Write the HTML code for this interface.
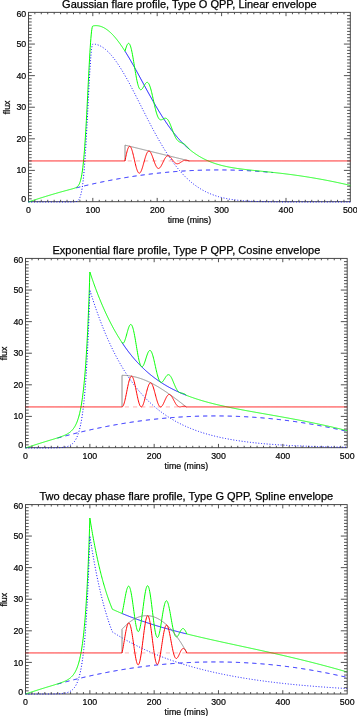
<!DOCTYPE html>
<html><head><meta charset="utf-8"><style>
html,body{margin:0;padding:0;background:#fff;}
svg{display:block;}
text{font-family:'Liberation Sans', sans-serif;fill:#000;}
.tt{font-size:11px;stroke:#000;stroke-width:0.25px;}
.tl{font-size:8.8px;stroke:#000;stroke-width:0.2px;}
.ax{fill:none;stroke:#404040;stroke-width:0.95;}
.tk{fill:none;stroke:#404040;stroke-width:0.9;}
.g{fill:none;stroke:#00ff00;stroke-width:1.0;stroke-linejoin:round;}
.dot{fill:none;stroke:#0000ff;stroke-width:1.0;stroke-dasharray:1 1.8;}
.dash{fill:none;stroke:#0000ff;stroke-width:1.0;stroke-dasharray:4.2 4;}
.r{fill:none;stroke:#ff0000;stroke-width:1.0;stroke-linejoin:round;}
.pk{fill:none;stroke:#ffb0b0;stroke-width:1.0;stroke-dasharray:4.2 4;}
.gr{fill:none;stroke:#808080;stroke-width:0.9;}
.b{fill:none;stroke:#0000ff;stroke-width:1.0;}
</style></head>
<body><svg width="357" height="716" viewBox="0 0 357 716">
<defs><filter id="bl" filterUnits="userSpaceOnUse" x="0" y="0" width="357" height="716"><feGaussianBlur stdDeviation="0.35"/></filter></defs>
<rect width="357" height="716" fill="#fff"/>
<g filter="url(#bl)">
<rect x="28.5" y="12.35" width="321.8" height="189.35" class="ax"/>
<path d="M74.77,188.25 L75.09,188.17 L75.41,188.09 L75.73,188 L76.06,187.92 L76.38,187.84 L76.7,187.76 L77.02,187.68 L77.34,187.6 L77.67,187.52 L77.99,187.44 L78.31,187.36 L78.63,187.28 L78.95,187.2 L79.28,187.12 L79.6,187.04 L79.92,186.96 L80.24,186.88 L80.56,186.8 L80.89,186.72 L81.21,186.64 L81.53,186.56 L81.85,186.49 L82.17,186.41 L82.5,186.33 L82.82,186.25 L83.14,186.18 L83.46,186.1 L83.78,186.02 L84.11,185.94 L84.43,185.87 L84.75,185.79 L85.07,185.71 L85.39,185.64 L85.72,185.56 L86.04,185.49 L86.36,185.41 L86.68,185.34 L87,185.26 L87.33,185.19 L87.65,185.11 L87.97,185.04 L88.29,184.96 L88.61,184.89 L88.94,184.81 L89.26,184.74 L89.58,184.66 L89.9,184.59 L90.22,184.52 L90.55,184.44 L90.87,184.37 L91.19,184.3 L91.51,184.23 L91.83,184.15 L92.16,184.08 L92.48,184.01 L92.8,183.94 L93.12,183.87 L93.44,183.79 L93.77,183.72 L94.09,183.65 L94.41,183.58 L94.73,183.51 L95.05,183.44 L95.38,183.37 L95.7,183.3 L96.02,183.23 L96.34,183.16 L96.66,183.09 L96.99,183.02 L97.31,182.95 L97.63,182.88 L97.95,182.81 L98.27,182.74 L98.6,182.67 L98.92,182.61 L99.24,182.54 L99.56,182.47 L99.88,182.4 L100.21,182.33 L100.53,182.27 L100.85,182.2 L101.17,182.13 L101.49,182.06 L101.82,182 L102.14,181.93 L102.46,181.86 L102.78,181.8 L103.1,181.73 L103.43,181.67 L103.75,181.6 L104.07,181.54 L104.39,181.47 L104.71,181.41 L105.04,181.34 L105.36,181.28 L105.68,181.21 L106,181.15 L106.32,181.08 L106.65,181.02 L106.97,180.95 L107.29,180.89 L107.61,180.83 L107.93,180.76 L108.26,180.7 L108.58,180.64 L108.9,180.58 L109.22,180.51 L109.54,180.45 L109.87,180.39 L110.19,180.33 L110.51,180.26 L110.83,180.2 L111.15,180.14 L111.48,180.08 L111.8,180.02 L112.12,179.96 L112.44,179.9 L112.76,179.84 L113.09,179.78 L113.41,179.72 L113.73,179.66 L114.05,179.6 L114.37,179.54 L114.7,179.48 L115.02,179.42 L115.34,179.36 L115.66,179.3 L115.98,179.24 L116.31,179.18 L116.63,179.13 L116.95,179.07 L117.27,179.01 L117.59,178.95 L117.92,178.89 L118.24,178.84 L118.56,178.78 L118.88,178.72 L119.2,178.67 L119.53,178.61 L119.85,178.55 L120.17,178.5 L120.49,178.44 L120.81,178.38 L121.14,178.33 L121.46,178.27 L121.78,178.22 L122.1,178.16 L122.42,178.11 L122.75,178.05 L123.07,178 L123.39,177.94 L123.71,177.89 L124.03,177.84 L124.36,177.78 L124.68,177.73 L125,177.67 L125.32,177.62 L125.64,177.57 L125.97,177.51 L126.29,177.46 L126.61,177.41 L126.93,177.36 L127.25,177.3 L127.58,177.25 L127.9,177.2 L128.22,177.15 L128.54,177.1 L128.86,177.05 L129.19,177 L129.51,176.94 L129.83,176.89 L130.15,176.84 L130.47,176.79 L130.8,176.74 L131.12,176.69 L131.44,176.64 L131.76,176.59 L132.08,176.54 L132.41,176.49 L132.73,176.44 L133.05,176.4 L133.37,176.35 L133.69,176.3 L134.02,176.25 L134.34,176.2 L134.66,176.15 L134.98,176.11 L135.3,176.06 L135.63,176.01 L135.95,175.96 L136.27,175.92 L136.59,175.87 L136.91,175.82 L137.24,175.78 L137.56,175.73 L137.88,175.68 L138.2,175.64 L138.52,175.59 L138.85,175.55 L139.17,175.5 L139.49,175.46 L139.81,175.41 L140.13,175.37 L140.46,175.32 L140.78,175.28 L141.1,175.23 L141.42,175.19 L141.74,175.15 L142.07,175.1 L142.39,175.06 L142.71,175.01 L143.03,174.97 L143.35,174.93 L143.68,174.89 L144,174.84 L144.32,174.8 L144.64,174.76 L144.96,174.72 L145.29,174.67 L145.61,174.63 L145.93,174.59 L146.25,174.55 L146.57,174.51 L146.9,174.47 L147.22,174.43 L147.54,174.39 L147.86,174.35 L148.18,174.31 L148.51,174.27 L148.83,174.23 L149.15,174.19 L149.47,174.15 L149.79,174.11 L150.12,174.07 L150.44,174.03 L150.76,173.99 L151.08,173.95 L151.4,173.91 L151.73,173.87 L152.05,173.84 L152.37,173.8 L152.69,173.76 L153.01,173.72 L153.34,173.69 L153.66,173.65 L153.98,173.61 L154.3,173.58 L154.62,173.54 L154.95,173.5 L155.27,173.47 L155.59,173.43 L155.91,173.39 L156.23,173.36 L156.56,173.32 L156.88,173.29 L157.2,173.25 L157.52,173.22 L157.84,173.18 L158.17,173.15 L158.49,173.11 L158.81,173.08 L159.13,173.05 L159.45,173.01 L159.78,172.98 L160.1,172.95 L160.42,172.91 L160.74,172.88 L161.06,172.85 L161.39,172.81 L161.71,172.78 L162.03,172.75 L162.35,172.72 L162.67,172.68 L163,172.65 L163.32,172.62 L163.64,172.59 L163.96,172.56 L164.28,172.53 L164.61,172.5 L164.93,172.47 L165.25,172.44 L165.57,172.41 L165.89,172.38 L166.22,172.35 L166.54,172.32 L166.86,172.29 L167.18,172.26 L167.5,172.23 L167.83,172.2 L168.15,172.17 L168.47,172.14 L168.79,172.11 L169.11,172.08 L169.44,172.06 L169.76,172.03 L170.08,172 L170.4,171.97 L170.72,171.95 L171.05,171.92 L171.37,171.89 L171.69,171.86 L172.01,171.84 L172.33,171.81 L172.66,171.79 L172.98,171.76 L173.3,171.73 L173.62,171.71 L173.94,171.68 L174.27,171.66 L174.59,171.63 L174.91,171.61 L175.23,171.58 L175.55,171.56 L175.88,171.53 L176.2,171.51 L176.52,171.48 L176.84,171.46 L177.16,171.44 L177.49,171.41 L177.81,171.39 L178.13,171.37 L178.45,171.34 L178.77,171.32 L179.1,171.3 L179.42,171.28 L179.74,171.25 L180.06,171.23 L180.38,171.21 L180.71,171.19 L181.03,171.17 L181.35,171.15 L181.67,171.12 L181.99,171.1 L182.32,171.08 L182.64,171.06 L182.96,171.04 L183.28,171.02 L183.6,171 L183.93,170.98 L184.25,170.96 L184.57,170.94 L184.89,170.92 L185.21,170.9 L185.54,170.89 L185.86,170.87 L186.18,170.85 L186.5,170.83 L186.82,170.81 L187.15,170.79 L187.47,170.78 L187.79,170.76 L188.11,170.74 L188.43,170.72 L188.76,170.71 L189.08,170.69 L189.4,170.67 L189.72,170.66 L190.04,170.64 L190.37,170.62 L190.69,170.61 L191.01,170.59 L191.33,170.58 L191.65,170.56 L191.98,170.55 L192.3,170.53 L192.62,170.52 L192.94,170.5 L193.26,170.49 L193.59,170.47 L193.91,170.46 L194.23,170.45 L194.55,170.43 L194.87,170.42 L195.2,170.41 L195.52,170.39 L195.84,170.38 L196.16,170.37 L196.48,170.35 L196.81,170.34 L197.13,170.33 L197.45,170.32 L197.77,170.31 L198.09,170.29 L198.42,170.28 L198.74,170.27 L199.06,170.26 L199.38,170.25 L199.7,170.24 L200.03,170.23 L200.35,170.22 L200.67,170.21 L200.99,170.2 L201.31,170.19 L201.64,170.18 L201.96,170.17 L202.28,170.16 L202.6,170.15 L202.92,170.14 L203.25,170.13 L203.57,170.12 L203.89,170.11 L204.21,170.11 L204.53,170.1 L204.86,170.09 L205.18,170.08 L205.5,170.08 L205.82,170.07 L206.14,170.06 L206.47,170.05 L206.79,170.05 L207.11,170.04 L207.43,170.03 L207.75,170.03 L208.08,170.02 L208.4,170.02 L208.72,170.01 L209.04,170.01 L209.36,170 L209.69,169.99 L210.01,169.99 L210.33,169.99 L210.65,169.98 L210.97,169.98 L211.3,169.97 L211.62,169.97 L211.94,169.96 L212.26,169.96 L212.58,169.96 L212.91,169.95 L213.23,169.95 L213.55,169.95 L213.87,169.95 L214.19,169.94 L214.52,169.94 L214.84,169.94 L215.16,169.94 L215.48,169.94 L215.8,169.93 L216.13,169.93 L216.45,169.93 L216.77,169.93 L217.09,169.93 L217.41,169.93 L217.74,169.93 L218.06,169.93 L218.38,169.93 L218.7,169.93 L219.02,169.93 L219.35,169.93 L219.67,169.93 L219.99,169.93 L220.31,169.93 L220.63,169.93 L220.96,169.93 L221.28,169.94 L221.6,169.94 L221.92,169.94 L222.24,169.94 L222.57,169.94 L222.89,169.95 L223.21,169.95 L223.53,169.95 L223.85,169.95 L224.18,169.96 L224.5,169.96 L224.82,169.96 L225.14,169.97 L225.46,169.97 L225.79,169.98 L226.11,169.98 L226.43,169.99 L226.75,169.99 L227.07,169.99 L227.4,170 L227.72,170.01 L228.04,170.01 L228.36,170.02 L228.68,170.02 L229.01,170.03 L229.33,170.03 L229.65,170.04 L229.97,170.05 L230.29,170.05 L230.62,170.06 L230.94,170.07 L231.26,170.08 L231.58,170.08 L231.9,170.09 L232.23,170.1 L232.55,170.11 L232.87,170.11 L233.19,170.12 L233.51,170.13 L233.84,170.14 L234.16,170.15 L234.48,170.16 L234.8,170.17 L235.12,170.18 L235.45,170.19 L235.77,170.2 L236.09,170.21 L236.41,170.22 L236.73,170.23 L237.06,170.24 L237.38,170.25 L237.7,170.26 L238.02,170.27 L238.34,170.28 L238.67,170.29 L238.99,170.31 L239.31,170.32 L239.63,170.33 L239.95,170.34 L240.28,170.35 L240.6,170.37 L240.92,170.38 L241.24,170.39 L241.56,170.41 L241.89,170.42 L242.21,170.43 L242.53,170.45 L242.85,170.46 L243.17,170.47 L243.5,170.49 L243.82,170.5 L244.14,170.52 L244.46,170.53 L244.78,170.55 L245.11,170.56 L245.43,170.58 L245.75,170.59 L246.07,170.61 L246.39,170.62 L246.72,170.64 L247.04,170.66 L247.36,170.67 L247.68,170.69 L248,170.71 L248.33,170.72 L248.65,170.74 L248.97,170.76 L249.29,170.78 L249.61,170.79 L249.94,170.81 L250.26,170.83 L250.58,170.85 L250.9,170.87 L251.22,170.89 L251.55,170.9 L251.87,170.92 L252.19,170.94 L252.51,170.96 L252.83,170.98 L253.16,171 L253.48,171.02 L253.8,171.04 L254.12,171.06 L254.44,171.08 L254.77,171.1 L255.09,171.12 L255.41,171.15 L255.73,171.17 L256.05,171.19 L256.38,171.21 L256.7,171.23 L257.02,171.25 L257.34,171.28 L257.66,171.3 L257.99,171.32 L258.31,171.34 L258.63,171.37 L258.95,171.39 L259.27,171.41 L259.6,171.44 L259.92,171.46 L260.24,171.48 L260.56,171.51 L260.88,171.53 L261.21,171.56 L261.53,171.58 L261.85,171.61 L262.17,171.63 L262.49,171.66 L262.82,171.68 L263.14,171.71 L263.46,171.73 L263.78,171.76 L264.1,171.79 L264.43,171.81 L264.75,171.84 L265.07,171.86 L265.39,171.89 L265.71,171.92 L266.04,171.95 L266.36,171.97 L266.68,172 L267,172.03 L267.32,172.06 L267.65,172.08 L267.97,172.11 L268.29,172.14 L268.61,172.17 L268.93,172.2 L269.26,172.23 L269.58,172.26 L269.9,172.29 L270.22,172.32 L270.54,172.35 L270.87,172.38 L271.19,172.41 L271.51,172.44 L271.83,172.47 L272.15,172.5 L272.48,172.53 L272.8,172.56 L273.12,172.59" class="dash" stroke-dashoffset="55.88"/>
<path d="M125,51.2 L125.32,51.71 L125.64,52.23 L125.97,52.74 L126.29,53.26 L126.61,53.79 L126.93,54.31 L127.25,54.84 L127.58,55.37 L127.9,55.91 L128.22,56.45 L128.54,56.99 L128.86,57.53 L129.19,58.07 L129.51,58.62 L129.83,59.17 L130.15,59.72 L130.47,60.28 L130.8,60.83 L131.12,61.39 L131.44,61.95 L131.76,62.52 L132.08,63.08 L132.41,63.65 L132.73,64.22 L133.05,64.79 L133.37,65.36 L133.69,65.93 L134.02,66.51 L134.34,67.08 L134.66,67.66 L134.98,68.24 L135.3,68.82 L135.63,69.41 L135.95,69.99 L136.27,70.57 L136.59,71.16 L136.91,71.75 L137.24,72.33 L137.56,72.92 L137.88,73.51 L138.2,74.1 L138.52,74.69 L138.85,75.28 L139.17,75.88 L139.49,76.47 L139.81,77.06 L140.13,77.65 L140.46,78.25 L140.78,78.84 L141.1,79.44 L141.42,80.03 L141.74,80.63 L142.07,81.22 L142.39,81.82 L142.71,82.41 L143.03,83 L143.35,83.6 L143.68,84.19 L144,84.79 L144.32,85.38 L144.64,85.97 L144.96,86.57 L145.29,87.16 L145.61,87.75 L145.93,88.34 L146.25,88.93 L146.57,89.52 L146.9,90.11 L147.22,90.7 L147.54,91.29 L147.86,91.88 L148.18,92.46 L148.51,93.05 L148.83,93.63 L149.15,94.21 L149.47,94.8 L149.79,95.38 L150.12,95.96 L150.44,96.53 L150.76,97.11 L151.08,97.69 L151.4,98.26 L151.73,98.83 L152.05,99.41 L152.37,99.98 L152.69,100.54 L153.01,101.11 L153.34,101.68 L153.66,102.24 L153.98,102.8 L154.3,103.36 L154.62,103.92 L154.95,104.48 L155.27,105.03 L155.59,105.59 L155.91,106.14 L156.23,106.69 L156.56,107.23 L156.88,107.78 L157.2,108.32 L157.52,108.86 L157.84,109.4 L158.17,109.94 L158.49,110.47 L158.81,111.01 L159.13,111.54 L159.45,112.06 L159.78,112.59 L160.1,113.11 L160.42,113.63 L160.74,114.15 L161.06,114.67 L161.39,115.18 L161.71,115.7 L162.03,116.21 L162.35,116.71 L162.67,117.22 L163,117.72 L163.32,118.22 L163.64,118.71 L163.96,119.21 L164.28,119.7 L164.61,120.19 L164.93,120.68 L165.25,121.16 L165.57,121.64 L165.89,122.12 L166.22,122.59 L166.54,123.07 L166.86,123.54 L167.18,124 L167.5,124.47 L167.83,124.93 L168.15,125.39 L168.47,125.85 L168.79,126.3 L169.11,126.75 L169.44,127.2 L169.76,127.64 L170.08,128.09 L170.4,128.53 L170.72,128.96 L171.05,129.4 L171.37,129.83 L171.69,130.25 L172.01,130.68 L172.33,131.1 L172.66,131.52 L172.98,131.94 L173.3,132.35 L173.62,132.76 L173.94,133.17 L174.27,133.57 L174.59,133.97 L174.91,134.37 L175.23,134.77 L175.55,135.16 L175.88,135.55 L176.2,135.94 L176.52,136.32 L176.84,136.7 L177.16,137.08 L177.49,137.46 L177.81,137.83 L178.13,138.2 L178.45,138.56 L178.77,138.93 L179.1,139.29 L179.42,139.64 L179.74,140 L180.06,140.35 L180.38,140.7 L180.71,141.04 L181.03,141.39 L181.35,141.73 L181.67,142.06 L181.99,142.4 L182.32,142.73 L182.64,143.06 L182.96,143.38 L183.28,143.7 L183.6,144.02 L183.93,144.34 L184.25,144.65 L184.57,144.97 L184.89,145.27 L185.21,145.58 L185.54,145.88 L185.86,146.18 L186.18,146.48 L186.5,146.77 L186.82,147.07 L187.15,147.35 L187.47,147.64 L187.79,147.92 L188.11,148.2 L188.43,148.48 L188.76,148.76 L189.08,149.03 L189.4,149.3" class="b"/>
<path d="M28.4,201.99 L28.72,201.88 L29.04,201.77 L29.37,201.66 L29.69,201.56 L30.01,201.45 L30.33,201.34 L30.65,201.23 L30.98,201.13 L31.3,201.02 L31.62,200.91 L31.94,200.81 L32.26,200.7 L32.59,200.59 L32.91,200.49 L33.23,200.38 L33.55,200.27 L33.87,200.17 L34.2,200.06 L34.52,199.96 L34.84,199.85 L35.16,199.75 L35.48,199.64 L35.81,199.54 L36.13,199.43 L36.45,199.33 L36.77,199.23 L37.09,199.12 L37.42,199.02 L37.74,198.92 L38.06,198.81 L38.38,198.71 L38.7,198.61 L39.03,198.5 L39.35,198.4 L39.67,198.3 L39.99,198.2 L40.31,198.09 L40.64,197.99 L40.96,197.89 L41.28,197.79 L41.6,197.69 L41.92,197.59 L42.25,197.49 L42.57,197.39 L42.89,197.29 L43.21,197.19 L43.53,197.09 L43.86,196.99 L44.18,196.89 L44.5,196.79 L44.82,196.69 L45.14,196.59 L45.47,196.49 L45.79,196.39 L46.11,196.29 L46.43,196.19 L46.75,196.09 L47.08,196 L47.4,195.9 L47.72,195.8 L48.04,195.7 L48.36,195.61 L48.69,195.51 L49.01,195.41 L49.33,195.31 L49.65,195.22 L49.97,195.12 L50.3,195.03 L50.62,194.93 L50.94,194.83 L51.26,194.74 L51.58,194.64 L51.91,194.55 L52.23,194.45 L52.55,194.36 L52.87,194.26 L53.19,194.17 L53.52,194.07 L53.84,193.98 L54.16,193.88 L54.48,193.79 L54.8,193.7 L55.13,193.6 L55.45,193.51 L55.77,193.42 L56.09,193.32 L56.41,193.23 L56.74,193.14 L57.06,193.05 L57.38,192.95 L57.7,192.86 L58.02,192.77 L58.35,192.68 L58.67,192.59 L58.99,192.5 L59.31,192.41 L59.63,192.31 L59.96,192.22 L60.28,192.13 L60.6,192.04 L60.92,191.95 L61.24,191.86 L61.57,191.77 L61.89,191.68 L62.21,191.59 L62.53,191.5 L62.85,191.42 L63.18,191.33 L63.5,191.24 L63.82,191.15 L64.14,191.06 L64.46,190.97 L64.79,190.88 L65.11,190.8 L65.43,190.71 L65.75,190.62 L66.07,190.53 L66.4,190.45 L66.72,190.36 L67.04,190.27 L67.36,190.19 L67.68,190.1 L68.01,190.01 L68.33,189.93 L68.65,189.84 L68.97,189.76 L69.29,189.67 L69.62,189.59 L69.94,189.5 L70.26,189.41 L70.58,189.33 L70.9,189.24 L71.23,189.16 L71.55,189.07 L71.87,188.98 L72.19,188.89 L72.51,188.81 L72.84,188.71 L73.16,188.62 L73.48,188.53 L73.8,188.43 L74.12,188.32 L74.45,188.22 L74.77,188.1 L75.09,187.98 L75.41,187.84 L75.73,187.7 L76.06,187.53 L76.38,187.35 L76.7,187.15 L77.02,186.92 L77.34,186.65 L77.67,186.35 L77.99,186 L78.31,185.6 L78.63,185.14 L78.95,184.6 L79.28,183.98 L79.6,183.27 L79.92,182.45 L80.24,181.5 L80.56,180.42 L80.89,179.18 L81.21,177.78 L81.53,176.18 L81.85,174.38 L82.17,172.36 L82.5,170.1 L82.82,167.59 L83.14,164.8 L83.46,161.73 L83.78,158.36 L84.11,154.69 L84.43,150.7 L84.75,146.41 L85.07,141.8 L85.39,136.89 L85.72,131.69 L86.04,126.21 L86.36,120.48 L86.68,114.53 L87,108.38 L87.33,102.09 L87.65,95.69 L87.97,89.24 L88.29,82.79 L88.61,76.4 L88.94,70.12 L89.26,64.04 L89.58,58.2 L89.9,52.67 L90.22,47.51 L90.55,42.8 L90.87,38.57 L91.19,34.89 L91.51,31.8 L91.83,29.34 L92.16,27.54 L92.48,26.42 L92.8,26 L93.12,25.93 L93.44,25.87 L93.77,25.81 L94.09,25.77 L94.41,25.73 L94.73,25.69 L95.05,25.67 L95.38,25.65 L95.7,25.64 L96.02,25.64 L96.34,25.64 L96.66,25.65 L96.99,25.67 L97.31,25.69 L97.63,25.73 L97.95,25.77 L98.27,25.81 L98.6,25.87 L98.92,25.93 L99.24,25.99 L99.56,26.07 L99.88,26.15 L100.21,26.24 L100.53,26.33 L100.85,26.44 L101.17,26.54 L101.49,26.66 L101.82,26.78 L102.14,26.91 L102.46,27.05 L102.78,27.19 L103.1,27.34 L103.43,27.5 L103.75,27.67 L104.07,27.84 L104.39,28.01 L104.71,28.2 L105.04,28.39 L105.36,28.58 L105.68,28.79 L106,29 L106.32,29.21 L106.65,29.43 L106.97,29.66 L107.29,29.9 L107.61,30.14 L107.93,30.39 L108.26,30.64 L108.58,30.9 L108.9,31.17 L109.22,31.44 L109.54,31.72 L109.87,32 L110.19,32.29 L110.51,32.59 L110.83,32.89 L111.15,33.2 L111.48,33.51 L111.8,33.83 L112.12,34.16 L112.44,34.49 L112.76,34.83 L113.09,35.17 L113.41,35.52 L113.73,35.87 L114.05,36.23 L114.37,36.59 L114.7,36.96 L115.02,37.33 L115.34,37.71 L115.66,38.1 L115.98,38.49 L116.31,38.88 L116.63,39.28 L116.95,39.68 L117.27,40.09 L117.59,40.51 L117.92,40.93 L118.24,41.35 L118.56,41.78 L118.88,42.21 L119.2,42.65 L119.53,43.09 L119.85,43.53 L120.17,43.98 L120.49,44.44 L120.81,44.89 L121.14,45.36 L121.46,45.82 L121.78,46.29 L122.1,46.77 L122.42,47.25 L122.75,47.73 L123.07,48.21 L123.39,48.7 L123.71,49.2 L124.03,49.69 L124.36,50.19 L124.68,50.7 L125,51.2 L125.32,50.07 L125.64,48.98 L125.97,47.94 L126.29,46.97 L126.61,46.09 L126.93,45.31 L127.25,44.64 L127.58,44.11 L127.9,43.71 L128.22,43.45 L128.54,43.35 L128.86,43.41 L129.19,43.63 L129.51,44.01 L129.83,44.56 L130.15,45.27 L130.47,46.14 L130.8,47.16 L131.12,48.33 L131.44,49.64 L131.76,51.08 L132.08,52.63 L132.41,54.29 L132.73,56.05 L133.05,57.88 L133.37,59.77 L133.69,61.71 L134.02,63.68 L134.34,65.67 L134.66,67.66 L134.98,69.64 L135.3,71.58 L135.63,73.48 L135.95,75.32 L136.27,77.09 L136.59,78.77 L136.91,80.36 L137.24,81.84 L137.56,83.21 L137.88,84.45 L138.2,85.57 L138.52,86.56 L138.85,87.41 L139.17,88.13 L139.49,88.71 L139.81,89.16 L140.13,89.47 L140.46,89.66 L140.78,89.74 L141.1,89.7 L141.42,89.55 L141.74,89.31 L142.07,88.99 L142.39,88.59 L142.71,88.14 L143.03,87.63 L143.35,87.09 L143.68,86.52 L144,85.95 L144.32,85.38 L144.64,84.83 L144.96,84.3 L145.29,83.82 L145.61,83.38 L145.93,83.01 L146.25,82.71 L146.57,82.5 L146.9,82.37 L147.22,82.33 L147.54,82.4 L147.86,82.57 L148.18,82.85 L148.51,83.24 L148.83,83.74 L149.15,84.34 L149.47,85.06 L149.79,85.88 L150.12,86.79 L150.44,87.8 L150.76,88.9 L151.08,90.08 L151.4,91.34 L151.73,92.65 L152.05,94.02 L152.37,95.43 L152.69,96.88 L153.01,98.35 L153.34,99.84 L153.66,101.32 L153.98,102.8 L154.3,104.26 L154.62,105.69 L154.95,107.09 L155.27,108.44 L155.59,109.73 L155.91,110.96 L156.23,112.13 L156.56,113.22 L156.88,114.23 L157.2,115.16 L157.52,116 L157.84,116.76 L158.17,117.43 L158.49,118.01 L158.81,118.51 L159.13,118.92 L159.45,119.25 L159.78,119.5 L160.1,119.68 L160.42,119.79 L160.74,119.84 L161.06,119.83 L161.39,119.78 L161.71,119.69 L162.03,119.56 L162.35,119.41 L162.67,119.24 L163,119.06 L163.32,118.89 L163.64,118.71 L163.96,118.56 L164.28,118.42 L164.61,118.31 L164.93,118.23 L165.25,118.2 L165.57,118.21 L165.89,118.26 L166.22,118.37 L166.54,118.53 L166.86,118.75 L167.18,119.03 L167.5,119.36 L167.83,119.76 L168.15,120.21 L168.47,120.71 L168.79,121.27 L169.11,121.88 L169.44,122.54 L169.76,123.24 L170.08,123.98 L170.4,124.76 L170.72,125.56 L171.05,126.38 L171.37,127.23 L171.69,128.08 L172.01,128.94 L172.33,129.81 L172.66,130.67 L172.98,131.52 L173.3,132.35 L173.62,133.16 L173.94,133.96 L174.27,134.72 L174.59,135.45 L174.91,136.15 L175.23,136.81 L175.55,137.43 L175.88,138.02 L176.2,138.56 L176.52,139.06 L176.84,139.52 L177.16,139.93 L177.49,140.31 L177.81,140.65 L178.13,140.96 L178.45,141.23 L178.77,141.47 L179.1,141.69 L179.42,141.88 L179.74,142.05 L180.06,142.2 L180.38,142.34 L180.71,142.47 L181.03,142.59 L181.35,142.71 L181.67,142.83 L181.99,142.96 L182.32,143.09 L182.64,143.23 L182.96,143.38 L183.28,143.55 L183.6,143.73 L183.93,143.93 L184.25,144.14 L184.57,144.37 L184.89,144.62 L185.21,144.89 L185.54,145.18 L185.86,145.48 L186.18,145.8 L186.5,146.12 L186.82,146.46 L187.15,146.81 L187.47,147.17 L187.79,147.53 L188.11,147.89 L188.43,148.25 L188.76,148.61 L189.08,148.96 L189.4,149.3 L189.72,149.57 L190.04,149.83 L190.37,150.09 L190.69,150.35 L191.01,150.61 L191.33,150.86 L191.65,151.11 L191.98,151.36 L192.3,151.61 L192.62,151.85 L192.94,152.09 L193.26,152.33 L193.59,152.57 L193.91,152.8 L194.23,153.03 L194.55,153.26 L194.87,153.49 L195.2,153.71 L195.52,153.93 L195.84,154.15 L196.16,154.37 L196.48,154.58 L196.81,154.8 L197.13,155 L197.45,155.21 L197.77,155.42 L198.09,155.62 L198.42,155.82 L198.74,156.02 L199.06,156.21 L199.38,156.41 L199.7,156.6 L200.03,156.79 L200.35,156.98 L200.67,157.16 L200.99,157.35 L201.31,157.53 L201.64,157.71 L201.96,157.88 L202.28,158.06 L202.6,158.23 L202.92,158.4 L203.25,158.57 L203.57,158.74 L203.89,158.9 L204.21,159.06 L204.53,159.22 L204.86,159.38 L205.18,159.54 L205.5,159.69 L205.82,159.85 L206.14,160 L206.47,160.15 L206.79,160.3 L207.11,160.44 L207.43,160.59 L207.75,160.73 L208.08,160.87 L208.4,161.01 L208.72,161.14 L209.04,161.28 L209.36,161.41 L209.69,161.55 L210.01,161.68 L210.33,161.81 L210.65,161.93 L210.97,162.06 L211.3,162.18 L211.62,162.31 L211.94,162.43 L212.26,162.55 L212.58,162.66 L212.91,162.78 L213.23,162.9 L213.55,163.01 L213.87,163.12 L214.19,163.23 L214.52,163.34 L214.84,163.45 L215.16,163.56 L215.48,163.66 L215.8,163.77 L216.13,163.87 L216.45,163.97 L216.77,164.07 L217.09,164.17 L217.41,164.27 L217.74,164.36 L218.06,164.46 L218.38,164.55 L218.7,164.64 L219.02,164.73 L219.35,164.82 L219.67,164.91 L219.99,165 L220.31,165.09 L220.63,165.17 L220.96,165.26 L221.28,165.34 L221.6,165.43 L221.92,165.51 L222.24,165.59 L222.57,165.67 L222.89,165.75 L223.21,165.82 L223.53,165.9 L223.85,165.98 L224.18,166.05 L224.5,166.12 L224.82,166.2 L225.14,166.27 L225.46,166.34 L225.79,166.41 L226.11,166.48 L226.43,166.55 L226.75,166.61 L227.07,166.68 L227.4,166.75 L227.72,166.81 L228.04,166.88 L228.36,166.94 L228.68,167 L229.01,167.07 L229.33,167.13 L229.65,167.19 L229.97,167.25 L230.29,167.31 L230.62,167.37 L230.94,167.42 L231.26,167.48 L231.58,167.54 L231.9,167.59 L232.23,167.65 L232.55,167.7 L232.87,167.76 L233.19,167.81 L233.51,167.86 L233.84,167.92 L234.16,167.97 L234.48,168.02 L234.8,168.07 L235.12,168.12 L235.45,168.17 L235.77,168.22 L236.09,168.27 L236.41,168.32 L236.73,168.36 L237.06,168.41 L237.38,168.46 L237.7,168.5 L238.02,168.55 L238.34,168.6 L238.67,168.64 L238.99,168.69 L239.31,168.73 L239.63,168.77 L239.95,168.82 L240.28,168.86 L240.6,168.9 L240.92,168.95 L241.24,168.99 L241.56,169.03 L241.89,169.07 L242.21,169.11 L242.53,169.15 L242.85,169.19 L243.17,169.23 L243.5,169.27 L243.82,169.31 L244.14,169.35 L244.46,169.39 L244.78,169.43 L245.11,169.47 L245.43,169.51 L245.75,169.54 L246.07,169.58 L246.39,169.62 L246.72,169.66 L247.04,169.69 L247.36,169.73 L247.68,169.77 L248,169.8 L248.33,169.84 L248.65,169.88 L248.97,169.91 L249.29,169.95 L249.61,169.98 L249.94,170.02 L250.26,170.05 L250.58,170.09 L250.9,170.12 L251.22,170.16 L251.55,170.19 L251.87,170.23 L252.19,170.26 L252.51,170.3 L252.83,170.33 L253.16,170.36 L253.48,170.4 L253.8,170.43 L254.12,170.47 L254.44,170.5 L254.77,170.53 L255.09,170.57 L255.41,170.6 L255.73,170.63 L256.05,170.67 L256.38,170.7 L256.7,170.73 L257.02,170.77 L257.34,170.8 L257.66,170.83 L257.99,170.87 L258.31,170.9 L258.63,170.93 L258.95,170.96 L259.27,171 L259.6,171.03 L259.92,171.06 L260.24,171.1 L260.56,171.13 L260.88,171.16 L261.21,171.2 L261.53,171.23 L261.85,171.26 L262.17,171.29 L262.49,171.33 L262.82,171.36 L263.14,171.39 L263.46,171.43 L263.78,171.46 L264.1,171.49 L264.43,171.53 L264.75,171.56 L265.07,171.59 L265.39,171.62 L265.71,171.66 L266.04,171.69 L266.36,171.72 L266.68,171.76 L267,171.79 L267.32,171.82 L267.65,171.86 L267.97,171.89 L268.29,171.93 L268.61,171.96 L268.93,171.99 L269.26,172.03 L269.58,172.06 L269.9,172.1 L270.22,172.13 L270.54,172.16 L270.87,172.2 L271.19,172.23 L271.51,172.27 L271.83,172.3 L272.15,172.34 L272.48,172.37 L272.8,172.41 L273.12,172.44 L273.44,172.48 L273.76,172.51 L274.09,172.55 L274.41,172.58 L274.73,172.62 L275.05,172.65 L275.37,172.69 L275.7,172.72 L276.02,172.76 L276.34,172.8 L276.66,172.83 L276.98,172.87 L277.31,172.91 L277.63,172.94 L277.95,172.98 L278.27,173.02 L278.59,173.05 L278.92,173.09 L279.24,173.13 L279.56,173.16 L279.88,173.2 L280.2,173.24 L280.53,173.28 L280.85,173.31 L281.17,173.35 L281.49,173.39 L281.81,173.43 L282.14,173.47 L282.46,173.5 L282.78,173.54 L283.1,173.58 L283.42,173.62 L283.75,173.66 L284.07,173.7 L284.39,173.74 L284.71,173.78 L285.03,173.82 L285.36,173.86 L285.68,173.9 L286,173.94 L286.32,173.98 L286.64,174.02 L286.97,174.06 L287.29,174.1 L287.61,174.14 L287.93,174.18 L288.25,174.22 L288.58,174.26 L288.9,174.3 L289.22,174.35 L289.54,174.39 L289.86,174.43 L290.19,174.47 L290.51,174.51 L290.83,174.56 L291.15,174.6 L291.47,174.64 L291.8,174.68 L292.12,174.73 L292.44,174.77 L292.76,174.81 L293.08,174.86 L293.41,174.9 L293.73,174.94 L294.05,174.99 L294.37,175.03 L294.69,175.08 L295.02,175.12 L295.34,175.17 L295.66,175.21 L295.98,175.25 L296.3,175.3 L296.63,175.35 L296.95,175.39 L297.27,175.44 L297.59,175.48 L297.91,175.53 L298.24,175.57 L298.56,175.62 L298.88,175.67 L299.2,175.71 L299.52,175.76 L299.85,175.81 L300.17,175.85 L300.49,175.9 L300.81,175.95 L301.13,176 L301.46,176.04 L301.78,176.09 L302.1,176.14 L302.42,176.19 L302.74,176.24 L303.07,176.29 L303.39,176.34 L303.71,176.38 L304.03,176.43 L304.35,176.48 L304.68,176.53 L305,176.58 L305.32,176.63 L305.64,176.68 L305.96,176.73 L306.29,176.78 L306.61,176.83 L306.93,176.88 L307.25,176.94 L307.57,176.99 L307.9,177.04 L308.22,177.09 L308.54,177.14 L308.86,177.19 L309.18,177.25 L309.51,177.3 L309.83,177.35 L310.15,177.4 L310.47,177.46 L310.79,177.51 L311.12,177.56 L311.44,177.62 L311.76,177.67 L312.08,177.72 L312.4,177.78 L312.73,177.83 L313.05,177.88 L313.37,177.94 L313.69,177.99 L314.01,178.05 L314.34,178.1 L314.66,178.16 L314.98,178.21 L315.3,178.27 L315.62,178.32 L315.95,178.38 L316.27,178.44 L316.59,178.49 L316.91,178.55 L317.23,178.61 L317.56,178.66 L317.88,178.72 L318.2,178.78 L318.52,178.83 L318.84,178.89 L319.17,178.95 L319.49,179.01 L319.81,179.06 L320.13,179.12 L320.45,179.18 L320.78,179.24 L321.1,179.3 L321.42,179.36 L321.74,179.42 L322.06,179.48 L322.39,179.54 L322.71,179.59 L323.03,179.65 L323.35,179.71 L323.67,179.77 L324,179.84 L324.32,179.9 L324.64,179.96 L324.96,180.02 L325.28,180.08 L325.61,180.14 L325.93,180.2 L326.25,180.26 L326.57,180.32 L326.89,180.39 L327.22,180.45 L327.54,180.51 L327.86,180.57 L328.18,180.64 L328.5,180.7 L328.83,180.76 L329.15,180.83 L329.47,180.89 L329.79,180.95 L330.11,181.02 L330.44,181.08 L330.76,181.15 L331.08,181.21 L331.4,181.27 L331.72,181.34 L332.05,181.4 L332.37,181.47 L332.69,181.53 L333.01,181.6 L333.33,181.67 L333.66,181.73 L333.98,181.8 L334.3,181.86 L334.62,181.93 L334.94,182 L335.27,182.06 L335.59,182.13 L335.91,182.2 L336.23,182.27 L336.55,182.33 L336.88,182.4 L337.2,182.47 L337.52,182.54 L337.84,182.61 L338.16,182.67 L338.49,182.74 L338.81,182.81 L339.13,182.88 L339.45,182.95 L339.77,183.02 L340.1,183.09 L340.42,183.16 L340.74,183.23 L341.06,183.3 L341.38,183.37 L341.71,183.44 L342.03,183.51 L342.35,183.58 L342.67,183.65 L342.99,183.72 L343.32,183.79 L343.64,183.87 L343.96,183.94 L344.28,184.01 L344.6,184.08 L344.93,184.15 L345.25,184.23 L345.57,184.3 L345.89,184.37 L346.21,184.44 L346.54,184.52 L346.86,184.59 L347.18,184.66 L347.5,184.74 L347.82,184.81 L348.15,184.89 L348.47,184.96 L348.79,185.04 L349.11,185.11 L349.43,185.19 L349.76,185.26 L350.08,185.34 L350.4,185.41" class="g"/>
<path d="M28.4,201.99 L28.72,201.99 L29.04,201.99 L29.37,201.99 L29.69,201.99 L30.01,201.99 L30.33,201.99 L30.65,201.99 L30.98,201.99 L31.3,201.99 L31.62,201.99 L31.94,201.99 L32.26,201.99 L32.59,201.99 L32.91,201.99 L33.23,201.99 L33.55,201.99 L33.87,201.99 L34.2,201.99 L34.52,201.99 L34.84,201.99 L35.16,201.99 L35.48,201.99 L35.81,201.99 L36.13,201.99 L36.45,201.99 L36.77,201.99 L37.09,201.99 L37.42,201.99 L37.74,201.99 L38.06,201.99 L38.38,201.99 L38.7,201.99 L39.03,201.99 L39.35,201.99 L39.67,201.99 L39.99,201.99 L40.31,201.99 L40.64,201.99 L40.96,201.99 L41.28,201.99 L41.6,201.99 L41.92,201.99 L42.25,201.99 L42.57,201.99 L42.89,201.99 L43.21,201.99 L43.53,201.99 L43.86,201.99 L44.18,201.99 L44.5,201.99 L44.82,201.99 L45.14,201.99 L45.47,201.99 L45.79,201.99 L46.11,201.99 L46.43,201.99 L46.75,201.99 L47.08,201.99 L47.4,201.99 L47.72,201.99 L48.04,201.99 L48.36,201.99 L48.69,201.99 L49.01,201.99 L49.33,201.99 L49.65,201.99 L49.97,201.99 L50.3,201.99 L50.62,201.99 L50.94,201.99 L51.26,201.99 L51.58,201.99 L51.91,201.99 L52.23,201.99 L52.55,201.99 L52.87,201.99 L53.19,201.99 L53.52,201.99 L53.84,201.99 L54.16,201.99 L54.48,201.99 L54.8,201.99 L55.13,201.99 L55.45,201.99 L55.77,201.99 L56.09,201.99 L56.41,201.99 L56.74,201.99 L57.06,201.99 L57.38,201.99 L57.7,201.99 L58.02,201.99 L58.35,201.99 L58.67,201.99 L58.99,201.99 L59.31,201.99 L59.63,201.99 L59.96,201.99 L60.28,201.99 L60.6,201.99 L60.92,201.99 L61.24,201.99 L61.57,201.99 L61.89,201.99 L62.21,201.99 L62.53,201.99 L62.85,201.99 L63.18,201.99 L63.5,201.99 L63.82,201.99 L64.14,201.99 L64.46,201.99 L64.79,201.99 L65.11,201.99 L65.43,201.99 L65.75,201.99 L66.07,201.99 L66.4,201.99 L66.72,201.99 L67.04,201.99 L67.36,201.99 L67.68,201.99 L68.01,201.99 L68.33,201.99 L68.65,201.99 L68.97,201.99 L69.29,201.99 L69.62,201.99 L69.94,201.99 L70.26,201.99 L70.58,201.99 L70.9,201.98 L71.23,201.98 L71.55,201.98 L71.87,201.98 L72.19,201.97 L72.51,201.97 L72.84,201.96 L73.16,201.95 L73.48,201.94 L73.8,201.92 L74.12,201.9 L74.45,201.87 L74.77,201.84 L75.09,201.8 L75.41,201.75 L75.73,201.68 L76.06,201.6 L76.38,201.5 L76.7,201.38 L77.02,201.23 L77.34,201.05 L77.67,200.82 L77.99,200.56 L78.31,200.24 L78.63,199.85 L78.95,199.4 L79.28,198.86 L79.6,198.22 L79.92,197.48 L80.24,196.61 L80.56,195.61 L80.89,194.45 L81.21,193.12 L81.53,191.61 L81.85,189.89 L82.17,187.95 L82.5,185.76 L82.82,183.32 L83.14,180.61 L83.46,177.62 L83.78,174.33 L84.11,170.73 L84.43,166.83 L84.75,162.61 L85.07,158.08 L85.39,153.24 L85.72,148.11 L86.04,142.71 L86.36,137.06 L86.68,131.18 L87,125.11 L87.33,118.89 L87.65,112.57 L87.97,106.19 L88.29,99.82 L88.61,93.5 L88.94,87.3 L89.26,81.29 L89.58,75.52 L89.9,70.07 L90.22,64.99 L90.55,60.34 L90.87,56.19 L91.19,52.58 L91.51,49.57 L91.83,47.18 L92.16,45.45 L92.48,44.4 L92.8,44.05 L93.12,44.05 L93.44,44.06 L93.77,44.08 L94.09,44.1 L94.41,44.14 L94.73,44.17 L95.05,44.22 L95.38,44.27 L95.7,44.33 L96.02,44.4 L96.34,44.47 L96.66,44.55 L96.99,44.64 L97.31,44.73 L97.63,44.84 L97.95,44.94 L98.27,45.06 L98.6,45.18 L98.92,45.31 L99.24,45.45 L99.56,45.59 L99.88,45.74 L100.21,45.89 L100.53,46.06 L100.85,46.23 L101.17,46.4 L101.49,46.59 L101.82,46.78 L102.14,46.97 L102.46,47.18 L102.78,47.39 L103.1,47.6 L103.43,47.82 L103.75,48.05 L104.07,48.29 L104.39,48.53 L104.71,48.78 L105.04,49.04 L105.36,49.3 L105.68,49.57 L106,49.84 L106.32,50.12 L106.65,50.41 L106.97,50.7 L107.29,51 L107.61,51.3 L107.93,51.61 L108.26,51.93 L108.58,52.25 L108.9,52.58 L109.22,52.92 L109.54,53.26 L109.87,53.61 L110.19,53.96 L110.51,54.32 L110.83,54.68 L111.15,55.05 L111.48,55.42 L111.8,55.81 L112.12,56.19 L112.44,56.58 L112.76,56.98 L113.09,57.38 L113.41,57.79 L113.73,58.2 L114.05,58.62 L114.37,59.04 L114.7,59.47 L115.02,59.9 L115.34,60.34 L115.66,60.79 L115.98,61.23 L116.31,61.69 L116.63,62.14 L116.95,62.61 L117.27,63.07 L117.59,63.55 L117.92,64.02 L118.24,64.5 L118.56,64.99 L118.88,65.48 L119.2,65.97 L119.53,66.47 L119.85,66.97 L120.17,67.48 L120.49,67.99 L120.81,68.5 L121.14,69.02 L121.46,69.54 L121.78,70.07 L122.1,70.6 L122.42,71.13 L122.75,71.67 L123.07,72.21 L123.39,72.75 L123.71,73.3 L124.03,73.85 L124.36,74.4 L124.68,74.96 L125,75.52 L125.32,76.08 L125.64,76.65 L125.97,77.22 L126.29,77.79 L126.61,78.37 L126.93,78.95 L127.25,79.53 L127.58,80.11 L127.9,80.7 L128.22,81.29 L128.54,81.88 L128.86,82.47 L129.19,83.07 L129.51,83.67 L129.83,84.27 L130.15,84.87 L130.47,85.47 L130.8,86.08 L131.12,86.69 L131.44,87.3 L131.76,87.91 L132.08,88.53 L132.41,89.14 L132.73,89.76 L133.05,90.38 L133.37,91 L133.69,91.62 L134.02,92.25 L134.34,92.87 L134.66,93.5 L134.98,94.13 L135.3,94.75 L135.63,95.38 L135.95,96.01 L136.27,96.65 L136.59,97.28 L136.91,97.91 L137.24,98.55 L137.56,99.18 L137.88,99.82 L138.2,100.45 L138.52,101.09 L138.85,101.73 L139.17,102.36 L139.49,103 L139.81,103.64 L140.13,104.28 L140.46,104.92 L140.78,105.55 L141.1,106.19 L141.42,106.83 L141.74,107.47 L142.07,108.11 L142.39,108.75 L142.71,109.39 L143.03,110.02 L143.35,110.66 L143.68,111.3 L144,111.93 L144.32,112.57 L144.64,113.21 L144.96,113.84 L145.29,114.48 L145.61,115.11 L145.93,115.74 L146.25,116.37 L146.57,117.01 L146.9,117.64 L147.22,118.27 L147.54,118.89 L147.86,119.52 L148.18,120.15 L148.51,120.77 L148.83,121.4 L149.15,122.02 L149.47,122.64 L149.79,123.26 L150.12,123.88 L150.44,124.5 L150.76,125.11 L151.08,125.73 L151.4,126.34 L151.73,126.95 L152.05,127.56 L152.37,128.17 L152.69,128.77 L153.01,129.38 L153.34,129.98 L153.66,130.58 L153.98,131.18 L154.3,131.78 L154.62,132.37 L154.95,132.96 L155.27,133.56 L155.59,134.14 L155.91,134.73 L156.23,135.32 L156.56,135.9 L156.88,136.48 L157.2,137.06 L157.52,137.63 L157.84,138.21 L158.17,138.78 L158.49,139.35 L158.81,139.92 L159.13,140.48 L159.45,141.04 L159.78,141.6 L160.1,142.16 L160.42,142.71 L160.74,143.26 L161.06,143.81 L161.39,144.36 L161.71,144.91 L162.03,145.45 L162.35,145.99 L162.67,146.52 L163,147.06 L163.32,147.59 L163.64,148.11 L163.96,148.64 L164.28,149.16 L164.61,149.68 L164.93,150.2 L165.25,150.71 L165.57,151.23 L165.89,151.73 L166.22,152.24 L166.54,152.74 L166.86,153.24 L167.18,153.74 L167.5,154.23 L167.83,154.72 L168.15,155.21 L168.47,155.7 L168.79,156.18 L169.11,156.66 L169.44,157.13 L169.76,157.61 L170.08,158.08 L170.4,158.54 L170.72,159.01 L171.05,159.47 L171.37,159.93 L171.69,160.38 L172.01,160.83 L172.33,161.28 L172.66,161.73 L172.98,162.17 L173.3,162.61 L173.62,163.04 L173.94,163.48 L174.27,163.91 L174.59,164.33 L174.91,164.76 L175.23,165.18 L175.55,165.59 L175.88,166.01 L176.2,166.42 L176.52,166.83 L176.84,167.23 L177.16,167.63 L177.49,168.03 L177.81,168.43 L178.13,168.82 L178.45,169.21 L178.77,169.59 L179.1,169.98 L179.42,170.36 L179.74,170.73 L180.06,171.11 L180.38,171.48 L180.71,171.84 L181.03,172.21 L181.35,172.57 L181.67,172.93 L181.99,173.28 L182.32,173.63 L182.64,173.98 L182.96,174.33 L183.28,174.67 L183.6,175.01 L183.93,175.35 L184.25,175.68 L184.57,176.01 L184.89,176.34 L185.21,176.66 L185.54,176.99 L185.86,177.3 L186.18,177.62 L186.5,177.93 L186.82,178.24 L187.15,178.55 L187.47,178.85 L187.79,179.15 L188.11,179.45 L188.43,179.75 L188.76,180.04 L189.08,180.33 L189.4,180.61 L189.72,180.9 L190.04,181.18 L190.37,181.46 L190.69,181.73 L191.01,182 L191.33,182.27 L191.65,182.54 L191.98,182.8 L192.3,183.07 L192.62,183.32 L192.94,183.58 L193.26,183.83 L193.59,184.08 L193.91,184.33 L194.23,184.58 L194.55,184.82 L194.87,185.06 L195.2,185.3 L195.52,185.53 L195.84,185.76 L196.16,185.99 L196.48,186.22 L196.81,186.44 L197.13,186.67 L197.45,186.89 L197.77,187.1 L198.09,187.32 L198.42,187.53 L198.74,187.74 L199.06,187.95 L199.38,188.15 L199.7,188.35 L200.03,188.55 L200.35,188.75 L200.67,188.95 L200.99,189.14 L201.31,189.33 L201.64,189.52 L201.96,189.7 L202.28,189.89 L202.6,190.07 L202.92,190.25 L203.25,190.43 L203.57,190.6 L203.89,190.78 L204.21,190.95 L204.53,191.11 L204.86,191.28 L205.18,191.45 L205.5,191.61 L205.82,191.77 L206.14,191.93 L206.47,192.08 L206.79,192.24 L207.11,192.39 L207.43,192.54 L207.75,192.69 L208.08,192.84 L208.4,192.98 L208.72,193.12 L209.04,193.26 L209.36,193.4 L209.69,193.54 L210.01,193.68 L210.33,193.81 L210.65,193.94 L210.97,194.07 L211.3,194.2 L211.62,194.33 L211.94,194.45 L212.26,194.57 L212.58,194.7 L212.91,194.82 L213.23,194.93 L213.55,195.05 L213.87,195.17 L214.19,195.28 L214.52,195.39 L214.84,195.5 L215.16,195.61 L215.48,195.72 L215.8,195.82 L216.13,195.93 L216.45,196.03 L216.77,196.13 L217.09,196.23 L217.41,196.33 L217.74,196.42 L218.06,196.52 L218.38,196.61 L218.7,196.71 L219.02,196.8 L219.35,196.89 L219.67,196.97 L219.99,197.06 L220.31,197.15 L220.63,197.23 L220.96,197.32 L221.28,197.4 L221.6,197.48 L221.92,197.56 L222.24,197.64 L222.57,197.71 L222.89,197.79 L223.21,197.86 L223.53,197.94 L223.85,198.01 L224.18,198.08 L224.5,198.15 L224.82,198.22 L225.14,198.29 L225.46,198.36 L225.79,198.42 L226.11,198.49 L226.43,198.55 L226.75,198.61 L227.07,198.68 L227.4,198.74 L227.72,198.8 L228.04,198.86 L228.36,198.91 L228.68,198.97 L229.01,199.03 L229.33,199.08 L229.65,199.14 L229.97,199.19 L230.29,199.24 L230.62,199.29 L230.94,199.35 L231.26,199.4 L231.58,199.44 L231.9,199.49 L232.23,199.54 L232.55,199.59 L232.87,199.63 L233.19,199.68 L233.51,199.72 L233.84,199.77 L234.16,199.81 L234.48,199.85 L234.8,199.89 L235.12,199.93 L235.45,199.97 L235.77,200.01 L236.09,200.05 L236.41,200.09 L236.73,200.13 L237.06,200.16 L237.38,200.2 L237.7,200.24 L238.02,200.27 L238.34,200.3 L238.67,200.34 L238.99,200.37 L239.31,200.4 L239.63,200.44 L239.95,200.47 L240.28,200.5 L240.6,200.53 L240.92,200.56 L241.24,200.59 L241.56,200.61 L241.89,200.64 L242.21,200.67 L242.53,200.7 L242.85,200.72 L243.17,200.75 L243.5,200.77 L243.82,200.8 L244.14,200.82 L244.46,200.85 L244.78,200.87 L245.11,200.9 L245.43,200.92 L245.75,200.94 L246.07,200.96 L246.39,200.98 L246.72,201.01 L247.04,201.03 L247.36,201.05 L247.68,201.07 L248,201.09 L248.33,201.1 L248.65,201.12 L248.97,201.14 L249.29,201.16 L249.61,201.18 L249.94,201.2 L250.26,201.21 L250.58,201.23 L250.9,201.25 L251.22,201.26 L251.55,201.28 L251.87,201.29 L252.19,201.31 L252.51,201.32 L252.83,201.34 L253.16,201.35 L253.48,201.37 L253.8,201.38 L254.12,201.39 L254.44,201.41 L254.77,201.42 L255.09,201.43 L255.41,201.44 L255.73,201.46 L256.05,201.47 L256.38,201.48 L256.7,201.49 L257.02,201.5 L257.34,201.51 L257.66,201.52 L257.99,201.53 L258.31,201.54 L258.63,201.55 L258.95,201.56 L259.27,201.57 L259.6,201.58 L259.92,201.59 L260.24,201.6 L260.56,201.61 L260.88,201.62 L261.21,201.63 L261.53,201.64 L261.85,201.64 L262.17,201.65 L262.49,201.66 L262.82,201.67 L263.14,201.68 L263.46,201.68 L263.78,201.69 L264.1,201.7 L264.43,201.7 L264.75,201.71 L265.07,201.72 L265.39,201.72 L265.71,201.73 L266.04,201.74 L266.36,201.74 L266.68,201.75 L267,201.75 L267.32,201.76 L267.65,201.76 L267.97,201.77 L268.29,201.78 L268.61,201.78 L268.93,201.79 L269.26,201.79 L269.58,201.8 L269.9,201.8 L270.22,201.8 L270.54,201.81 L270.87,201.81 L271.19,201.82 L271.51,201.82 L271.83,201.83 L272.15,201.83 L272.48,201.83 L272.8,201.84 L273.12,201.84 L273.44,201.85 L273.76,201.85 L274.09,201.85 L274.41,201.86 L274.73,201.86 L275.05,201.86 L275.37,201.87 L275.7,201.87 L276.02,201.87 L276.34,201.87 L276.66,201.88 L276.98,201.88 L277.31,201.88 L277.63,201.89 L277.95,201.89 L278.27,201.89 L278.59,201.89 L278.92,201.9 L279.24,201.9 L279.56,201.9 L279.88,201.9 L280.2,201.9 L280.53,201.91 L280.85,201.91 L281.17,201.91 L281.49,201.91 L281.81,201.92 L282.14,201.92 L282.46,201.92 L282.78,201.92 L283.1,201.92 L283.42,201.92 L283.75,201.93 L284.07,201.93 L284.39,201.93 L284.71,201.93 L285.03,201.93 L285.36,201.93 L285.68,201.94 L286,201.94 L286.32,201.94 L286.64,201.94 L286.97,201.94 L287.29,201.94 L287.61,201.94 L287.93,201.94 L288.25,201.95 L288.58,201.95 L288.9,201.95 L289.22,201.95 L289.54,201.95 L289.86,201.95 L290.19,201.95 L290.51,201.95 L290.83,201.95 L291.15,201.96 L291.47,201.96 L291.8,201.96 L292.12,201.96 L292.44,201.96 L292.76,201.96 L293.08,201.96 L293.41,201.96 L293.73,201.96 L294.05,201.96 L294.37,201.96 L294.69,201.96 L295.02,201.97 L295.34,201.97 L295.66,201.97 L295.98,201.97 L296.3,201.97 L296.63,201.97 L296.95,201.97 L297.27,201.97 L297.59,201.97 L297.91,201.97 L298.24,201.97 L298.56,201.97 L298.88,201.97 L299.2,201.97 L299.52,201.97 L299.85,201.97 L300.17,201.97 L300.49,201.97 L300.81,201.98 L301.13,201.98 L301.46,201.98 L301.78,201.98 L302.1,201.98 L302.42,201.98 L302.74,201.98 L303.07,201.98 L303.39,201.98 L303.71,201.98 L304.03,201.98 L304.35,201.98 L304.68,201.98 L305,201.98 L305.32,201.98 L305.64,201.98 L305.96,201.98 L306.29,201.98 L306.61,201.98 L306.93,201.98 L307.25,201.98 L307.57,201.98 L307.9,201.98 L308.22,201.98 L308.54,201.98 L308.86,201.98 L309.18,201.98 L309.51,201.98 L309.83,201.98 L310.15,201.98 L310.47,201.98 L310.79,201.98 L311.12,201.98 L311.44,201.98 L311.76,201.98 L312.08,201.98 L312.4,201.98 L312.73,201.99 L313.05,201.99 L313.37,201.99 L313.69,201.99 L314.01,201.99 L314.34,201.99 L314.66,201.99 L314.98,201.99 L315.3,201.99 L315.62,201.99 L315.95,201.99 L316.27,201.99 L316.59,201.99 L316.91,201.99 L317.23,201.99 L317.56,201.99 L317.88,201.99 L318.2,201.99 L318.52,201.99 L318.84,201.99 L319.17,201.99 L319.49,201.99 L319.81,201.99 L320.13,201.99 L320.45,201.99 L320.78,201.99 L321.1,201.99 L321.42,201.99 L321.74,201.99 L322.06,201.99 L322.39,201.99 L322.71,201.99 L323.03,201.99 L323.35,201.99 L323.67,201.99 L324,201.99 L324.32,201.99 L324.64,201.99 L324.96,201.99 L325.28,201.99 L325.61,201.99 L325.93,201.99 L326.25,201.99 L326.57,201.99 L326.89,201.99 L327.22,201.99 L327.54,201.99 L327.86,201.99 L328.18,201.99 L328.5,201.99 L328.83,201.99 L329.15,201.99 L329.47,201.99 L329.79,201.99 L330.11,201.99 L330.44,201.99 L330.76,201.99 L331.08,201.99 L331.4,201.99 L331.72,201.99 L332.05,201.99 L332.37,201.99 L332.69,201.99 L333.01,201.99 L333.33,201.99 L333.66,201.99 L333.98,201.99 L334.3,201.99 L334.62,201.99 L334.94,201.99 L335.27,201.99 L335.59,201.99 L335.91,201.99 L336.23,201.99 L336.55,201.99 L336.88,201.99 L337.2,201.99 L337.52,201.99 L337.84,201.99 L338.16,201.99 L338.49,201.99 L338.81,201.99 L339.13,201.99 L339.45,201.99 L339.77,201.99 L340.1,201.99 L340.42,201.99 L340.74,201.99 L341.06,201.99 L341.38,201.99 L341.71,201.99 L342.03,201.99 L342.35,201.99 L342.67,201.99 L342.99,201.99 L343.32,201.99 L343.64,201.99 L343.96,201.99 L344.28,201.99 L344.6,201.99 L344.93,201.99 L345.25,201.99 L345.57,201.99 L345.89,201.99 L346.21,201.99 L346.54,201.99 L346.86,201.99 L347.18,201.99 L347.5,201.99 L347.82,201.99 L348.15,201.99 L348.47,201.99 L348.79,201.99 L349.11,201.99 L349.43,201.99 L349.76,201.99 L350.08,201.99 L350.4,201.99" class="dot"/>
<path d="M125,160.93 L189.4,160.93" class="pk" stroke-dashoffset="5.55"/>
<path d="M125,160.93 L125,145.13 L125.32,145.21 L125.64,145.29 L125.97,145.37 L126.29,145.45 L126.61,145.53 L126.93,145.6 L127.25,145.68 L127.58,145.76 L127.9,145.84 L128.22,145.92 L128.54,146 L128.86,146.08 L129.19,146.16 L129.51,146.24 L129.83,146.32 L130.15,146.39 L130.47,146.47 L130.8,146.55 L131.12,146.63 L131.44,146.71 L131.76,146.79 L132.08,146.87 L132.41,146.95 L132.73,147.03 L133.05,147.11 L133.37,147.18 L133.69,147.26 L134.02,147.34 L134.34,147.42 L134.66,147.5 L134.98,147.58 L135.3,147.66 L135.63,147.74 L135.95,147.82 L136.27,147.89 L136.59,147.97 L136.91,148.05 L137.24,148.13 L137.56,148.21 L137.88,148.29 L138.2,148.37 L138.52,148.45 L138.85,148.53 L139.17,148.61 L139.49,148.68 L139.81,148.76 L140.13,148.84 L140.46,148.92 L140.78,149 L141.1,149.08 L141.42,149.16 L141.74,149.24 L142.07,149.32 L142.39,149.4 L142.71,149.47 L143.03,149.55 L143.35,149.63 L143.68,149.71 L144,149.79 L144.32,149.87 L144.64,149.95 L144.96,150.03 L145.29,150.11 L145.61,150.19 L145.93,150.26 L146.25,150.34 L146.57,150.42 L146.9,150.5 L147.22,150.58 L147.54,150.66 L147.86,150.74 L148.18,150.82 L148.51,150.9 L148.83,150.97 L149.15,151.05 L149.47,151.13 L149.79,151.21 L150.12,151.29 L150.44,151.37 L150.76,151.45 L151.08,151.53 L151.4,151.61 L151.73,151.69 L152.05,151.76 L152.37,151.84 L152.69,151.92 L153.01,152 L153.34,152.08 L153.66,152.16 L153.98,152.24 L154.3,152.32 L154.62,152.4 L154.95,152.48 L155.27,152.55 L155.59,152.63 L155.91,152.71 L156.23,152.79 L156.56,152.87 L156.88,152.95 L157.2,153.03 L157.52,153.11 L157.84,153.19 L158.17,153.26 L158.49,153.34 L158.81,153.42 L159.13,153.5 L159.45,153.58 L159.78,153.66 L160.1,153.74 L160.42,153.82 L160.74,153.9 L161.06,153.98 L161.39,154.05 L161.71,154.13 L162.03,154.21 L162.35,154.29 L162.67,154.37 L163,154.45 L163.32,154.53 L163.64,154.61 L163.96,154.69 L164.28,154.77 L164.61,154.84 L164.93,154.92 L165.25,155 L165.57,155.08 L165.89,155.16 L166.22,155.24 L166.54,155.32 L166.86,155.4 L167.18,155.48 L167.5,155.56 L167.83,155.63 L168.15,155.71 L168.47,155.79 L168.79,155.87 L169.11,155.95 L169.44,156.03 L169.76,156.11 L170.08,156.19 L170.4,156.27 L170.72,156.34 L171.05,156.42 L171.37,156.5 L171.69,156.58 L172.01,156.66 L172.33,156.74 L172.66,156.82 L172.98,156.9 L173.3,156.98 L173.62,157.06 L173.94,157.13 L174.27,157.21 L174.59,157.29 L174.91,157.37 L175.23,157.45 L175.55,157.53 L175.88,157.61 L176.2,157.69 L176.52,157.77 L176.84,157.85 L177.16,157.92 L177.49,158 L177.81,158.08 L178.13,158.16 L178.45,158.24 L178.77,158.32 L179.1,158.4 L179.42,158.48 L179.74,158.56 L180.06,158.64 L180.38,158.71 L180.71,158.79 L181.03,158.87 L181.35,158.95 L181.67,159.03 L181.99,159.11 L182.32,159.19 L182.64,159.27 L182.96,159.35 L183.28,159.42 L183.6,159.5 L183.93,159.58 L184.25,159.66 L184.57,159.74 L184.89,159.82 L185.21,159.9 L185.54,159.98 L185.86,160.06 L186.18,160.14 L186.5,160.21 L186.82,160.29 L187.15,160.37 L187.47,160.45 L187.79,160.53 L188.11,160.61 L188.43,160.69 L188.76,160.77 L189.08,160.85 L189.4,160.93" class="gr"/>
<path d="M28.4,160.93 L28.72,160.93 L29.04,160.93 L29.37,160.93 L29.69,160.93 L30.01,160.93 L30.33,160.93 L30.65,160.93 L30.98,160.93 L31.3,160.93 L31.62,160.93 L31.94,160.93 L32.26,160.93 L32.59,160.93 L32.91,160.93 L33.23,160.93 L33.55,160.93 L33.87,160.93 L34.2,160.93 L34.52,160.93 L34.84,160.93 L35.16,160.93 L35.48,160.93 L35.81,160.93 L36.13,160.93 L36.45,160.93 L36.77,160.93 L37.09,160.93 L37.42,160.93 L37.74,160.93 L38.06,160.93 L38.38,160.93 L38.7,160.93 L39.03,160.93 L39.35,160.93 L39.67,160.93 L39.99,160.93 L40.31,160.93 L40.64,160.93 L40.96,160.93 L41.28,160.93 L41.6,160.93 L41.92,160.93 L42.25,160.93 L42.57,160.93 L42.89,160.93 L43.21,160.93 L43.53,160.93 L43.86,160.93 L44.18,160.93 L44.5,160.93 L44.82,160.93 L45.14,160.93 L45.47,160.93 L45.79,160.93 L46.11,160.93 L46.43,160.93 L46.75,160.93 L47.08,160.93 L47.4,160.93 L47.72,160.93 L48.04,160.93 L48.36,160.93 L48.69,160.93 L49.01,160.93 L49.33,160.93 L49.65,160.93 L49.97,160.93 L50.3,160.93 L50.62,160.93 L50.94,160.93 L51.26,160.93 L51.58,160.93 L51.91,160.93 L52.23,160.93 L52.55,160.93 L52.87,160.93 L53.19,160.93 L53.52,160.93 L53.84,160.93 L54.16,160.93 L54.48,160.93 L54.8,160.93 L55.13,160.93 L55.45,160.93 L55.77,160.93 L56.09,160.93 L56.41,160.93 L56.74,160.93 L57.06,160.93 L57.38,160.93 L57.7,160.93 L58.02,160.93 L58.35,160.93 L58.67,160.93 L58.99,160.93 L59.31,160.93 L59.63,160.93 L59.96,160.93 L60.28,160.93 L60.6,160.93 L60.92,160.93 L61.24,160.93 L61.57,160.93 L61.89,160.93 L62.21,160.93 L62.53,160.93 L62.85,160.93 L63.18,160.93 L63.5,160.93 L63.82,160.93 L64.14,160.93 L64.46,160.93 L64.79,160.93 L65.11,160.93 L65.43,160.93 L65.75,160.93 L66.07,160.93 L66.4,160.93 L66.72,160.93 L67.04,160.93 L67.36,160.93 L67.68,160.93 L68.01,160.93 L68.33,160.93 L68.65,160.93 L68.97,160.93 L69.29,160.93 L69.62,160.93 L69.94,160.93 L70.26,160.93 L70.58,160.93 L70.9,160.93 L71.23,160.93 L71.55,160.93 L71.87,160.93 L72.19,160.93 L72.51,160.93 L72.84,160.93 L73.16,160.93 L73.48,160.93 L73.8,160.93 L74.12,160.93 L74.45,160.93 L74.77,160.93 L75.09,160.93 L75.41,160.93 L75.73,160.93 L76.06,160.93 L76.38,160.93 L76.7,160.93 L77.02,160.93 L77.34,160.93 L77.67,160.93 L77.99,160.93 L78.31,160.93 L78.63,160.93 L78.95,160.93 L79.28,160.93 L79.6,160.93 L79.92,160.93 L80.24,160.93 L80.56,160.93 L80.89,160.93 L81.21,160.93 L81.53,160.93 L81.85,160.93 L82.17,160.93 L82.5,160.93 L82.82,160.93 L83.14,160.93 L83.46,160.93 L83.78,160.93 L84.11,160.93 L84.43,160.93 L84.75,160.93 L85.07,160.93 L85.39,160.93 L85.72,160.93 L86.04,160.93 L86.36,160.93 L86.68,160.93 L87,160.93 L87.33,160.93 L87.65,160.93 L87.97,160.93 L88.29,160.93 L88.61,160.93 L88.94,160.93 L89.26,160.93 L89.58,160.93 L89.9,160.93 L90.22,160.93 L90.55,160.93 L90.87,160.93 L91.19,160.93 L91.51,160.93 L91.83,160.93 L92.16,160.93 L92.48,160.93 L92.8,160.93 L93.12,160.93 L93.44,160.93 L93.77,160.93 L94.09,160.93 L94.41,160.93 L94.73,160.93 L95.05,160.93 L95.38,160.93 L95.7,160.93 L96.02,160.93 L96.34,160.93 L96.66,160.93 L96.99,160.93 L97.31,160.93 L97.63,160.93 L97.95,160.93 L98.27,160.93 L98.6,160.93 L98.92,160.93 L99.24,160.93 L99.56,160.93 L99.88,160.93 L100.21,160.93 L100.53,160.93 L100.85,160.93 L101.17,160.93 L101.49,160.93 L101.82,160.93 L102.14,160.93 L102.46,160.93 L102.78,160.93 L103.1,160.93 L103.43,160.93 L103.75,160.93 L104.07,160.93 L104.39,160.93 L104.71,160.93 L105.04,160.93 L105.36,160.93 L105.68,160.93 L106,160.93 L106.32,160.93 L106.65,160.93 L106.97,160.93 L107.29,160.93 L107.61,160.93 L107.93,160.93 L108.26,160.93 L108.58,160.93 L108.9,160.93 L109.22,160.93 L109.54,160.93 L109.87,160.93 L110.19,160.93 L110.51,160.93 L110.83,160.93 L111.15,160.93 L111.48,160.93 L111.8,160.93 L112.12,160.93 L112.44,160.93 L112.76,160.93 L113.09,160.93 L113.41,160.93 L113.73,160.93 L114.05,160.93 L114.37,160.93 L114.7,160.93 L115.02,160.93 L115.34,160.93 L115.66,160.93 L115.98,160.93 L116.31,160.93 L116.63,160.93 L116.95,160.93 L117.27,160.93 L117.59,160.93 L117.92,160.93 L118.24,160.93 L118.56,160.93 L118.88,160.93 L119.2,160.93 L119.53,160.93 L119.85,160.93 L120.17,160.93 L120.49,160.93 L120.81,160.93 L121.14,160.93 L121.46,160.93 L121.78,160.93 L122.1,160.93 L122.42,160.93 L122.75,160.93 L123.07,160.93 L123.39,160.93 L123.71,160.93 L124.03,160.93 L124.36,160.93 L124.68,160.93 L125,160.93 L125.32,159.28 L125.64,157.67 L125.97,156.12 L126.29,154.63 L126.61,153.23 L126.93,151.92 L127.25,150.73 L127.58,149.66 L127.9,148.72 L128.22,147.93 L128.54,147.29 L128.86,146.81 L129.19,146.48 L129.51,146.32 L129.83,146.32 L130.15,146.47 L130.47,146.79 L130.8,147.26 L131.12,147.87 L131.44,148.61 L131.76,149.49 L132.08,150.48 L132.41,151.57 L132.73,152.76 L133.05,154.02 L133.37,155.34 L133.69,156.7 L134.02,158.1 L134.34,159.51 L134.66,160.93 L134.98,162.32 L135.3,163.68 L135.63,165 L135.95,166.26 L136.27,167.44 L136.59,168.54 L136.91,169.54 L137.24,170.43 L137.56,171.21 L137.88,171.87 L138.2,172.4 L138.52,172.79 L138.85,173.05 L139.17,173.18 L139.49,173.17 L139.81,173.02 L140.13,172.74 L140.46,172.34 L140.78,171.82 L141.1,171.18 L141.42,170.44 L141.74,169.61 L142.07,168.69 L142.39,167.7 L142.71,166.65 L143.03,165.55 L143.35,164.41 L143.68,163.26 L144,162.09 L144.32,160.93 L144.64,159.78 L144.96,158.66 L145.29,157.58 L145.61,156.56 L145.93,155.59 L146.25,154.71 L146.57,153.9 L146.9,153.18 L147.22,152.56 L147.54,152.03 L147.86,151.62 L148.18,151.31 L148.51,151.12 L148.83,151.03 L149.15,151.05 L149.47,151.19 L149.79,151.42 L150.12,151.76 L150.44,152.2 L150.76,152.72 L151.08,153.32 L151.4,154 L151.73,154.74 L152.05,155.54 L152.37,156.38 L152.69,157.26 L153.01,158.17 L153.34,159.09 L153.66,160.01 L153.98,160.93 L154.3,161.82 L154.62,162.7 L154.95,163.54 L155.27,164.33 L155.59,165.07 L155.91,165.75 L156.23,166.37 L156.56,166.91 L156.88,167.38 L157.2,167.76 L157.52,168.07 L157.84,168.29 L158.17,168.42 L158.49,168.46 L158.81,168.43 L159.13,168.31 L159.45,168.11 L159.78,167.83 L160.1,167.49 L160.42,167.08 L160.74,166.61 L161.06,166.09 L161.39,165.52 L161.71,164.92 L162.03,164.28 L162.35,163.62 L162.67,162.95 L163,162.27 L163.32,161.59 L163.64,160.93 L163.96,160.27 L164.28,159.64 L164.61,159.05 L164.93,158.48 L165.25,157.96 L165.57,157.49 L165.89,157.07 L166.22,156.7 L166.54,156.39 L166.86,156.14 L167.18,155.95 L167.5,155.82 L167.83,155.75 L168.15,155.74 L168.47,155.79 L168.79,155.9 L169.11,156.06 L169.44,156.27 L169.76,156.52 L170.08,156.82 L170.4,157.16 L170.72,157.52 L171.05,157.91 L171.37,158.33 L171.69,158.75 L172.01,159.19 L172.33,159.63 L172.66,160.07 L172.98,160.5 L173.3,160.93 L173.62,161.33 L173.94,161.71 L174.27,162.07 L174.59,162.4 L174.91,162.7 L175.23,162.97 L175.55,163.2 L175.88,163.39 L176.2,163.54 L176.52,163.66 L176.84,163.74 L177.16,163.78 L177.49,163.78 L177.81,163.75 L178.13,163.69 L178.45,163.6 L178.77,163.47 L179.1,163.33 L179.42,163.16 L179.74,162.98 L180.06,162.78 L180.38,162.57 L180.71,162.35 L181.03,162.13 L181.35,161.91 L181.67,161.7 L181.99,161.49 L182.32,161.29 L182.64,161.1 L182.96,160.93 L183.28,160.77 L183.6,160.63 L183.93,160.51 L184.25,160.41 L184.57,160.33 L184.89,160.28 L185.21,160.24 L185.54,160.22 L185.86,160.22 L186.18,160.24 L186.5,160.28 L186.82,160.32 L187.15,160.38 L187.47,160.45 L187.79,160.53 L188.11,160.61 L188.43,160.69 L188.76,160.77 L189.08,160.85 L189.4,160.93 L189.72,160.93 L190.04,160.93 L190.37,160.93 L190.69,160.93 L191.01,160.93 L191.33,160.93 L191.65,160.93 L191.98,160.93 L192.3,160.93 L192.62,160.93 L192.94,160.93 L193.26,160.93 L193.59,160.93 L193.91,160.93 L194.23,160.93 L194.55,160.93 L194.87,160.93 L195.2,160.93 L195.52,160.93 L195.84,160.93 L196.16,160.93 L196.48,160.93 L196.81,160.93 L197.13,160.93 L197.45,160.93 L197.77,160.93 L198.09,160.93 L198.42,160.93 L198.74,160.93 L199.06,160.93 L199.38,160.93 L199.7,160.93 L200.03,160.93 L200.35,160.93 L200.67,160.93 L200.99,160.93 L201.31,160.93 L201.64,160.93 L201.96,160.93 L202.28,160.93 L202.6,160.93 L202.92,160.93 L203.25,160.93 L203.57,160.93 L203.89,160.93 L204.21,160.93 L204.53,160.93 L204.86,160.93 L205.18,160.93 L205.5,160.93 L205.82,160.93 L206.14,160.93 L206.47,160.93 L206.79,160.93 L207.11,160.93 L207.43,160.93 L207.75,160.93 L208.08,160.93 L208.4,160.93 L208.72,160.93 L209.04,160.93 L209.36,160.93 L209.69,160.93 L210.01,160.93 L210.33,160.93 L210.65,160.93 L210.97,160.93 L211.3,160.93 L211.62,160.93 L211.94,160.93 L212.26,160.93 L212.58,160.93 L212.91,160.93 L213.23,160.93 L213.55,160.93 L213.87,160.93 L214.19,160.93 L214.52,160.93 L214.84,160.93 L215.16,160.93 L215.48,160.93 L215.8,160.93 L216.13,160.93 L216.45,160.93 L216.77,160.93 L217.09,160.93 L217.41,160.93 L217.74,160.93 L218.06,160.93 L218.38,160.93 L218.7,160.93 L219.02,160.93 L219.35,160.93 L219.67,160.93 L219.99,160.93 L220.31,160.93 L220.63,160.93 L220.96,160.93 L221.28,160.93 L221.6,160.93 L221.92,160.93 L222.24,160.93 L222.57,160.93 L222.89,160.93 L223.21,160.93 L223.53,160.93 L223.85,160.93 L224.18,160.93 L224.5,160.93 L224.82,160.93 L225.14,160.93 L225.46,160.93 L225.79,160.93 L226.11,160.93 L226.43,160.93 L226.75,160.93 L227.07,160.93 L227.4,160.93 L227.72,160.93 L228.04,160.93 L228.36,160.93 L228.68,160.93 L229.01,160.93 L229.33,160.93 L229.65,160.93 L229.97,160.93 L230.29,160.93 L230.62,160.93 L230.94,160.93 L231.26,160.93 L231.58,160.93 L231.9,160.93 L232.23,160.93 L232.55,160.93 L232.87,160.93 L233.19,160.93 L233.51,160.93 L233.84,160.93 L234.16,160.93 L234.48,160.93 L234.8,160.93 L235.12,160.93 L235.45,160.93 L235.77,160.93 L236.09,160.93 L236.41,160.93 L236.73,160.93 L237.06,160.93 L237.38,160.93 L237.7,160.93 L238.02,160.93 L238.34,160.93 L238.67,160.93 L238.99,160.93 L239.31,160.93 L239.63,160.93 L239.95,160.93 L240.28,160.93 L240.6,160.93 L240.92,160.93 L241.24,160.93 L241.56,160.93 L241.89,160.93 L242.21,160.93 L242.53,160.93 L242.85,160.93 L243.17,160.93 L243.5,160.93 L243.82,160.93 L244.14,160.93 L244.46,160.93 L244.78,160.93 L245.11,160.93 L245.43,160.93 L245.75,160.93 L246.07,160.93 L246.39,160.93 L246.72,160.93 L247.04,160.93 L247.36,160.93 L247.68,160.93 L248,160.93 L248.33,160.93 L248.65,160.93 L248.97,160.93 L249.29,160.93 L249.61,160.93 L249.94,160.93 L250.26,160.93 L250.58,160.93 L250.9,160.93 L251.22,160.93 L251.55,160.93 L251.87,160.93 L252.19,160.93 L252.51,160.93 L252.83,160.93 L253.16,160.93 L253.48,160.93 L253.8,160.93 L254.12,160.93 L254.44,160.93 L254.77,160.93 L255.09,160.93 L255.41,160.93 L255.73,160.93 L256.05,160.93 L256.38,160.93 L256.7,160.93 L257.02,160.93 L257.34,160.93 L257.66,160.93 L257.99,160.93 L258.31,160.93 L258.63,160.93 L258.95,160.93 L259.27,160.93 L259.6,160.93 L259.92,160.93 L260.24,160.93 L260.56,160.93 L260.88,160.93 L261.21,160.93 L261.53,160.93 L261.85,160.93 L262.17,160.93 L262.49,160.93 L262.82,160.93 L263.14,160.93 L263.46,160.93 L263.78,160.93 L264.1,160.93 L264.43,160.93 L264.75,160.93 L265.07,160.93 L265.39,160.93 L265.71,160.93 L266.04,160.93 L266.36,160.93 L266.68,160.93 L267,160.93 L267.32,160.93 L267.65,160.93 L267.97,160.93 L268.29,160.93 L268.61,160.93 L268.93,160.93 L269.26,160.93 L269.58,160.93 L269.9,160.93 L270.22,160.93 L270.54,160.93 L270.87,160.93 L271.19,160.93 L271.51,160.93 L271.83,160.93 L272.15,160.93 L272.48,160.93 L272.8,160.93 L273.12,160.93 L273.44,160.93 L273.76,160.93 L274.09,160.93 L274.41,160.93 L274.73,160.93 L275.05,160.93 L275.37,160.93 L275.7,160.93 L276.02,160.93 L276.34,160.93 L276.66,160.93 L276.98,160.93 L277.31,160.93 L277.63,160.93 L277.95,160.93 L278.27,160.93 L278.59,160.93 L278.92,160.93 L279.24,160.93 L279.56,160.93 L279.88,160.93 L280.2,160.93 L280.53,160.93 L280.85,160.93 L281.17,160.93 L281.49,160.93 L281.81,160.93 L282.14,160.93 L282.46,160.93 L282.78,160.93 L283.1,160.93 L283.42,160.93 L283.75,160.93 L284.07,160.93 L284.39,160.93 L284.71,160.93 L285.03,160.93 L285.36,160.93 L285.68,160.93 L286,160.93 L286.32,160.93 L286.64,160.93 L286.97,160.93 L287.29,160.93 L287.61,160.93 L287.93,160.93 L288.25,160.93 L288.58,160.93 L288.9,160.93 L289.22,160.93 L289.54,160.93 L289.86,160.93 L290.19,160.93 L290.51,160.93 L290.83,160.93 L291.15,160.93 L291.47,160.93 L291.8,160.93 L292.12,160.93 L292.44,160.93 L292.76,160.93 L293.08,160.93 L293.41,160.93 L293.73,160.93 L294.05,160.93 L294.37,160.93 L294.69,160.93 L295.02,160.93 L295.34,160.93 L295.66,160.93 L295.98,160.93 L296.3,160.93 L296.63,160.93 L296.95,160.93 L297.27,160.93 L297.59,160.93 L297.91,160.93 L298.24,160.93 L298.56,160.93 L298.88,160.93 L299.2,160.93 L299.52,160.93 L299.85,160.93 L300.17,160.93 L300.49,160.93 L300.81,160.93 L301.13,160.93 L301.46,160.93 L301.78,160.93 L302.1,160.93 L302.42,160.93 L302.74,160.93 L303.07,160.93 L303.39,160.93 L303.71,160.93 L304.03,160.93 L304.35,160.93 L304.68,160.93 L305,160.93 L305.32,160.93 L305.64,160.93 L305.96,160.93 L306.29,160.93 L306.61,160.93 L306.93,160.93 L307.25,160.93 L307.57,160.93 L307.9,160.93 L308.22,160.93 L308.54,160.93 L308.86,160.93 L309.18,160.93 L309.51,160.93 L309.83,160.93 L310.15,160.93 L310.47,160.93 L310.79,160.93 L311.12,160.93 L311.44,160.93 L311.76,160.93 L312.08,160.93 L312.4,160.93 L312.73,160.93 L313.05,160.93 L313.37,160.93 L313.69,160.93 L314.01,160.93 L314.34,160.93 L314.66,160.93 L314.98,160.93 L315.3,160.93 L315.62,160.93 L315.95,160.93 L316.27,160.93 L316.59,160.93 L316.91,160.93 L317.23,160.93 L317.56,160.93 L317.88,160.93 L318.2,160.93 L318.52,160.93 L318.84,160.93 L319.17,160.93 L319.49,160.93 L319.81,160.93 L320.13,160.93 L320.45,160.93 L320.78,160.93 L321.1,160.93 L321.42,160.93 L321.74,160.93 L322.06,160.93 L322.39,160.93 L322.71,160.93 L323.03,160.93 L323.35,160.93 L323.67,160.93 L324,160.93 L324.32,160.93 L324.64,160.93 L324.96,160.93 L325.28,160.93 L325.61,160.93 L325.93,160.93 L326.25,160.93 L326.57,160.93 L326.89,160.93 L327.22,160.93 L327.54,160.93 L327.86,160.93 L328.18,160.93 L328.5,160.93 L328.83,160.93 L329.15,160.93 L329.47,160.93 L329.79,160.93 L330.11,160.93 L330.44,160.93 L330.76,160.93 L331.08,160.93 L331.4,160.93 L331.72,160.93 L332.05,160.93 L332.37,160.93 L332.69,160.93 L333.01,160.93 L333.33,160.93 L333.66,160.93 L333.98,160.93 L334.3,160.93 L334.62,160.93 L334.94,160.93 L335.27,160.93 L335.59,160.93 L335.91,160.93 L336.23,160.93 L336.55,160.93 L336.88,160.93 L337.2,160.93 L337.52,160.93 L337.84,160.93 L338.16,160.93 L338.49,160.93 L338.81,160.93 L339.13,160.93 L339.45,160.93 L339.77,160.93 L340.1,160.93 L340.42,160.93 L340.74,160.93 L341.06,160.93 L341.38,160.93 L341.71,160.93 L342.03,160.93 L342.35,160.93 L342.67,160.93 L342.99,160.93 L343.32,160.93 L343.64,160.93 L343.96,160.93 L344.28,160.93 L344.6,160.93 L344.93,160.93 L345.25,160.93 L345.57,160.93 L345.89,160.93 L346.21,160.93 L346.54,160.93 L346.86,160.93 L347.18,160.93 L347.5,160.93 L347.82,160.93 L348.15,160.93 L348.47,160.93 L348.79,160.93 L349.11,160.93 L349.43,160.93 L349.76,160.93 L350.08,160.93 L350.4,160.93" class="r"/>
<path d="M28.5,198.83h3.2M350.3,198.83h-3.2M28.5,195.67h3.2M350.3,195.67h-3.2M28.5,192.51h3.2M350.3,192.51h-3.2M28.5,189.35h3.2M350.3,189.35h-3.2M28.5,186.2h3.2M350.3,186.2h-3.2M28.5,183.04h3.2M350.3,183.04h-3.2M28.5,179.88h3.2M350.3,179.88h-3.2M28.5,176.72h3.2M350.3,176.72h-3.2M28.5,173.56h3.2M350.3,173.56h-3.2M28.5,170.4h6.4M350.3,170.4h-6.4M28.5,167.24h3.2M350.3,167.24h-3.2M28.5,164.08h3.2M350.3,164.08h-3.2M28.5,160.93h3.2M350.3,160.93h-3.2M28.5,157.77h3.2M350.3,157.77h-3.2M28.5,154.61h3.2M350.3,154.61h-3.2M28.5,151.45h3.2M350.3,151.45h-3.2M28.5,148.29h3.2M350.3,148.29h-3.2M28.5,145.13h3.2M350.3,145.13h-3.2M28.5,141.97h3.2M350.3,141.97h-3.2M28.5,138.81h6.4M350.3,138.81h-6.4M28.5,135.65h3.2M350.3,135.65h-3.2M28.5,132.5h3.2M350.3,132.5h-3.2M28.5,129.34h3.2M350.3,129.34h-3.2M28.5,126.18h3.2M350.3,126.18h-3.2M28.5,123.02h3.2M350.3,123.02h-3.2M28.5,119.86h3.2M350.3,119.86h-3.2M28.5,116.7h3.2M350.3,116.7h-3.2M28.5,113.54h3.2M350.3,113.54h-3.2M28.5,110.38h3.2M350.3,110.38h-3.2M28.5,107.23h6.4M350.3,107.23h-6.4M28.5,104.07h3.2M350.3,104.07h-3.2M28.5,100.91h3.2M350.3,100.91h-3.2M28.5,97.75h3.2M350.3,97.75h-3.2M28.5,94.59h3.2M350.3,94.59h-3.2M28.5,91.43h3.2M350.3,91.43h-3.2M28.5,88.27h3.2M350.3,88.27h-3.2M28.5,85.11h3.2M350.3,85.11h-3.2M28.5,81.95h3.2M350.3,81.95h-3.2M28.5,78.8h3.2M350.3,78.8h-3.2M28.5,75.64h6.4M350.3,75.64h-6.4M28.5,72.48h3.2M350.3,72.48h-3.2M28.5,69.32h3.2M350.3,69.32h-3.2M28.5,66.16h3.2M350.3,66.16h-3.2M28.5,63h3.2M350.3,63h-3.2M28.5,59.84h3.2M350.3,59.84h-3.2M28.5,56.68h3.2M350.3,56.68h-3.2M28.5,53.52h3.2M350.3,53.52h-3.2M28.5,50.37h3.2M350.3,50.37h-3.2M28.5,47.21h3.2M350.3,47.21h-3.2M28.5,44.05h6.4M350.3,44.05h-6.4M28.5,40.89h3.2M350.3,40.89h-3.2M28.5,37.73h3.2M350.3,37.73h-3.2M28.5,34.57h3.2M350.3,34.57h-3.2M28.5,31.41h3.2M350.3,31.41h-3.2M28.5,28.25h3.2M350.3,28.25h-3.2M28.5,25.1h3.2M350.3,25.1h-3.2M28.5,21.94h3.2M350.3,21.94h-3.2M28.5,18.78h3.2M350.3,18.78h-3.2M28.5,15.62h3.2M350.3,15.62h-3.2M34.84,201.7v-1.9M34.84,12.35v1.9M41.28,201.7v-1.9M41.28,12.35v1.9M47.72,201.7v-1.9M47.72,12.35v1.9M54.16,201.7v-1.9M54.16,12.35v1.9M60.6,201.7v-1.9M60.6,12.35v1.9M67.04,201.7v-1.9M67.04,12.35v1.9M73.48,201.7v-1.9M73.48,12.35v1.9M79.92,201.7v-1.9M79.92,12.35v1.9M86.36,201.7v-1.9M86.36,12.35v1.9M92.8,201.7v-3.8M92.8,12.35v3.8M99.24,201.7v-1.9M99.24,12.35v1.9M105.68,201.7v-1.9M105.68,12.35v1.9M112.12,201.7v-1.9M112.12,12.35v1.9M118.56,201.7v-1.9M118.56,12.35v1.9M125,201.7v-1.9M125,12.35v1.9M131.44,201.7v-1.9M131.44,12.35v1.9M137.88,201.7v-1.9M137.88,12.35v1.9M144.32,201.7v-1.9M144.32,12.35v1.9M150.76,201.7v-1.9M150.76,12.35v1.9M157.2,201.7v-3.8M157.2,12.35v3.8M163.64,201.7v-1.9M163.64,12.35v1.9M170.08,201.7v-1.9M170.08,12.35v1.9M176.52,201.7v-1.9M176.52,12.35v1.9M182.96,201.7v-1.9M182.96,12.35v1.9M189.4,201.7v-1.9M189.4,12.35v1.9M195.84,201.7v-1.9M195.84,12.35v1.9M202.28,201.7v-1.9M202.28,12.35v1.9M208.72,201.7v-1.9M208.72,12.35v1.9M215.16,201.7v-1.9M215.16,12.35v1.9M221.6,201.7v-3.8M221.6,12.35v3.8M228.04,201.7v-1.9M228.04,12.35v1.9M234.48,201.7v-1.9M234.48,12.35v1.9M240.92,201.7v-1.9M240.92,12.35v1.9M247.36,201.7v-1.9M247.36,12.35v1.9M253.8,201.7v-1.9M253.8,12.35v1.9M260.24,201.7v-1.9M260.24,12.35v1.9M266.68,201.7v-1.9M266.68,12.35v1.9M273.12,201.7v-1.9M273.12,12.35v1.9M279.56,201.7v-1.9M279.56,12.35v1.9M286,201.7v-3.8M286,12.35v3.8M292.44,201.7v-1.9M292.44,12.35v1.9M298.88,201.7v-1.9M298.88,12.35v1.9M305.32,201.7v-1.9M305.32,12.35v1.9M311.76,201.7v-1.9M311.76,12.35v1.9M318.2,201.7v-1.9M318.2,12.35v1.9M324.64,201.7v-1.9M324.64,12.35v1.9M331.08,201.7v-1.9M331.08,12.35v1.9M337.52,201.7v-1.9M337.52,12.35v1.9M343.96,201.7v-1.9M343.96,12.35v1.9" class="tk"/>
<text x="26.2" y="202.35" class="tl" text-anchor="end">0</text>
<text x="26.2" y="173.29" class="tl" text-anchor="end">10</text>
<text x="26.2" y="141.73" class="tl" text-anchor="end">20</text>
<text x="26.2" y="110.17" class="tl" text-anchor="end">30</text>
<text x="26.2" y="78.62" class="tl" text-anchor="end">40</text>
<text x="26.2" y="47.06" class="tl" text-anchor="end">50</text>
<text x="26.2" y="17.05" class="tl" text-anchor="end">60</text>
<text x="28.5" y="213" class="tl" text-anchor="middle">0</text>
<text x="92.86" y="213" class="tl" text-anchor="middle">100</text>
<text x="157.22" y="213" class="tl" text-anchor="middle">200</text>
<text x="221.58" y="213" class="tl" text-anchor="middle">300</text>
<text x="285.94" y="213" class="tl" text-anchor="middle">400</text>
<text x="350.3" y="213" class="tl" text-anchor="middle">500</text>
<text x="189.4" y="223" class="tl" text-anchor="middle">time (mins)</text>
<text transform="translate(10.1,107.42) rotate(-90)" class="tl" text-anchor="middle">flux</text>
<text x="189.4" y="8.05" class="tt" text-anchor="middle">Gaussian flare profile, Type O QPP, Linear envelope</text>
<rect x="25.5" y="258.4" width="321.7" height="189.3" class="ax"/>
<path d="M56.1,438.5 L56.42,438.41 L56.74,438.31 L57.06,438.22 L57.38,438.13 L57.7,438.04 L58.03,437.95 L58.35,437.86 L58.67,437.77 L58.99,437.68 L59.31,437.59 L59.63,437.5 L59.96,437.42 L60.28,437.33 L60.6,437.24 L60.92,437.15 L61.24,437.06 L61.56,436.97 L61.89,436.88 L62.21,436.8 L62.53,436.71 L62.85,436.62 L63.17,436.53 L63.49,436.45 L63.81,436.36 L64.14,436.27 L64.46,436.19 L64.78,436.1 L65.1,436.02 L65.42,435.93 L65.74,435.84 L66.07,435.76 L66.39,435.67 L66.71,435.59 L67.03,435.5 L67.35,435.42 L67.67,435.33 L67.99,435.25 L68.32,435.16 L68.64,435.08 L68.96,435 L69.28,434.91 L69.6,434.83 L69.92,434.75 L70.25,434.66 L70.57,434.58 L70.89,434.5 L71.21,434.41 L71.53,434.33 L71.85,434.25 L72.17,434.17 L72.5,434.09 L72.82,434 L73.14,433.92 L73.46,433.84 L73.78,433.76 L74.1,433.68 L74.43,433.6 L74.75,433.52 L75.07,433.44 L75.39,433.36 L75.71,433.28 L76.03,433.2 L76.35,433.12 L76.68,433.04 L77,432.96 L77.32,432.88 L77.64,432.8 L77.96,432.72 L78.28,432.64 L78.61,432.56 L78.93,432.49 L79.25,432.41 L79.57,432.33 L79.89,432.25 L80.21,432.18 L80.54,432.1 L80.86,432.02 L81.18,431.94 L81.5,431.87 L81.82,431.79 L82.14,431.71 L82.46,431.64 L82.79,431.56 L83.11,431.49 L83.43,431.41 L83.75,431.34 L84.07,431.26 L84.39,431.19 L84.72,431.11 L85.04,431.04 L85.36,430.96 L85.68,430.89 L86,430.81 L86.32,430.74 L86.64,430.66 L86.97,430.59 L87.29,430.52 L87.61,430.44 L87.93,430.37 L88.25,430.3 L88.57,430.23 L88.9,430.15 L89.22,430.08 L89.54,430.01 L89.86,429.94 L90.18,429.87 L90.5,429.79 L90.82,429.72 L91.15,429.65 L91.47,429.58 L91.79,429.51 L92.11,429.44 L92.43,429.37 L92.75,429.3 L93.08,429.23 L93.4,429.16 L93.72,429.09 L94.04,429.02 L94.36,428.95 L94.68,428.88 L95,428.81 L95.33,428.74 L95.65,428.67 L95.97,428.61 L96.29,428.54 L96.61,428.47 L96.93,428.4 L97.26,428.33 L97.58,428.27 L97.9,428.2 L98.22,428.13 L98.54,428.06 L98.86,428 L99.18,427.93 L99.51,427.86 L99.83,427.8 L100.15,427.73 L100.47,427.67 L100.79,427.6 L101.11,427.54 L101.44,427.47 L101.76,427.41 L102.08,427.34 L102.4,427.28 L102.72,427.21 L103.04,427.15 L103.37,427.08 L103.69,427.02 L104.01,426.95 L104.33,426.89 L104.65,426.83 L104.97,426.76 L105.29,426.7 L105.62,426.64 L105.94,426.58 L106.26,426.51 L106.58,426.45 L106.9,426.39 L107.22,426.33 L107.55,426.26 L107.87,426.2 L108.19,426.14 L108.51,426.08 L108.83,426.02 L109.15,425.96 L109.47,425.9 L109.8,425.84 L110.12,425.78 L110.44,425.72 L110.76,425.66 L111.08,425.6 L111.4,425.54 L111.73,425.48 L112.05,425.42 L112.37,425.36 L112.69,425.3 L113.01,425.24 L113.33,425.18 L113.65,425.13 L113.98,425.07 L114.3,425.01 L114.62,424.95 L114.94,424.89 L115.26,424.84 L115.58,424.78 L115.91,424.72 L116.23,424.67 L116.55,424.61 L116.87,424.55 L117.19,424.5 L117.51,424.44 L117.83,424.38 L118.16,424.33 L118.48,424.27 L118.8,424.22 L119.12,424.16 L119.44,424.11 L119.76,424.05 L120.09,424 L120.41,423.94 L120.73,423.89 L121.05,423.84 L121.37,423.78 L121.69,423.73 L122.02,423.67 L122.34,423.62 L122.66,423.57 L122.98,423.51 L123.3,423.46 L123.62,423.41 L123.94,423.36 L124.27,423.3 L124.59,423.25 L124.91,423.2 L125.23,423.15 L125.55,423.1 L125.87,423.05 L126.2,423 L126.52,422.94 L126.84,422.89 L127.16,422.84 L127.48,422.79 L127.8,422.74 L128.12,422.69 L128.45,422.64 L128.77,422.59 L129.09,422.54 L129.41,422.49 L129.73,422.44 L130.05,422.4 L130.38,422.35 L130.7,422.3 L131.02,422.25 L131.34,422.2 L131.66,422.15 L131.98,422.11 L132.3,422.06 L132.63,422.01 L132.95,421.96 L133.27,421.92 L133.59,421.87 L133.91,421.82 L134.23,421.78 L134.56,421.73 L134.88,421.68 L135.2,421.64 L135.52,421.59 L135.84,421.55 L136.16,421.5 L136.48,421.46 L136.81,421.41 L137.13,421.37 L137.45,421.32 L137.77,421.28 L138.09,421.23 L138.41,421.19 L138.74,421.15 L139.06,421.1 L139.38,421.06 L139.7,421.01 L140.02,420.97 L140.34,420.93 L140.66,420.89 L140.99,420.84 L141.31,420.8 L141.63,420.76 L141.95,420.72 L142.27,420.67 L142.59,420.63 L142.92,420.59 L143.24,420.55 L143.56,420.51 L143.88,420.47 L144.2,420.43 L144.52,420.39 L144.85,420.35 L145.17,420.31 L145.49,420.27 L145.81,420.23 L146.13,420.19 L146.45,420.15 L146.77,420.11 L147.1,420.07 L147.42,420.03 L147.74,419.99 L148.06,419.95 L148.38,419.91 L148.7,419.87 L149.03,419.84 L149.35,419.8 L149.67,419.76 L149.99,419.72 L150.31,419.69 L150.63,419.65 L150.95,419.61 L151.28,419.58 L151.6,419.54 L151.92,419.5 L152.24,419.47 L152.56,419.43 L152.88,419.39 L153.21,419.36 L153.53,419.32 L153.85,419.29 L154.17,419.25 L154.49,419.22 L154.81,419.18 L155.13,419.15 L155.46,419.11 L155.78,419.08 L156.1,419.05 L156.42,419.01 L156.74,418.98 L157.06,418.95 L157.39,418.91 L157.71,418.88 L158.03,418.85 L158.35,418.81 L158.67,418.78 L158.99,418.75 L159.31,418.72 L159.64,418.68 L159.96,418.65 L160.28,418.62 L160.6,418.59 L160.92,418.56 L161.24,418.53 L161.57,418.5 L161.89,418.47 L162.21,418.44 L162.53,418.41 L162.85,418.38 L163.17,418.35 L163.49,418.32 L163.82,418.29 L164.14,418.26 L164.46,418.23 L164.78,418.2 L165.1,418.17 L165.42,418.14 L165.75,418.11 L166.07,418.08 L166.39,418.06 L166.71,418.03 L167.03,418 L167.35,417.97 L167.68,417.95 L168,417.92 L168.32,417.89 L168.64,417.86 L168.96,417.84 L169.28,417.81 L169.6,417.79 L169.93,417.76 L170.25,417.73 L170.57,417.71 L170.89,417.68 L171.21,417.66 L171.53,417.63 L171.86,417.61 L172.18,417.58 L172.5,417.56 L172.82,417.53 L173.14,417.51 L173.46,417.48 L173.78,417.46 L174.11,417.44 L174.43,417.41 L174.75,417.39 L175.07,417.37 L175.39,417.34 L175.71,417.32 L176.04,417.3 L176.36,417.28 L176.68,417.25 L177,417.23 L177.32,417.21 L177.64,417.19 L177.96,417.17 L178.29,417.15 L178.61,417.12 L178.93,417.1 L179.25,417.08 L179.57,417.06 L179.89,417.04 L180.22,417.02 L180.54,417 L180.86,416.98 L181.18,416.96 L181.5,416.94 L181.82,416.92 L182.14,416.9 L182.47,416.89 L182.79,416.87 L183.11,416.85 L183.43,416.83 L183.75,416.81 L184.07,416.79 L184.4,416.78 L184.72,416.76 L185.04,416.74 L185.36,416.72 L185.68,416.71 L186,416.69 L186.33,416.67 L186.65,416.66 L186.97,416.64 L187.29,416.62 L187.61,416.61 L187.93,416.59 L188.25,416.58 L188.58,416.56 L188.9,416.55 L189.22,416.53 L189.54,416.52 L189.86,416.5 L190.18,416.49 L190.51,416.47 L190.83,416.46 L191.15,416.45 L191.47,416.43 L191.79,416.42 L192.11,416.41 L192.43,416.39 L192.76,416.38 L193.08,416.37 L193.4,416.35 L193.72,416.34 L194.04,416.33 L194.36,416.32 L194.69,416.31 L195.01,416.29 L195.33,416.28 L195.65,416.27 L195.97,416.26 L196.29,416.25 L196.61,416.24 L196.94,416.23 L197.26,416.22 L197.58,416.21 L197.9,416.2 L198.22,416.19 L198.54,416.18 L198.87,416.17 L199.19,416.16 L199.51,416.15 L199.83,416.14 L200.15,416.13 L200.47,416.12 L200.79,416.11 L201.12,416.11 L201.44,416.1 L201.76,416.09 L202.08,416.08 L202.4,416.08 L202.72,416.07 L203.05,416.06 L203.37,416.05 L203.69,416.05 L204.01,416.04 L204.33,416.03 L204.65,416.03 L204.97,416.02 L205.3,416.02 L205.62,416.01 L205.94,416.01 L206.26,416 L206.58,415.99 L206.9,415.99 L207.23,415.99 L207.55,415.98 L207.87,415.98 L208.19,415.97 L208.51,415.97 L208.83,415.96 L209.16,415.96 L209.48,415.96 L209.8,415.95 L210.12,415.95 L210.44,415.95 L210.76,415.95 L211.08,415.94 L211.41,415.94 L211.73,415.94 L212.05,415.94 L212.37,415.94 L212.69,415.93 L213.01,415.93 L213.34,415.93 L213.66,415.93 L213.98,415.93 L214.3,415.93 L214.62,415.93 L214.94,415.93 L215.26,415.93 L215.59,415.93 L215.91,415.93 L216.23,415.93 L216.55,415.93 L216.87,415.93 L217.19,415.93 L217.52,415.93 L217.84,415.93 L218.16,415.94 L218.48,415.94 L218.8,415.94 L219.12,415.94 L219.44,415.94 L219.77,415.95 L220.09,415.95 L220.41,415.95 L220.73,415.95 L221.05,415.96 L221.37,415.96 L221.7,415.96 L222.02,415.97 L222.34,415.97 L222.66,415.98 L222.98,415.98 L223.3,415.99 L223.62,415.99 L223.95,415.99 L224.27,416 L224.59,416.01 L224.91,416.01 L225.23,416.02 L225.55,416.02 L225.88,416.03 L226.2,416.03 L226.52,416.04 L226.84,416.05 L227.16,416.05 L227.48,416.06 L227.8,416.07 L228.13,416.08 L228.45,416.08 L228.77,416.09 L229.09,416.1 L229.41,416.11 L229.73,416.11 L230.06,416.12 L230.38,416.13 L230.7,416.14 L231.02,416.15 L231.34,416.16 L231.66,416.17 L231.99,416.18 L232.31,416.19 L232.63,416.2 L232.95,416.21 L233.27,416.22 L233.59,416.23 L233.91,416.24 L234.24,416.25 L234.56,416.26 L234.88,416.27 L235.2,416.28 L235.52,416.29 L235.84,416.31 L236.17,416.32 L236.49,416.33 L236.81,416.34 L237.13,416.35 L237.45,416.37 L237.77,416.38 L238.09,416.39 L238.42,416.41 L238.74,416.42 L239.06,416.43 L239.38,416.45 L239.7,416.46 L240.02,416.47 L240.35,416.49 L240.67,416.5 L240.99,416.52 L241.31,416.53 L241.63,416.55 L241.95,416.56 L242.27,416.58 L242.6,416.59 L242.92,416.61 L243.24,416.62 L243.56,416.64 L243.88,416.66 L244.2,416.67 L244.53,416.69 L244.85,416.71 L245.17,416.72 L245.49,416.74 L245.81,416.76 L246.13,416.78 L246.45,416.79 L246.78,416.81 L247.1,416.83 L247.42,416.85 L247.74,416.87 L248.06,416.89 L248.38,416.9 L248.71,416.92 L249.03,416.94 L249.35,416.96 L249.67,416.98 L249.99,417 L250.31,417.02 L250.64,417.04 L250.96,417.06 L251.28,417.08 L251.6,417.1 L251.92,417.12 L252.24,417.15 L252.56,417.17 L252.89,417.19 L253.21,417.21 L253.53,417.23 L253.85,417.25 L254.17,417.28 L254.49,417.3 L254.82,417.32 L255.14,417.34 L255.46,417.37 L255.78,417.39 L256.1,417.41 L256.42,417.44 L256.74,417.46 L257.07,417.48 L257.39,417.51 L257.71,417.53 L258.03,417.56 L258.35,417.58 L258.67,417.61 L259,417.63 L259.32,417.66 L259.64,417.68 L259.96,417.71 L260.28,417.73 L260.6,417.76 L260.92,417.79 L261.25,417.81 L261.57,417.84 L261.89,417.86 L262.21,417.89 L262.53,417.92 L262.85,417.95 L263.18,417.97 L263.5,418 L263.82,418.03 L264.14,418.06 L264.46,418.08 L264.78,418.11 L265.1,418.14 L265.43,418.17 L265.75,418.2 L266.07,418.23 L266.39,418.26 L266.71,418.29 L267.03,418.32 L267.36,418.35 L267.68,418.38 L268,418.41 L268.32,418.44 L268.64,418.47 L268.96,418.5 L269.28,418.53 L269.61,418.56 L269.93,418.59 L270.25,418.62 L270.57,418.65 L270.89,418.68 L271.21,418.72 L271.54,418.75 L271.86,418.78 L272.18,418.81 L272.5,418.85 L272.82,418.88 L273.14,418.91 L273.47,418.95 L273.79,418.98 L274.11,419.01 L274.43,419.05 L274.75,419.08 L275.07,419.11 L275.39,419.15 L275.72,419.18 L276.04,419.22 L276.36,419.25 L276.68,419.29 L277,419.32 L277.32,419.36 L277.65,419.39 L277.97,419.43 L278.29,419.47 L278.61,419.5 L278.93,419.54 L279.25,419.58 L279.57,419.61 L279.9,419.65 L280.22,419.69 L280.54,419.72 L280.86,419.76 L281.18,419.8 L281.5,419.84 L281.83,419.87 L282.15,419.91 L282.47,419.95 L282.79,419.99 L283.11,420.03 L283.43,420.07 L283.75,420.11 L284.08,420.15 L284.4,420.19 L284.72,420.23 L285.04,420.27 L285.36,420.31 L285.68,420.35 L286.01,420.39 L286.33,420.43 L286.65,420.47 L286.97,420.51 L287.29,420.55 L287.61,420.59 L287.93,420.63 L288.26,420.67 L288.58,420.72 L288.9,420.76 L289.22,420.8 L289.54,420.84 L289.86,420.89 L290.19,420.93 L290.51,420.97 L290.83,421.01 L291.15,421.06 L291.47,421.1 L291.79,421.15 L292.11,421.19 L292.44,421.23 L292.76,421.28 L293.08,421.32 L293.4,421.37 L293.72,421.41 L294.04,421.46 L294.37,421.5 L294.69,421.55 L295.01,421.59 L295.33,421.64 L295.65,421.68 L295.97,421.73 L296.3,421.78 L296.62,421.82 L296.94,421.87 L297.26,421.92 L297.58,421.96 L297.9,422.01 L298.22,422.06 L298.55,422.11 L298.87,422.15 L299.19,422.2 L299.51,422.25 L299.83,422.3 L300.15,422.35 L300.48,422.4 L300.8,422.44 L301.12,422.49 L301.44,422.54 L301.76,422.59 L302.08,422.64 L302.4,422.69 L302.73,422.74 L303.05,422.79 L303.37,422.84 L303.69,422.89 L304.01,422.94 L304.33,423 L304.66,423.05 L304.98,423.1 L305.3,423.15 L305.62,423.2 L305.94,423.25 L306.26,423.3 L306.58,423.36 L306.91,423.41 L307.23,423.46 L307.55,423.51 L307.87,423.57 L308.19,423.62 L308.51,423.67 L308.84,423.73 L309.16,423.78 L309.48,423.84 L309.8,423.89 L310.12,423.94 L310.44,424 L310.76,424.05 L311.09,424.11 L311.41,424.16 L311.73,424.22 L312.05,424.27 L312.37,424.33 L312.69,424.38 L313.02,424.44 L313.34,424.5 L313.66,424.55 L313.98,424.61 L314.3,424.67 L314.62,424.72 L314.94,424.78 L315.27,424.84 L315.59,424.89 L315.91,424.95 L316.23,425.01 L316.55,425.07 L316.87,425.13 L317.2,425.18 L317.52,425.24 L317.84,425.3 L318.16,425.36 L318.48,425.42 L318.8,425.48 L319.13,425.54 L319.45,425.6 L319.77,425.66 L320.09,425.72 L320.41,425.78 L320.73,425.84 L321.05,425.9 L321.38,425.96 L321.7,426.02 L322.02,426.08 L322.34,426.14 L322.66,426.2 L322.98,426.26 L323.31,426.33 L323.63,426.39 L323.95,426.45 L324.27,426.51 L324.59,426.58 L324.91,426.64 L325.23,426.7 L325.56,426.76 L325.88,426.83 L326.2,426.89 L326.52,426.95 L326.84,427.02 L327.16,427.08 L327.49,427.15 L327.81,427.21 L328.13,427.28 L328.45,427.34 L328.77,427.41 L329.09,427.47 L329.41,427.54 L329.74,427.6 L330.06,427.67 L330.38,427.73 L330.7,427.8 L331.02,427.86 L331.34,427.93 L331.67,428 L331.99,428.06 L332.31,428.13 L332.63,428.2 L332.95,428.27 L333.27,428.33 L333.59,428.4 L333.92,428.47 L334.24,428.54 L334.56,428.61 L334.88,428.67 L335.2,428.74 L335.52,428.81 L335.85,428.88 L336.17,428.95 L336.49,429.02 L336.81,429.09 L337.13,429.16 L337.45,429.23 L337.78,429.3 L338.1,429.37 L338.42,429.44 L338.74,429.51 L339.06,429.58 L339.38,429.65 L339.7,429.72 L340.03,429.79 L340.35,429.87 L340.67,429.94 L340.99,430.01 L341.31,430.08 L341.63,430.15 L341.96,430.23 L342.28,430.3 L342.6,430.37 L342.92,430.44 L343.24,430.52 L343.56,430.59 L343.88,430.66 L344.21,430.74 L344.53,430.81 L344.85,430.89 L345.17,430.96 L345.49,431.04 L345.81,431.11 L346.14,431.19 L346.46,431.26 L346.78,431.34 L347.1,431.41" class="dash" stroke-dashoffset="39.5"/>
<path d="M122.02,342.58 L122.34,343.07 L122.66,343.55 L122.98,344.03 L123.3,344.51 L123.62,344.98 L123.94,345.45 L124.27,345.91 L124.59,346.37 L124.91,346.83 L125.23,347.29 L125.55,347.74 L125.87,348.19 L126.2,348.64 L126.52,349.08 L126.84,349.52 L127.16,349.96 L127.48,350.39 L127.8,350.82 L128.12,351.25 L128.45,351.67 L128.77,352.1 L129.09,352.52 L129.41,352.93 L129.73,353.34 L130.05,353.75 L130.38,354.16 L130.7,354.57 L131.02,354.97 L131.34,355.37 L131.66,355.76 L131.98,356.16 L132.3,356.55 L132.63,356.94 L132.95,357.32 L133.27,357.7 L133.59,358.08 L133.91,358.46 L134.23,358.83 L134.56,359.21 L134.88,359.58 L135.2,359.94 L135.52,360.31 L135.84,360.67 L136.16,361.03 L136.48,361.38 L136.81,361.74 L137.13,362.09 L137.45,362.44 L137.77,362.79 L138.09,363.13 L138.41,363.47 L138.74,363.81 L139.06,364.15 L139.38,364.48 L139.7,364.82 L140.02,365.15 L140.34,365.47 L140.66,365.8 L140.99,366.12 L141.31,366.44 L141.63,366.76 L141.95,367.08 L142.27,367.39 L142.59,367.71 L142.92,368.02 L143.24,368.32 L143.56,368.63 L143.88,368.93 L144.2,369.24 L144.52,369.54 L144.85,369.83 L145.17,370.13 L145.49,370.42 L145.81,370.71 L146.13,371 L146.45,371.29 L146.77,371.57 L147.1,371.86 L147.42,372.14 L147.74,372.42 L148.06,372.7 L148.38,372.97 L148.7,373.25 L149.03,373.52 L149.35,373.79 L149.67,374.06 L149.99,374.32 L150.31,374.59 L150.63,374.85 L150.95,375.11 L151.28,375.37 L151.6,375.63 L151.92,375.88 L152.24,376.13 L152.56,376.39 L152.88,376.64 L153.21,376.88 L153.53,377.13 L153.85,377.38 L154.17,377.62 L154.49,377.86 L154.81,378.1 L155.13,378.34 L155.46,378.58 L155.78,378.81 L156.1,379.05 L156.42,379.28 L156.74,379.51 L157.06,379.74 L157.39,379.96 L157.71,380.19 L158.03,380.41 L158.35,380.64 L158.67,380.86 L158.99,381.08 L159.31,381.3 L159.64,381.51 L159.96,381.73 L160.28,381.94 L160.6,382.15 L160.92,382.36 L161.24,382.57 L161.57,382.78 L161.89,382.99 L162.21,383.19 L162.53,383.4 L162.85,383.6 L163.17,383.8 L163.49,384 L163.82,384.2 L164.14,384.4 L164.46,384.59 L164.78,384.79 L165.1,384.98 L165.42,385.17 L165.75,385.36 L166.07,385.55 L166.39,385.74 L166.71,385.93 L167.03,386.11 L167.35,386.3 L167.68,386.48 L168,386.66 L168.32,386.84 L168.64,387.02 L168.96,387.2 L169.28,387.38 L169.6,387.55 L169.93,387.73 L170.25,387.9 L170.57,388.07 L170.89,388.25 L171.21,388.42 L171.53,388.59 L171.86,388.75 L172.18,388.92 L172.5,389.09 L172.82,389.25 L173.14,389.41 L173.46,389.58 L173.78,389.74 L174.11,389.9 L174.43,390.06 L174.75,390.22 L175.07,390.37 L175.39,390.53 L175.71,390.69 L176.04,390.84 L176.36,390.99 L176.68,391.15 L177,391.3 L177.32,391.45 L177.64,391.6 L177.96,391.75 L178.29,391.89 L178.61,392.04 L178.93,392.19 L179.25,392.33 L179.57,392.48 L179.89,392.62 L180.22,392.76 L180.54,392.9 L180.86,393.04 L181.18,393.18 L181.5,393.32 L181.82,393.46 L182.14,393.59 L182.47,393.73 L182.79,393.87 L183.11,394 L183.43,394.13 L183.75,394.27 L184.07,394.4 L184.4,394.53 L184.72,394.66 L185.04,394.79 L185.36,394.92 L185.68,395.05 L186,395.17 L186.33,395.3" class="b"/>
<path d="M25.55,447.99 L25.87,447.88 L26.19,447.77 L26.51,447.66 L26.84,447.56 L27.16,447.45 L27.48,447.34 L27.8,447.23 L28.12,447.13 L28.44,447.02 L28.77,446.91 L29.09,446.81 L29.41,446.7 L29.73,446.59 L30.05,446.49 L30.37,446.38 L30.69,446.27 L31.02,446.17 L31.34,446.06 L31.66,445.96 L31.98,445.85 L32.3,445.75 L32.62,445.64 L32.95,445.54 L33.27,445.43 L33.59,445.33 L33.91,445.22 L34.23,445.12 L34.55,445.02 L34.87,444.91 L35.2,444.81 L35.52,444.71 L35.84,444.6 L36.16,444.5 L36.48,444.4 L36.8,444.3 L37.13,444.19 L37.45,444.09 L37.77,443.99 L38.09,443.89 L38.41,443.79 L38.73,443.68 L39.06,443.58 L39.38,443.48 L39.7,443.38 L40.02,443.28 L40.34,443.18 L40.66,443.08 L40.98,442.98 L41.31,442.88 L41.63,442.78 L41.95,442.68 L42.27,442.58 L42.59,442.48 L42.91,442.38 L43.24,442.28 L43.56,442.18 L43.88,442.08 L44.2,441.98 L44.52,441.89 L44.84,441.79 L45.16,441.69 L45.49,441.59 L45.81,441.49 L46.13,441.39 L46.45,441.3 L46.77,441.2 L47.09,441.1 L47.42,441 L47.74,440.9 L48.06,440.81 L48.38,440.71 L48.7,440.61 L49.02,440.51 L49.34,440.42 L49.67,440.32 L49.99,440.22 L50.31,440.12 L50.63,440.03 L50.95,439.93 L51.27,439.83 L51.6,439.73 L51.92,439.64 L52.24,439.54 L52.56,439.44 L52.88,439.34 L53.2,439.25 L53.52,439.15 L53.85,439.05 L54.17,438.95 L54.49,438.85 L54.81,438.75 L55.13,438.65 L55.45,438.55 L55.78,438.45 L56.1,438.35 L56.42,438.25 L56.74,438.15 L57.06,438.05 L57.38,437.94 L57.7,437.84 L58.03,437.74 L58.35,437.63 L58.67,437.53 L58.99,437.42 L59.31,437.31 L59.63,437.2 L59.96,437.09 L60.28,436.98 L60.6,436.87 L60.92,436.76 L61.24,436.64 L61.56,436.53 L61.89,436.41 L62.21,436.29 L62.53,436.16 L62.85,436.04 L63.17,435.91 L63.49,435.78 L63.81,435.65 L64.14,435.51 L64.46,435.37 L64.78,435.23 L65.1,435.08 L65.42,434.93 L65.74,434.78 L66.07,434.62 L66.39,434.46 L66.71,434.29 L67.03,434.11 L67.35,433.93 L67.67,433.75 L67.99,433.55 L68.32,433.35 L68.64,433.14 L68.96,432.92 L69.28,432.7 L69.6,432.46 L69.92,432.21 L70.25,431.96 L70.57,431.69 L70.89,431.4 L71.21,431.11 L71.53,430.8 L71.85,430.47 L72.17,430.13 L72.5,429.77 L72.82,429.39 L73.14,428.99 L73.46,428.57 L73.78,428.13 L74.1,427.66 L74.43,427.16 L74.75,426.64 L75.07,426.08 L75.39,425.49 L75.71,424.87 L76.03,424.21 L76.35,423.51 L76.68,422.77 L77,421.98 L77.32,421.15 L77.64,420.26 L77.96,419.32 L78.28,418.31 L78.61,417.25 L78.93,416.11 L79.25,414.91 L79.57,413.62 L79.89,412.26 L80.21,410.8 L80.54,409.25 L80.86,407.6 L81.18,405.84 L81.5,403.96 L81.82,401.96 L82.14,399.83 L82.46,397.55 L82.79,395.13 L83.11,392.54 L83.43,389.78 L83.75,386.83 L84.07,383.69 L84.39,380.33 L84.72,376.75 L85.04,372.93 L85.36,368.85 L85.68,364.5 L86,359.84 L86.32,354.88 L86.64,349.57 L86.97,343.91 L87.29,337.86 L87.61,331.4 L87.93,324.5 L88.25,317.13 L88.57,309.25 L88.9,300.84 L89.22,291.85 L89.54,282.25 L89.86,272 L90.18,272.97 L90.5,273.94 L90.82,274.91 L91.15,275.87 L91.47,276.82 L91.79,277.76 L92.11,278.7 L92.43,279.63 L92.75,280.55 L93.08,281.47 L93.4,282.38 L93.72,283.29 L94.04,284.19 L94.36,285.08 L94.68,285.97 L95,286.85 L95.33,287.72 L95.65,288.59 L95.97,289.45 L96.29,290.31 L96.61,291.16 L96.93,292.01 L97.26,292.84 L97.58,293.68 L97.9,294.5 L98.22,295.33 L98.54,296.14 L98.86,296.95 L99.18,297.75 L99.51,298.55 L99.83,299.35 L100.15,300.13 L100.47,300.92 L100.79,301.69 L101.11,302.46 L101.44,303.23 L101.76,303.99 L102.08,304.74 L102.4,305.49 L102.72,306.24 L103.04,306.98 L103.37,307.71 L103.69,308.44 L104.01,309.17 L104.33,309.88 L104.65,310.6 L104.97,311.31 L105.29,312.01 L105.62,312.71 L105.94,313.41 L106.26,314.09 L106.58,314.78 L106.9,315.46 L107.22,316.13 L107.55,316.8 L107.87,317.47 L108.19,318.13 L108.51,318.79 L108.83,319.44 L109.15,320.09 L109.47,320.73 L109.8,321.37 L110.12,322 L110.44,322.63 L110.76,323.26 L111.08,323.88 L111.4,324.49 L111.73,325.1 L112.05,325.71 L112.37,326.32 L112.69,326.92 L113.01,327.51 L113.33,328.1 L113.65,328.69 L113.98,329.27 L114.3,329.85 L114.62,330.42 L114.94,330.99 L115.26,331.56 L115.58,332.12 L115.91,332.68 L116.23,333.24 L116.55,333.79 L116.87,334.33 L117.19,334.88 L117.51,335.42 L117.83,335.95 L118.16,336.48 L118.48,337.01 L118.8,337.54 L119.12,338.06 L119.44,338.58 L119.76,339.09 L120.09,339.6 L120.41,340.1 L120.73,340.61 L121.05,341.11 L121.37,341.6 L121.69,342.1 L122.02,342.58 L122.34,342.98 L122.66,343.21 L122.98,343.26 L123.3,343.14 L123.62,342.86 L123.94,342.43 L124.27,341.86 L124.59,341.16 L124.91,340.34 L125.23,339.42 L125.55,338.41 L125.87,337.33 L126.2,336.19 L126.52,335.02 L126.84,333.84 L127.16,332.65 L127.48,331.48 L127.8,330.35 L128.12,329.28 L128.45,328.28 L128.77,327.36 L129.09,326.55 L129.41,325.85 L129.73,325.28 L130.05,324.85 L130.38,324.57 L130.7,324.44 L131.02,324.48 L131.34,324.68 L131.66,325.05 L131.98,325.58 L132.3,326.29 L132.63,327.15 L132.95,328.17 L133.27,329.34 L133.59,330.65 L133.91,332.08 L134.23,333.64 L134.56,335.3 L134.88,337.04 L135.2,338.87 L135.52,340.75 L135.84,342.67 L136.16,344.61 L136.48,346.57 L136.81,348.51 L137.13,350.42 L137.45,352.29 L137.77,354.1 L138.09,355.83 L138.41,357.48 L138.74,359.02 L139.06,360.44 L139.38,361.73 L139.7,362.89 L140.02,363.91 L140.34,364.78 L140.66,365.49 L140.99,366.05 L141.31,366.44 L141.63,366.69 L141.95,366.77 L142.27,366.71 L142.59,366.51 L142.92,366.17 L143.24,365.7 L143.56,365.12 L143.88,364.44 L144.2,363.66 L144.52,362.8 L144.85,361.88 L145.17,360.91 L145.49,359.91 L145.81,358.89 L146.13,357.87 L146.45,356.86 L146.77,355.88 L147.1,354.94 L147.42,354.06 L147.74,353.25 L148.06,352.52 L148.38,351.89 L148.7,351.36 L149.03,350.94 L149.35,350.64 L149.67,350.47 L149.99,350.42 L150.31,350.51 L150.63,350.73 L150.95,351.09 L151.28,351.58 L151.6,352.19 L151.92,352.93 L152.24,353.78 L152.56,354.74 L152.88,355.81 L153.21,356.96 L153.53,358.2 L153.85,359.51 L154.17,360.87 L154.49,362.27 L154.81,363.71 L155.13,365.17 L155.46,366.63 L155.78,368.09 L156.1,369.53 L156.42,370.93 L156.74,372.29 L157.06,373.6 L157.39,374.84 L157.71,376 L158.03,377.08 L158.35,378.08 L158.67,378.97 L158.99,379.77 L159.31,380.46 L159.64,381.04 L159.96,381.52 L160.28,381.89 L160.6,382.15 L160.92,382.31 L161.24,382.38 L161.57,382.34 L161.89,382.22 L162.21,382.02 L162.53,381.74 L162.85,381.4 L163.17,381 L163.49,380.56 L163.82,380.07 L164.14,379.56 L164.46,379.04 L164.78,378.5 L165.1,377.97 L165.42,377.45 L165.75,376.96 L166.07,376.49 L166.39,376.07 L166.71,375.68 L167.03,375.36 L167.35,375.09 L167.68,374.88 L168,374.74 L168.32,374.68 L168.64,374.68 L168.96,374.76 L169.28,374.92 L169.6,375.15 L169.93,375.44 L170.25,375.81 L170.57,376.25 L170.89,376.74 L171.21,377.3 L171.53,377.9 L171.86,378.55 L172.18,379.24 L172.5,379.96 L172.82,380.71 L173.14,381.48 L173.46,382.26 L173.78,383.04 L174.11,383.82 L174.43,384.59 L174.75,385.35 L175.07,386.09 L175.39,386.8 L175.71,387.48 L176.04,388.13 L176.36,388.74 L176.68,389.3 L177,389.83 L177.32,390.31 L177.64,390.74 L177.96,391.13 L178.29,391.48 L178.61,391.79 L178.93,392.05 L179.25,392.27 L179.57,392.46 L179.89,392.62 L180.22,392.75 L180.54,392.85 L180.86,392.94 L181.18,393.01 L181.5,393.07 L181.82,393.13 L182.14,393.18 L182.47,393.24 L182.79,393.3 L183.11,393.38 L183.43,393.47 L183.75,393.58 L184.07,393.71 L184.4,393.86 L184.72,394.04 L185.04,394.24 L185.36,394.47 L185.68,394.72 L186,395 L186.33,395.3 L186.65,395.42 L186.97,395.55 L187.29,395.67 L187.61,395.8 L187.93,395.92 L188.25,396.04 L188.58,396.16 L188.9,396.28 L189.22,396.4 L189.54,396.52 L189.86,396.64 L190.18,396.76 L190.51,396.87 L190.83,396.99 L191.15,397.1 L191.47,397.22 L191.79,397.33 L192.11,397.45 L192.43,397.56 L192.76,397.67 L193.08,397.78 L193.4,397.89 L193.72,398 L194.04,398.11 L194.36,398.22 L194.69,398.33 L195.01,398.44 L195.33,398.55 L195.65,398.65 L195.97,398.76 L196.29,398.86 L196.61,398.97 L196.94,399.07 L197.26,399.18 L197.58,399.28 L197.9,399.38 L198.22,399.48 L198.54,399.59 L198.87,399.69 L199.19,399.79 L199.51,399.89 L199.83,399.99 L200.15,400.08 L200.47,400.18 L200.79,400.28 L201.12,400.38 L201.44,400.47 L201.76,400.57 L202.08,400.66 L202.4,400.76 L202.72,400.85 L203.05,400.95 L203.37,401.04 L203.69,401.13 L204.01,401.23 L204.33,401.32 L204.65,401.41 L204.97,401.5 L205.3,401.59 L205.62,401.68 L205.94,401.77 L206.26,401.86 L206.58,401.95 L206.9,402.04 L207.23,402.13 L207.55,402.21 L207.87,402.3 L208.19,402.39 L208.51,402.47 L208.83,402.56 L209.16,402.65 L209.48,402.73 L209.8,402.82 L210.12,402.9 L210.44,402.98 L210.76,403.07 L211.08,403.15 L211.41,403.23 L211.73,403.32 L212.05,403.4 L212.37,403.48 L212.69,403.56 L213.01,403.64 L213.34,403.72 L213.66,403.8 L213.98,403.88 L214.3,403.96 L214.62,404.04 L214.94,404.12 L215.26,404.2 L215.59,404.27 L215.91,404.35 L216.23,404.43 L216.55,404.51 L216.87,404.58 L217.19,404.66 L217.52,404.74 L217.84,404.81 L218.16,404.89 L218.48,404.96 L218.8,405.04 L219.12,405.11 L219.44,405.19 L219.77,405.26 L220.09,405.33 L220.41,405.41 L220.73,405.48 L221.05,405.55 L221.37,405.63 L221.7,405.7 L222.02,405.77 L222.34,405.84 L222.66,405.91 L222.98,405.98 L223.3,406.06 L223.62,406.13 L223.95,406.2 L224.27,406.27 L224.59,406.34 L224.91,406.41 L225.23,406.48 L225.55,406.54 L225.88,406.61 L226.2,406.68 L226.52,406.75 L226.84,406.82 L227.16,406.89 L227.48,406.96 L227.8,407.02 L228.13,407.09 L228.45,407.16 L228.77,407.22 L229.09,407.29 L229.41,407.36 L229.73,407.42 L230.06,407.49 L230.38,407.56 L230.7,407.62 L231.02,407.69 L231.34,407.75 L231.66,407.82 L231.99,407.88 L232.31,407.95 L232.63,408.01 L232.95,408.08 L233.27,408.14 L233.59,408.2 L233.91,408.27 L234.24,408.33 L234.56,408.4 L234.88,408.46 L235.2,408.52 L235.52,408.59 L235.84,408.65 L236.17,408.71 L236.49,408.77 L236.81,408.84 L237.13,408.9 L237.45,408.96 L237.77,409.02 L238.09,409.08 L238.42,409.15 L238.74,409.21 L239.06,409.27 L239.38,409.33 L239.7,409.39 L240.02,409.45 L240.35,409.51 L240.67,409.57 L240.99,409.64 L241.31,409.7 L241.63,409.76 L241.95,409.82 L242.27,409.88 L242.6,409.94 L242.92,410 L243.24,410.06 L243.56,410.12 L243.88,410.18 L244.2,410.24 L244.53,410.3 L244.85,410.35 L245.17,410.41 L245.49,410.47 L245.81,410.53 L246.13,410.59 L246.45,410.65 L246.78,410.71 L247.1,410.77 L247.42,410.83 L247.74,410.88 L248.06,410.94 L248.38,411 L248.71,411.06 L249.03,411.12 L249.35,411.18 L249.67,411.23 L249.99,411.29 L250.31,411.35 L250.64,411.41 L250.96,411.47 L251.28,411.52 L251.6,411.58 L251.92,411.64 L252.24,411.7 L252.56,411.75 L252.89,411.81 L253.21,411.87 L253.53,411.93 L253.85,411.98 L254.17,412.04 L254.49,412.1 L254.82,412.15 L255.14,412.21 L255.46,412.27 L255.78,412.33 L256.1,412.38 L256.42,412.44 L256.74,412.5 L257.07,412.55 L257.39,412.61 L257.71,412.67 L258.03,412.72 L258.35,412.78 L258.67,412.84 L259,412.89 L259.32,412.95 L259.64,413.01 L259.96,413.06 L260.28,413.12 L260.6,413.18 L260.92,413.23 L261.25,413.29 L261.57,413.35 L261.89,413.4 L262.21,413.46 L262.53,413.52 L262.85,413.57 L263.18,413.63 L263.5,413.68 L263.82,413.74 L264.14,413.8 L264.46,413.85 L264.78,413.91 L265.1,413.97 L265.43,414.02 L265.75,414.08 L266.07,414.14 L266.39,414.19 L266.71,414.25 L267.03,414.3 L267.36,414.36 L267.68,414.42 L268,414.47 L268.32,414.53 L268.64,414.59 L268.96,414.64 L269.28,414.7 L269.61,414.76 L269.93,414.81 L270.25,414.87 L270.57,414.93 L270.89,414.98 L271.21,415.04 L271.54,415.1 L271.86,415.15 L272.18,415.21 L272.5,415.27 L272.82,415.32 L273.14,415.38 L273.47,415.44 L273.79,415.49 L274.11,415.55 L274.43,415.61 L274.75,415.66 L275.07,415.72 L275.39,415.78 L275.72,415.83 L276.04,415.89 L276.36,415.95 L276.68,416 L277,416.06 L277.32,416.12 L277.65,416.18 L277.97,416.23 L278.29,416.29 L278.61,416.35 L278.93,416.41 L279.25,416.46 L279.57,416.52 L279.9,416.58 L280.22,416.63 L280.54,416.69 L280.86,416.75 L281.18,416.81 L281.5,416.87 L281.83,416.92 L282.15,416.98 L282.47,417.04 L282.79,417.1 L283.11,417.15 L283.43,417.21 L283.75,417.27 L284.08,417.33 L284.4,417.39 L284.72,417.45 L285.04,417.5 L285.36,417.56 L285.68,417.62 L286.01,417.68 L286.33,417.74 L286.65,417.8 L286.97,417.86 L287.29,417.91 L287.61,417.97 L287.93,418.03 L288.26,418.09 L288.58,418.15 L288.9,418.21 L289.22,418.27 L289.54,418.33 L289.86,418.39 L290.19,418.45 L290.51,418.51 L290.83,418.57 L291.15,418.63 L291.47,418.69 L291.79,418.74 L292.11,418.8 L292.44,418.86 L292.76,418.92 L293.08,418.98 L293.4,419.05 L293.72,419.11 L294.04,419.17 L294.37,419.23 L294.69,419.29 L295.01,419.35 L295.33,419.41 L295.65,419.47 L295.97,419.53 L296.3,419.59 L296.62,419.65 L296.94,419.71 L297.26,419.77 L297.58,419.84 L297.9,419.9 L298.22,419.96 L298.55,420.02 L298.87,420.08 L299.19,420.14 L299.51,420.21 L299.83,420.27 L300.15,420.33 L300.48,420.39 L300.8,420.45 L301.12,420.52 L301.44,420.58 L301.76,420.64 L302.08,420.7 L302.4,420.77 L302.73,420.83 L303.05,420.89 L303.37,420.95 L303.69,421.02 L304.01,421.08 L304.33,421.14 L304.66,421.21 L304.98,421.27 L305.3,421.33 L305.62,421.4 L305.94,421.46 L306.26,421.53 L306.58,421.59 L306.91,421.65 L307.23,421.72 L307.55,421.78 L307.87,421.85 L308.19,421.91 L308.51,421.98 L308.84,422.04 L309.16,422.11 L309.48,422.17 L309.8,422.24 L310.12,422.3 L310.44,422.37 L310.76,422.43 L311.09,422.5 L311.41,422.56 L311.73,422.63 L312.05,422.7 L312.37,422.76 L312.69,422.83 L313.02,422.89 L313.34,422.96 L313.66,423.03 L313.98,423.09 L314.3,423.16 L314.62,423.23 L314.94,423.29 L315.27,423.36 L315.59,423.43 L315.91,423.5 L316.23,423.56 L316.55,423.63 L316.87,423.7 L317.2,423.77 L317.52,423.83 L317.84,423.9 L318.16,423.97 L318.48,424.04 L318.8,424.11 L319.13,424.18 L319.45,424.24 L319.77,424.31 L320.09,424.38 L320.41,424.45 L320.73,424.52 L321.05,424.59 L321.38,424.66 L321.7,424.73 L322.02,424.8 L322.34,424.87 L322.66,424.94 L322.98,425.01 L323.31,425.08 L323.63,425.15 L323.95,425.22 L324.27,425.29 L324.59,425.36 L324.91,425.43 L325.23,425.5 L325.56,425.57 L325.88,425.64 L326.2,425.71 L326.52,425.79 L326.84,425.86 L327.16,425.93 L327.49,426 L327.81,426.07 L328.13,426.15 L328.45,426.22 L328.77,426.29 L329.09,426.36 L329.41,426.44 L329.74,426.51 L330.06,426.58 L330.38,426.65 L330.7,426.73 L331.02,426.8 L331.34,426.87 L331.67,426.95 L331.99,427.02 L332.31,427.1 L332.63,427.17 L332.95,427.24 L333.27,427.32 L333.59,427.39 L333.92,427.47 L334.24,427.54 L334.56,427.62 L334.88,427.69 L335.2,427.77 L335.52,427.84 L335.85,427.92 L336.17,427.99 L336.49,428.07 L336.81,428.14 L337.13,428.22 L337.45,428.3 L337.78,428.37 L338.1,428.45 L338.42,428.53 L338.74,428.6 L339.06,428.68 L339.38,428.76 L339.7,428.83 L340.03,428.91 L340.35,428.99 L340.67,429.07 L340.99,429.14 L341.31,429.22 L341.63,429.3 L341.96,429.38 L342.28,429.46 L342.6,429.53 L342.92,429.61 L343.24,429.69 L343.56,429.77 L343.88,429.85 L344.21,429.93 L344.53,430.01 L344.85,430.09 L345.17,430.17 L345.49,430.25 L345.81,430.33 L346.14,430.41 L346.46,430.49 L346.78,430.57 L347.1,430.65" class="g"/>
<path d="M25.55,447.99 L25.87,447.99 L26.19,447.99 L26.51,447.99 L26.84,447.99 L27.16,447.99 L27.48,447.99 L27.8,447.99 L28.12,447.99 L28.44,447.99 L28.77,447.99 L29.09,447.99 L29.41,447.99 L29.73,447.99 L30.05,447.99 L30.37,447.99 L30.69,447.99 L31.02,447.99 L31.34,447.99 L31.66,447.99 L31.98,447.99 L32.3,447.99 L32.62,447.99 L32.95,447.99 L33.27,447.99 L33.59,447.99 L33.91,447.99 L34.23,447.99 L34.55,447.99 L34.87,447.99 L35.2,447.99 L35.52,447.99 L35.84,447.99 L36.16,447.99 L36.48,447.99 L36.8,447.99 L37.13,447.99 L37.45,447.99 L37.77,447.99 L38.09,447.99 L38.41,447.99 L38.73,447.99 L39.06,447.99 L39.38,447.99 L39.7,447.99 L40.02,447.98 L40.34,447.98 L40.66,447.98 L40.98,447.98 L41.31,447.98 L41.63,447.98 L41.95,447.98 L42.27,447.98 L42.59,447.98 L42.91,447.98 L43.24,447.98 L43.56,447.98 L43.88,447.98 L44.2,447.98 L44.52,447.98 L44.84,447.98 L45.16,447.98 L45.49,447.97 L45.81,447.97 L46.13,447.97 L46.45,447.97 L46.77,447.97 L47.09,447.97 L47.42,447.97 L47.74,447.96 L48.06,447.96 L48.38,447.96 L48.7,447.96 L49.02,447.96 L49.34,447.95 L49.67,447.95 L49.99,447.95 L50.31,447.95 L50.63,447.94 L50.95,447.94 L51.27,447.94 L51.6,447.93 L51.92,447.93 L52.24,447.93 L52.56,447.92 L52.88,447.92 L53.2,447.91 L53.52,447.91 L53.85,447.9 L54.17,447.89 L54.49,447.89 L54.81,447.88 L55.13,447.87 L55.45,447.86 L55.78,447.86 L56.1,447.85 L56.42,447.84 L56.74,447.83 L57.06,447.81 L57.38,447.8 L57.7,447.79 L58.03,447.78 L58.35,447.76 L58.67,447.74 L58.99,447.73 L59.31,447.71 L59.63,447.69 L59.96,447.67 L60.28,447.65 L60.6,447.62 L60.92,447.6 L61.24,447.57 L61.56,447.54 L61.89,447.51 L62.21,447.48 L62.53,447.44 L62.85,447.41 L63.17,447.37 L63.49,447.32 L63.81,447.28 L64.14,447.23 L64.46,447.17 L64.78,447.12 L65.1,447.06 L65.42,446.99 L65.74,446.93 L66.07,446.85 L66.39,446.77 L66.71,446.69 L67.03,446.6 L67.35,446.5 L67.67,446.4 L67.99,446.29 L68.32,446.18 L68.64,446.05 L68.96,445.92 L69.28,445.77 L69.6,445.62 L69.92,445.46 L70.25,445.28 L70.57,445.1 L70.89,444.9 L71.21,444.68 L71.53,444.46 L71.85,444.21 L72.17,443.95 L72.5,443.67 L72.82,443.38 L73.14,443.06 L73.46,442.72 L73.78,442.36 L74.1,441.97 L74.43,441.55 L74.75,441.11 L75.07,440.63 L75.39,440.13 L75.71,439.58 L76.03,439 L76.35,438.39 L76.68,437.72 L77,437.02 L77.32,436.26 L77.64,435.45 L77.96,434.59 L78.28,433.66 L78.61,432.67 L78.93,431.62 L79.25,430.49 L79.57,429.28 L79.89,427.99 L80.21,426.61 L80.54,425.14 L80.86,423.57 L81.18,421.88 L81.5,420.08 L81.82,418.16 L82.14,416.1 L82.46,413.9 L82.79,411.55 L83.11,409.04 L83.43,406.36 L83.75,403.49 L84.07,400.42 L84.39,397.14 L84.72,393.63 L85.04,389.89 L85.36,385.88 L85.68,381.6 L86,377.02 L86.32,372.13 L86.64,366.9 L86.97,361.31 L87.29,355.33 L87.61,348.95 L87.93,342.12 L88.25,334.82 L88.57,327.02 L88.9,318.68 L89.22,309.76 L89.54,300.23 L89.86,290.05 L90.18,291.1 L90.5,292.14 L90.82,293.18 L91.15,294.2 L91.47,295.23 L91.79,296.24 L92.11,297.25 L92.43,298.25 L92.75,299.25 L93.08,300.23 L93.4,301.22 L93.72,302.19 L94.04,303.16 L94.36,304.12 L94.68,305.08 L95,306.03 L95.33,306.97 L95.65,307.91 L95.97,308.84 L96.29,309.76 L96.61,310.68 L96.93,311.59 L97.26,312.5 L97.58,313.4 L97.9,314.3 L98.22,315.18 L98.54,316.07 L98.86,316.94 L99.18,317.81 L99.51,318.68 L99.83,319.54 L100.15,320.39 L100.47,321.24 L100.79,322.08 L101.11,322.92 L101.44,323.75 L101.76,324.57 L102.08,325.39 L102.4,326.21 L102.72,327.02 L103.04,327.82 L103.37,328.62 L103.69,329.41 L104.01,330.2 L104.33,330.98 L104.65,331.76 L104.97,332.53 L105.29,333.3 L105.62,334.06 L105.94,334.82 L106.26,335.57 L106.58,336.32 L106.9,337.06 L107.22,337.8 L107.55,338.53 L107.87,339.26 L108.19,339.98 L108.51,340.7 L108.83,341.41 L109.15,342.12 L109.47,342.82 L109.8,343.52 L110.12,344.21 L110.44,344.9 L110.76,345.59 L111.08,346.27 L111.4,346.95 L111.73,347.62 L112.05,348.28 L112.37,348.95 L112.69,349.6 L113.01,350.26 L113.33,350.91 L113.65,351.55 L113.98,352.19 L114.3,352.83 L114.62,353.46 L114.94,354.09 L115.26,354.71 L115.58,355.33 L115.91,355.95 L116.23,356.56 L116.55,357.17 L116.87,357.77 L117.19,358.37 L117.51,358.97 L117.83,359.56 L118.16,360.15 L118.48,360.73 L118.8,361.31 L119.12,361.89 L119.44,362.46 L119.76,363.03 L120.09,363.59 L120.41,364.15 L120.73,364.71 L121.05,365.26 L121.37,365.81 L121.69,366.36 L122.02,366.9 L122.34,367.44 L122.66,367.97 L122.98,368.51 L123.3,369.03 L123.62,369.56 L123.94,370.08 L124.27,370.6 L124.59,371.11 L124.91,371.62 L125.23,372.13 L125.55,372.63 L125.87,373.13 L126.2,373.63 L126.52,374.13 L126.84,374.62 L127.16,375.1 L127.48,375.59 L127.8,376.07 L128.12,376.55 L128.45,377.02 L128.77,377.49 L129.09,377.96 L129.41,378.43 L129.73,378.89 L130.05,379.35 L130.38,379.8 L130.7,380.26 L131.02,380.71 L131.34,381.16 L131.66,381.6 L131.98,382.04 L132.3,382.48 L132.63,382.91 L132.95,383.35 L133.27,383.78 L133.59,384.2 L133.91,384.63 L134.23,385.05 L134.56,385.47 L134.88,385.88 L135.2,386.29 L135.52,386.7 L135.84,387.11 L136.16,387.52 L136.48,387.92 L136.81,388.32 L137.13,388.71 L137.45,389.11 L137.77,389.5 L138.09,389.89 L138.41,390.27 L138.74,390.66 L139.06,391.04 L139.38,391.42 L139.7,391.79 L140.02,392.16 L140.34,392.54 L140.66,392.9 L140.99,393.27 L141.31,393.63 L141.63,393.99 L141.95,394.35 L142.27,394.71 L142.59,395.06 L142.92,395.42 L143.24,395.77 L143.56,396.11 L143.88,396.46 L144.2,396.8 L144.52,397.14 L144.85,397.48 L145.17,397.81 L145.49,398.15 L145.81,398.48 L146.13,398.81 L146.45,399.13 L146.77,399.46 L147.1,399.78 L147.42,400.1 L147.74,400.42 L148.06,400.73 L148.38,401.05 L148.7,401.36 L149.03,401.67 L149.35,401.98 L149.67,402.28 L149.99,402.59 L150.31,402.89 L150.63,403.19 L150.95,403.49 L151.28,403.78 L151.6,404.08 L151.92,404.37 L152.24,404.66 L152.56,404.95 L152.88,405.23 L153.21,405.52 L153.53,405.8 L153.85,406.08 L154.17,406.36 L154.49,406.63 L154.81,406.91 L155.13,407.18 L155.46,407.45 L155.78,407.72 L156.1,407.99 L156.42,408.26 L156.74,408.52 L157.06,408.78 L157.39,409.04 L157.71,409.3 L158.03,409.56 L158.35,409.81 L158.67,410.07 L158.99,410.32 L159.31,410.57 L159.64,410.82 L159.96,411.06 L160.28,411.31 L160.6,411.55 L160.92,411.8 L161.24,412.04 L161.57,412.28 L161.89,412.51 L162.21,412.75 L162.53,412.98 L162.85,413.22 L163.17,413.45 L163.49,413.68 L163.82,413.9 L164.14,414.13 L164.46,414.36 L164.78,414.58 L165.1,414.8 L165.42,415.02 L165.75,415.24 L166.07,415.46 L166.39,415.67 L166.71,415.89 L167.03,416.1 L167.35,416.31 L167.68,416.52 L168,416.73 L168.32,416.94 L168.64,417.15 L168.96,417.35 L169.28,417.56 L169.6,417.76 L169.93,417.96 L170.25,418.16 L170.57,418.36 L170.89,418.55 L171.21,418.75 L171.53,418.94 L171.86,419.14 L172.18,419.33 L172.5,419.52 L172.82,419.71 L173.14,419.9 L173.46,420.08 L173.78,420.27 L174.11,420.45 L174.43,420.64 L174.75,420.82 L175.07,421 L175.39,421.18 L175.71,421.36 L176.04,421.53 L176.36,421.71 L176.68,421.88 L177,422.06 L177.32,422.23 L177.64,422.4 L177.96,422.57 L178.29,422.74 L178.61,422.91 L178.93,423.07 L179.25,423.24 L179.57,423.4 L179.89,423.57 L180.22,423.73 L180.54,423.89 L180.86,424.05 L181.18,424.21 L181.5,424.37 L181.82,424.52 L182.14,424.68 L182.47,424.83 L182.79,424.99 L183.11,425.14 L183.43,425.29 L183.75,425.44 L184.07,425.59 L184.4,425.74 L184.72,425.89 L185.04,426.04 L185.36,426.18 L185.68,426.33 L186,426.47 L186.33,426.61 L186.65,426.76 L186.97,426.9 L187.29,427.04 L187.61,427.18 L187.93,427.32 L188.25,427.45 L188.58,427.59 L188.9,427.73 L189.22,427.86 L189.54,427.99 L189.86,428.13 L190.18,428.26 L190.51,428.39 L190.83,428.52 L191.15,428.65 L191.47,428.78 L191.79,428.91 L192.11,429.03 L192.43,429.16 L192.76,429.28 L193.08,429.41 L193.4,429.53 L193.72,429.65 L194.04,429.78 L194.36,429.9 L194.69,430.02 L195.01,430.14 L195.33,430.25 L195.65,430.37 L195.97,430.49 L196.29,430.61 L196.61,430.72 L196.94,430.84 L197.26,430.95 L197.58,431.06 L197.9,431.18 L198.22,431.29 L198.54,431.4 L198.87,431.51 L199.19,431.62 L199.51,431.73 L199.83,431.84 L200.15,431.94 L200.47,432.05 L200.79,432.15 L201.12,432.26 L201.44,432.36 L201.76,432.47 L202.08,432.57 L202.4,432.67 L202.72,432.78 L203.05,432.88 L203.37,432.98 L203.69,433.08 L204.01,433.18 L204.33,433.27 L204.65,433.37 L204.97,433.47 L205.3,433.57 L205.62,433.66 L205.94,433.76 L206.26,433.85 L206.58,433.95 L206.9,434.04 L207.23,434.13 L207.55,434.22 L207.87,434.32 L208.19,434.41 L208.51,434.5 L208.83,434.59 L209.16,434.67 L209.48,434.76 L209.8,434.85 L210.12,434.94 L210.44,435.03 L210.76,435.11 L211.08,435.2 L211.41,435.28 L211.73,435.37 L212.05,435.45 L212.37,435.53 L212.69,435.62 L213.01,435.7 L213.34,435.78 L213.66,435.86 L213.98,435.94 L214.3,436.02 L214.62,436.1 L214.94,436.18 L215.26,436.26 L215.59,436.34 L215.91,436.41 L216.23,436.49 L216.55,436.57 L216.87,436.64 L217.19,436.72 L217.52,436.79 L217.84,436.87 L218.16,436.94 L218.48,437.02 L218.8,437.09 L219.12,437.16 L219.44,437.23 L219.77,437.3 L220.09,437.38 L220.41,437.45 L220.73,437.52 L221.05,437.59 L221.37,437.65 L221.7,437.72 L222.02,437.79 L222.34,437.86 L222.66,437.93 L222.98,437.99 L223.3,438.06 L223.62,438.13 L223.95,438.19 L224.27,438.26 L224.59,438.32 L224.91,438.39 L225.23,438.45 L225.55,438.51 L225.88,438.58 L226.2,438.64 L226.52,438.7 L226.84,438.76 L227.16,438.82 L227.48,438.88 L227.8,438.94 L228.13,439 L228.45,439.06 L228.77,439.12 L229.09,439.18 L229.41,439.24 L229.73,439.3 L230.06,439.36 L230.38,439.41 L230.7,439.47 L231.02,439.53 L231.34,439.58 L231.66,439.64 L231.99,439.7 L232.31,439.75 L232.63,439.81 L232.95,439.86 L233.27,439.91 L233.59,439.97 L233.91,440.02 L234.24,440.07 L234.56,440.13 L234.88,440.18 L235.2,440.23 L235.52,440.28 L235.84,440.33 L236.17,440.38 L236.49,440.43 L236.81,440.49 L237.13,440.53 L237.45,440.58 L237.77,440.63 L238.09,440.68 L238.42,440.73 L238.74,440.78 L239.06,440.83 L239.38,440.87 L239.7,440.92 L240.02,440.97 L240.35,441.02 L240.67,441.06 L240.99,441.11 L241.31,441.15 L241.63,441.2 L241.95,441.24 L242.27,441.29 L242.6,441.33 L242.92,441.38 L243.24,441.42 L243.56,441.47 L243.88,441.51 L244.2,441.55 L244.53,441.59 L244.85,441.64 L245.17,441.68 L245.49,441.72 L245.81,441.76 L246.13,441.8 L246.45,441.85 L246.78,441.89 L247.1,441.93 L247.42,441.97 L247.74,442.01 L248.06,442.05 L248.38,442.09 L248.71,442.13 L249.03,442.16 L249.35,442.2 L249.67,442.24 L249.99,442.28 L250.31,442.32 L250.64,442.36 L250.96,442.39 L251.28,442.43 L251.6,442.47 L251.92,442.5 L252.24,442.54 L252.56,442.58 L252.89,442.61 L253.21,442.65 L253.53,442.68 L253.85,442.72 L254.17,442.75 L254.49,442.79 L254.82,442.82 L255.14,442.86 L255.46,442.89 L255.78,442.93 L256.1,442.96 L256.42,442.99 L256.74,443.03 L257.07,443.06 L257.39,443.09 L257.71,443.12 L258.03,443.16 L258.35,443.19 L258.67,443.22 L259,443.25 L259.32,443.28 L259.64,443.32 L259.96,443.35 L260.28,443.38 L260.6,443.41 L260.92,443.44 L261.25,443.47 L261.57,443.5 L261.89,443.53 L262.21,443.56 L262.53,443.59 L262.85,443.62 L263.18,443.65 L263.5,443.67 L263.82,443.7 L264.14,443.73 L264.46,443.76 L264.78,443.79 L265.1,443.82 L265.43,443.84 L265.75,443.87 L266.07,443.9 L266.39,443.93 L266.71,443.95 L267.03,443.98 L267.36,444.01 L267.68,444.03 L268,444.06 L268.32,444.09 L268.64,444.11 L268.96,444.14 L269.28,444.16 L269.61,444.19 L269.93,444.21 L270.25,444.24 L270.57,444.26 L270.89,444.29 L271.21,444.31 L271.54,444.34 L271.86,444.36 L272.18,444.39 L272.5,444.41 L272.82,444.43 L273.14,444.46 L273.47,444.48 L273.79,444.5 L274.11,444.53 L274.43,444.55 L274.75,444.57 L275.07,444.6 L275.39,444.62 L275.72,444.64 L276.04,444.66 L276.36,444.68 L276.68,444.71 L277,444.73 L277.32,444.75 L277.65,444.77 L277.97,444.79 L278.29,444.81 L278.61,444.84 L278.93,444.86 L279.25,444.88 L279.57,444.9 L279.9,444.92 L280.22,444.94 L280.54,444.96 L280.86,444.98 L281.18,445 L281.5,445.02 L281.83,445.04 L282.15,445.06 L282.47,445.08 L282.79,445.1 L283.11,445.12 L283.43,445.14 L283.75,445.15 L284.08,445.17 L284.4,445.19 L284.72,445.21 L285.04,445.23 L285.36,445.25 L285.68,445.27 L286.01,445.28 L286.33,445.3 L286.65,445.32 L286.97,445.34 L287.29,445.35 L287.61,445.37 L287.93,445.39 L288.26,445.41 L288.58,445.42 L288.9,445.44 L289.22,445.46 L289.54,445.48 L289.86,445.49 L290.19,445.51 L290.51,445.52 L290.83,445.54 L291.15,445.56 L291.47,445.57 L291.79,445.59 L292.11,445.61 L292.44,445.62 L292.76,445.64 L293.08,445.65 L293.4,445.67 L293.72,445.68 L294.04,445.7 L294.37,445.71 L294.69,445.73 L295.01,445.74 L295.33,445.76 L295.65,445.77 L295.97,445.79 L296.3,445.8 L296.62,445.82 L296.94,445.83 L297.26,445.85 L297.58,445.86 L297.9,445.88 L298.22,445.89 L298.55,445.9 L298.87,445.92 L299.19,445.93 L299.51,445.94 L299.83,445.96 L300.15,445.97 L300.48,445.99 L300.8,446 L301.12,446.01 L301.44,446.02 L301.76,446.04 L302.08,446.05 L302.4,446.06 L302.73,446.08 L303.05,446.09 L303.37,446.1 L303.69,446.11 L304.01,446.13 L304.33,446.14 L304.66,446.15 L304.98,446.16 L305.3,446.18 L305.62,446.19 L305.94,446.2 L306.26,446.21 L306.58,446.22 L306.91,446.24 L307.23,446.25 L307.55,446.26 L307.87,446.27 L308.19,446.28 L308.51,446.29 L308.84,446.3 L309.16,446.32 L309.48,446.33 L309.8,446.34 L310.12,446.35 L310.44,446.36 L310.76,446.37 L311.09,446.38 L311.41,446.39 L311.73,446.4 L312.05,446.41 L312.37,446.42 L312.69,446.43 L313.02,446.44 L313.34,446.45 L313.66,446.46 L313.98,446.47 L314.3,446.48 L314.62,446.49 L314.94,446.5 L315.27,446.51 L315.59,446.52 L315.91,446.53 L316.23,446.54 L316.55,446.55 L316.87,446.56 L317.2,446.57 L317.52,446.58 L317.84,446.59 L318.16,446.6 L318.48,446.61 L318.8,446.62 L319.13,446.63 L319.45,446.64 L319.77,446.65 L320.09,446.66 L320.41,446.66 L320.73,446.67 L321.05,446.68 L321.38,446.69 L321.7,446.7 L322.02,446.71 L322.34,446.72 L322.66,446.72 L322.98,446.73 L323.31,446.74 L323.63,446.75 L323.95,446.76 L324.27,446.77 L324.59,446.77 L324.91,446.78 L325.23,446.79 L325.56,446.8 L325.88,446.81 L326.2,446.81 L326.52,446.82 L326.84,446.83 L327.16,446.84 L327.49,446.84 L327.81,446.85 L328.13,446.86 L328.45,446.87 L328.77,446.87 L329.09,446.88 L329.41,446.89 L329.74,446.9 L330.06,446.9 L330.38,446.91 L330.7,446.92 L331.02,446.93 L331.34,446.93 L331.67,446.94 L331.99,446.95 L332.31,446.95 L332.63,446.96 L332.95,446.97 L333.27,446.97 L333.59,446.98 L333.92,446.99 L334.24,446.99 L334.56,447 L334.88,447.01 L335.2,447.01 L335.52,447.02 L335.85,447.03 L336.17,447.03 L336.49,447.04 L336.81,447.05 L337.13,447.05 L337.45,447.06 L337.78,447.06 L338.1,447.07 L338.42,447.08 L338.74,447.08 L339.06,447.09 L339.38,447.1 L339.7,447.1 L340.03,447.11 L340.35,447.11 L340.67,447.12 L340.99,447.12 L341.31,447.13 L341.63,447.14 L341.96,447.14 L342.28,447.15 L342.6,447.15 L342.92,447.16 L343.24,447.16 L343.56,447.17 L343.88,447.17 L344.21,447.18 L344.53,447.19 L344.85,447.19 L345.17,447.2 L345.49,447.2 L345.81,447.21 L346.14,447.21 L346.46,447.22 L346.78,447.22 L347.1,447.23" class="dot"/>
<path d="M122.02,406.93 L186.33,406.93" class="pk" stroke-dashoffset="5.42"/>
<path d="M122.02,406.93 L122.02,375.34 L122.34,375.34 L122.66,375.34 L122.98,375.35 L123.3,375.35 L123.62,375.36 L123.94,375.37 L124.27,375.38 L124.59,375.4 L124.91,375.42 L125.23,375.43 L125.55,375.45 L125.87,375.48 L126.2,375.5 L126.52,375.53 L126.84,375.56 L127.16,375.59 L127.48,375.62 L127.8,375.65 L128.12,375.69 L128.45,375.73 L128.77,375.77 L129.09,375.81 L129.41,375.85 L129.73,375.9 L130.05,375.94 L130.38,375.99 L130.7,376.04 L131.02,376.1 L131.34,376.15 L131.66,376.21 L131.98,376.27 L132.3,376.33 L132.63,376.39 L132.95,376.46 L133.27,376.52 L133.59,376.59 L133.91,376.66 L134.23,376.73 L134.56,376.81 L134.88,376.88 L135.2,376.96 L135.52,377.04 L135.84,377.12 L136.16,377.2 L136.48,377.29 L136.81,377.38 L137.13,377.46 L137.45,377.56 L137.77,377.65 L138.09,377.74 L138.41,377.84 L138.74,377.93 L139.06,378.03 L139.38,378.14 L139.7,378.24 L140.02,378.34 L140.34,378.45 L140.66,378.56 L140.99,378.67 L141.31,378.78 L141.63,378.89 L141.95,379.01 L142.27,379.13 L142.59,379.24 L142.92,379.36 L143.24,379.49 L143.56,379.61 L143.88,379.74 L144.2,379.86 L144.52,379.99 L144.85,380.12 L145.17,380.25 L145.49,380.39 L145.81,380.52 L146.13,380.66 L146.45,380.8 L146.77,380.94 L147.1,381.08 L147.42,381.22 L147.74,381.37 L148.06,381.52 L148.38,381.66 L148.7,381.81 L149.03,381.97 L149.35,382.12 L149.67,382.27 L149.99,382.43 L150.31,382.59 L150.63,382.74 L150.95,382.91 L151.28,383.07 L151.6,383.23 L151.92,383.4 L152.24,383.56 L152.56,383.73 L152.88,383.9 L153.21,384.07 L153.53,384.24 L153.85,384.41 L154.17,384.59 L154.49,384.76 L154.81,384.94 L155.13,385.12 L155.46,385.3 L155.78,385.48 L156.1,385.67 L156.42,385.85 L156.74,386.04 L157.06,386.22 L157.39,386.41 L157.71,386.6 L158.03,386.79 L158.35,386.98 L158.67,387.17 L158.99,387.37 L159.31,387.56 L159.64,387.76 L159.96,387.96 L160.28,388.16 L160.6,388.36 L160.92,388.56 L161.24,388.76 L161.57,388.97 L161.89,389.17 L162.21,389.38 L162.53,389.58 L162.85,389.79 L163.17,390 L163.49,390.21 L163.82,390.42 L164.14,390.63 L164.46,390.85 L164.78,391.06 L165.1,391.27 L165.42,391.49 L165.75,391.71 L166.07,391.93 L166.39,392.14 L166.71,392.36 L167.03,392.58 L167.35,392.81 L167.68,393.03 L168,393.25 L168.32,393.48 L168.64,393.7 L168.96,393.93 L169.28,394.15 L169.6,394.38 L169.93,394.61 L170.25,394.84 L170.57,395.07 L170.89,395.3 L171.21,395.53 L171.53,395.76 L171.86,395.99 L172.18,396.23 L172.5,396.46 L172.82,396.69 L173.14,396.93 L173.46,397.16 L173.78,397.4 L174.11,397.64 L174.43,397.87 L174.75,398.11 L175.07,398.35 L175.39,398.59 L175.71,398.83 L176.04,399.07 L176.36,399.31 L176.68,399.55 L177,399.79 L177.32,400.03 L177.64,400.28 L177.96,400.52 L178.29,400.76 L178.61,401.01 L178.93,401.25 L179.25,401.49 L179.57,401.74 L179.89,401.98 L180.22,402.23 L180.54,402.47 L180.86,402.72 L181.18,402.97 L181.5,403.21 L181.82,403.46 L182.14,403.71 L182.47,403.95 L182.79,404.2 L183.11,404.45 L183.43,404.69 L183.75,404.94 L184.07,405.19 L184.4,405.44 L184.72,405.69 L185.04,405.93 L185.36,406.18 L185.68,406.43 L186,406.68 L186.33,406.93" class="gr"/>
<path d="M25.55,406.93 L25.87,406.93 L26.19,406.93 L26.51,406.93 L26.84,406.93 L27.16,406.93 L27.48,406.93 L27.8,406.93 L28.12,406.93 L28.44,406.93 L28.77,406.93 L29.09,406.93 L29.41,406.93 L29.73,406.93 L30.05,406.93 L30.37,406.93 L30.69,406.93 L31.02,406.93 L31.34,406.93 L31.66,406.93 L31.98,406.93 L32.3,406.93 L32.62,406.93 L32.95,406.93 L33.27,406.93 L33.59,406.93 L33.91,406.93 L34.23,406.93 L34.55,406.93 L34.87,406.93 L35.2,406.93 L35.52,406.93 L35.84,406.93 L36.16,406.93 L36.48,406.93 L36.8,406.93 L37.13,406.93 L37.45,406.93 L37.77,406.93 L38.09,406.93 L38.41,406.93 L38.73,406.93 L39.06,406.93 L39.38,406.93 L39.7,406.93 L40.02,406.93 L40.34,406.93 L40.66,406.93 L40.98,406.93 L41.31,406.93 L41.63,406.93 L41.95,406.93 L42.27,406.93 L42.59,406.93 L42.91,406.93 L43.24,406.93 L43.56,406.93 L43.88,406.93 L44.2,406.93 L44.52,406.93 L44.84,406.93 L45.16,406.93 L45.49,406.93 L45.81,406.93 L46.13,406.93 L46.45,406.93 L46.77,406.93 L47.09,406.93 L47.42,406.93 L47.74,406.93 L48.06,406.93 L48.38,406.93 L48.7,406.93 L49.02,406.93 L49.34,406.93 L49.67,406.93 L49.99,406.93 L50.31,406.93 L50.63,406.93 L50.95,406.93 L51.27,406.93 L51.6,406.93 L51.92,406.93 L52.24,406.93 L52.56,406.93 L52.88,406.93 L53.2,406.93 L53.52,406.93 L53.85,406.93 L54.17,406.93 L54.49,406.93 L54.81,406.93 L55.13,406.93 L55.45,406.93 L55.78,406.93 L56.1,406.93 L56.42,406.93 L56.74,406.93 L57.06,406.93 L57.38,406.93 L57.7,406.93 L58.03,406.93 L58.35,406.93 L58.67,406.93 L58.99,406.93 L59.31,406.93 L59.63,406.93 L59.96,406.93 L60.28,406.93 L60.6,406.93 L60.92,406.93 L61.24,406.93 L61.56,406.93 L61.89,406.93 L62.21,406.93 L62.53,406.93 L62.85,406.93 L63.17,406.93 L63.49,406.93 L63.81,406.93 L64.14,406.93 L64.46,406.93 L64.78,406.93 L65.1,406.93 L65.42,406.93 L65.74,406.93 L66.07,406.93 L66.39,406.93 L66.71,406.93 L67.03,406.93 L67.35,406.93 L67.67,406.93 L67.99,406.93 L68.32,406.93 L68.64,406.93 L68.96,406.93 L69.28,406.93 L69.6,406.93 L69.92,406.93 L70.25,406.93 L70.57,406.93 L70.89,406.93 L71.21,406.93 L71.53,406.93 L71.85,406.93 L72.17,406.93 L72.5,406.93 L72.82,406.93 L73.14,406.93 L73.46,406.93 L73.78,406.93 L74.1,406.93 L74.43,406.93 L74.75,406.93 L75.07,406.93 L75.39,406.93 L75.71,406.93 L76.03,406.93 L76.35,406.93 L76.68,406.93 L77,406.93 L77.32,406.93 L77.64,406.93 L77.96,406.93 L78.28,406.93 L78.61,406.93 L78.93,406.93 L79.25,406.93 L79.57,406.93 L79.89,406.93 L80.21,406.93 L80.54,406.93 L80.86,406.93 L81.18,406.93 L81.5,406.93 L81.82,406.93 L82.14,406.93 L82.46,406.93 L82.79,406.93 L83.11,406.93 L83.43,406.93 L83.75,406.93 L84.07,406.93 L84.39,406.93 L84.72,406.93 L85.04,406.93 L85.36,406.93 L85.68,406.93 L86,406.93 L86.32,406.93 L86.64,406.93 L86.97,406.93 L87.29,406.93 L87.61,406.93 L87.93,406.93 L88.25,406.93 L88.57,406.93 L88.9,406.93 L89.22,406.93 L89.54,406.93 L89.86,406.93 L90.18,406.93 L90.5,406.93 L90.82,406.93 L91.15,406.93 L91.47,406.93 L91.79,406.93 L92.11,406.93 L92.43,406.93 L92.75,406.93 L93.08,406.93 L93.4,406.93 L93.72,406.93 L94.04,406.93 L94.36,406.93 L94.68,406.93 L95,406.93 L95.33,406.93 L95.65,406.93 L95.97,406.93 L96.29,406.93 L96.61,406.93 L96.93,406.93 L97.26,406.93 L97.58,406.93 L97.9,406.93 L98.22,406.93 L98.54,406.93 L98.86,406.93 L99.18,406.93 L99.51,406.93 L99.83,406.93 L100.15,406.93 L100.47,406.93 L100.79,406.93 L101.11,406.93 L101.44,406.93 L101.76,406.93 L102.08,406.93 L102.4,406.93 L102.72,406.93 L103.04,406.93 L103.37,406.93 L103.69,406.93 L104.01,406.93 L104.33,406.93 L104.65,406.93 L104.97,406.93 L105.29,406.93 L105.62,406.93 L105.94,406.93 L106.26,406.93 L106.58,406.93 L106.9,406.93 L107.22,406.93 L107.55,406.93 L107.87,406.93 L108.19,406.93 L108.51,406.93 L108.83,406.93 L109.15,406.93 L109.47,406.93 L109.8,406.93 L110.12,406.93 L110.44,406.93 L110.76,406.93 L111.08,406.93 L111.4,406.93 L111.73,406.93 L112.05,406.93 L112.37,406.93 L112.69,406.93 L113.01,406.93 L113.33,406.93 L113.65,406.93 L113.98,406.93 L114.3,406.93 L114.62,406.93 L114.94,406.93 L115.26,406.93 L115.58,406.93 L115.91,406.93 L116.23,406.93 L116.55,406.93 L116.87,406.93 L117.19,406.93 L117.51,406.93 L117.83,406.93 L118.16,406.93 L118.48,406.93 L118.8,406.93 L119.12,406.93 L119.44,406.93 L119.76,406.93 L120.09,406.93 L120.41,406.93 L120.73,406.93 L121.05,406.93 L121.37,406.93 L121.69,406.93 L122.02,406.93 L122.34,406.84 L122.66,406.58 L122.98,406.15 L123.3,405.56 L123.62,404.81 L123.94,403.91 L124.27,402.87 L124.59,401.71 L124.91,400.43 L125.23,399.05 L125.55,397.59 L125.87,396.06 L126.2,394.48 L126.52,392.87 L126.84,391.24 L127.16,389.62 L127.48,388.02 L127.8,386.46 L128.12,384.95 L128.45,383.53 L128.77,382.19 L129.09,380.96 L129.41,379.84 L129.73,378.86 L130.05,378.02 L130.38,377.33 L130.7,376.8 L131.02,376.43 L131.34,376.24 L131.66,376.21 L131.98,376.35 L132.3,376.66 L132.63,377.14 L132.95,377.77 L133.27,378.56 L133.59,379.49 L133.91,380.55 L134.23,381.73 L134.56,383.01 L134.88,384.39 L135.2,385.85 L135.52,387.37 L135.84,388.92 L136.16,390.51 L136.48,392.11 L136.81,393.69 L137.13,395.26 L137.45,396.78 L137.77,398.24 L138.09,399.63 L138.41,400.93 L138.74,402.13 L139.06,403.21 L139.38,404.18 L139.7,405 L140.02,405.69 L140.34,406.23 L140.66,406.62 L140.99,406.85 L141.31,406.93 L141.63,406.85 L141.95,406.62 L142.27,406.24 L142.59,405.73 L142.92,405.08 L143.24,404.31 L143.56,403.42 L143.88,402.43 L144.2,401.35 L144.52,400.19 L144.85,398.97 L145.17,397.71 L145.49,396.42 L145.81,395.1 L146.13,393.79 L146.45,392.5 L146.77,391.23 L147.1,390.01 L147.42,388.85 L147.74,387.76 L148.06,386.75 L148.38,385.84 L148.7,385.04 L149.03,384.35 L149.35,383.78 L149.67,383.34 L149.99,383.03 L150.31,382.85 L150.63,382.81 L150.95,382.91 L151.28,383.13 L151.6,383.49 L151.92,383.97 L152.24,384.57 L152.56,385.28 L152.88,386.1 L153.21,387 L153.53,387.99 L153.85,389.05 L154.17,390.17 L154.49,391.34 L154.81,392.54 L155.13,393.76 L155.46,394.98 L155.78,396.2 L156.1,397.41 L156.42,398.58 L156.74,399.71 L157.06,400.78 L157.39,401.8 L157.71,402.74 L158.03,403.59 L158.35,404.36 L158.67,405.04 L158.99,405.62 L159.31,406.09 L159.64,406.46 L159.96,406.72 L160.28,406.87 L160.6,406.93 L160.92,406.87 L161.24,406.73 L161.57,406.49 L161.89,406.16 L162.21,405.75 L162.53,405.27 L162.85,404.72 L163.17,404.13 L163.49,403.48 L163.82,402.8 L164.14,402.09 L164.46,401.37 L164.78,400.64 L165.1,399.92 L165.42,399.21 L165.75,398.52 L166.07,397.87 L166.39,397.25 L166.71,396.68 L167.03,396.17 L167.35,395.72 L167.68,395.33 L168,395.01 L168.32,394.76 L168.64,394.59 L168.96,394.49 L169.28,394.47 L169.6,394.52 L169.93,394.64 L170.25,394.84 L170.57,395.1 L170.89,395.42 L171.21,395.81 L171.53,396.24 L171.86,396.72 L172.18,397.25 L172.5,397.8 L172.82,398.39 L173.14,398.99 L173.46,399.6 L173.78,400.23 L174.11,400.85 L174.43,401.46 L174.75,402.06 L175.07,402.64 L175.39,403.19 L175.71,403.72 L176.04,404.21 L176.36,404.67 L176.68,405.08 L177,405.46 L177.32,405.79 L177.64,406.07 L177.96,406.31 L178.29,406.51 L178.61,406.67 L178.93,406.79 L179.25,406.87 L179.57,406.91 L179.89,406.93 L180.22,406.91 L180.54,406.88 L180.86,406.82 L181.18,406.75 L181.5,406.68 L181.82,406.59 L182.14,406.51 L182.47,406.43 L182.79,406.36 L183.11,406.31 L183.43,406.26 L183.75,406.24 L184.07,406.24 L184.4,406.26 L184.72,406.31 L185.04,406.38 L185.36,406.48 L185.68,406.6 L186,406.75 L186.33,406.93 L186.65,406.93 L186.97,406.93 L187.29,406.93 L187.61,406.93 L187.93,406.93 L188.25,406.93 L188.58,406.93 L188.9,406.93 L189.22,406.93 L189.54,406.93 L189.86,406.93 L190.18,406.93 L190.51,406.93 L190.83,406.93 L191.15,406.93 L191.47,406.93 L191.79,406.93 L192.11,406.93 L192.43,406.93 L192.76,406.93 L193.08,406.93 L193.4,406.93 L193.72,406.93 L194.04,406.93 L194.36,406.93 L194.69,406.93 L195.01,406.93 L195.33,406.93 L195.65,406.93 L195.97,406.93 L196.29,406.93 L196.61,406.93 L196.94,406.93 L197.26,406.93 L197.58,406.93 L197.9,406.93 L198.22,406.93 L198.54,406.93 L198.87,406.93 L199.19,406.93 L199.51,406.93 L199.83,406.93 L200.15,406.93 L200.47,406.93 L200.79,406.93 L201.12,406.93 L201.44,406.93 L201.76,406.93 L202.08,406.93 L202.4,406.93 L202.72,406.93 L203.05,406.93 L203.37,406.93 L203.69,406.93 L204.01,406.93 L204.33,406.93 L204.65,406.93 L204.97,406.93 L205.3,406.93 L205.62,406.93 L205.94,406.93 L206.26,406.93 L206.58,406.93 L206.9,406.93 L207.23,406.93 L207.55,406.93 L207.87,406.93 L208.19,406.93 L208.51,406.93 L208.83,406.93 L209.16,406.93 L209.48,406.93 L209.8,406.93 L210.12,406.93 L210.44,406.93 L210.76,406.93 L211.08,406.93 L211.41,406.93 L211.73,406.93 L212.05,406.93 L212.37,406.93 L212.69,406.93 L213.01,406.93 L213.34,406.93 L213.66,406.93 L213.98,406.93 L214.3,406.93 L214.62,406.93 L214.94,406.93 L215.26,406.93 L215.59,406.93 L215.91,406.93 L216.23,406.93 L216.55,406.93 L216.87,406.93 L217.19,406.93 L217.52,406.93 L217.84,406.93 L218.16,406.93 L218.48,406.93 L218.8,406.93 L219.12,406.93 L219.44,406.93 L219.77,406.93 L220.09,406.93 L220.41,406.93 L220.73,406.93 L221.05,406.93 L221.37,406.93 L221.7,406.93 L222.02,406.93 L222.34,406.93 L222.66,406.93 L222.98,406.93 L223.3,406.93 L223.62,406.93 L223.95,406.93 L224.27,406.93 L224.59,406.93 L224.91,406.93 L225.23,406.93 L225.55,406.93 L225.88,406.93 L226.2,406.93 L226.52,406.93 L226.84,406.93 L227.16,406.93 L227.48,406.93 L227.8,406.93 L228.13,406.93 L228.45,406.93 L228.77,406.93 L229.09,406.93 L229.41,406.93 L229.73,406.93 L230.06,406.93 L230.38,406.93 L230.7,406.93 L231.02,406.93 L231.34,406.93 L231.66,406.93 L231.99,406.93 L232.31,406.93 L232.63,406.93 L232.95,406.93 L233.27,406.93 L233.59,406.93 L233.91,406.93 L234.24,406.93 L234.56,406.93 L234.88,406.93 L235.2,406.93 L235.52,406.93 L235.84,406.93 L236.17,406.93 L236.49,406.93 L236.81,406.93 L237.13,406.93 L237.45,406.93 L237.77,406.93 L238.09,406.93 L238.42,406.93 L238.74,406.93 L239.06,406.93 L239.38,406.93 L239.7,406.93 L240.02,406.93 L240.35,406.93 L240.67,406.93 L240.99,406.93 L241.31,406.93 L241.63,406.93 L241.95,406.93 L242.27,406.93 L242.6,406.93 L242.92,406.93 L243.24,406.93 L243.56,406.93 L243.88,406.93 L244.2,406.93 L244.53,406.93 L244.85,406.93 L245.17,406.93 L245.49,406.93 L245.81,406.93 L246.13,406.93 L246.45,406.93 L246.78,406.93 L247.1,406.93 L247.42,406.93 L247.74,406.93 L248.06,406.93 L248.38,406.93 L248.71,406.93 L249.03,406.93 L249.35,406.93 L249.67,406.93 L249.99,406.93 L250.31,406.93 L250.64,406.93 L250.96,406.93 L251.28,406.93 L251.6,406.93 L251.92,406.93 L252.24,406.93 L252.56,406.93 L252.89,406.93 L253.21,406.93 L253.53,406.93 L253.85,406.93 L254.17,406.93 L254.49,406.93 L254.82,406.93 L255.14,406.93 L255.46,406.93 L255.78,406.93 L256.1,406.93 L256.42,406.93 L256.74,406.93 L257.07,406.93 L257.39,406.93 L257.71,406.93 L258.03,406.93 L258.35,406.93 L258.67,406.93 L259,406.93 L259.32,406.93 L259.64,406.93 L259.96,406.93 L260.28,406.93 L260.6,406.93 L260.92,406.93 L261.25,406.93 L261.57,406.93 L261.89,406.93 L262.21,406.93 L262.53,406.93 L262.85,406.93 L263.18,406.93 L263.5,406.93 L263.82,406.93 L264.14,406.93 L264.46,406.93 L264.78,406.93 L265.1,406.93 L265.43,406.93 L265.75,406.93 L266.07,406.93 L266.39,406.93 L266.71,406.93 L267.03,406.93 L267.36,406.93 L267.68,406.93 L268,406.93 L268.32,406.93 L268.64,406.93 L268.96,406.93 L269.28,406.93 L269.61,406.93 L269.93,406.93 L270.25,406.93 L270.57,406.93 L270.89,406.93 L271.21,406.93 L271.54,406.93 L271.86,406.93 L272.18,406.93 L272.5,406.93 L272.82,406.93 L273.14,406.93 L273.47,406.93 L273.79,406.93 L274.11,406.93 L274.43,406.93 L274.75,406.93 L275.07,406.93 L275.39,406.93 L275.72,406.93 L276.04,406.93 L276.36,406.93 L276.68,406.93 L277,406.93 L277.32,406.93 L277.65,406.93 L277.97,406.93 L278.29,406.93 L278.61,406.93 L278.93,406.93 L279.25,406.93 L279.57,406.93 L279.9,406.93 L280.22,406.93 L280.54,406.93 L280.86,406.93 L281.18,406.93 L281.5,406.93 L281.83,406.93 L282.15,406.93 L282.47,406.93 L282.79,406.93 L283.11,406.93 L283.43,406.93 L283.75,406.93 L284.08,406.93 L284.4,406.93 L284.72,406.93 L285.04,406.93 L285.36,406.93 L285.68,406.93 L286.01,406.93 L286.33,406.93 L286.65,406.93 L286.97,406.93 L287.29,406.93 L287.61,406.93 L287.93,406.93 L288.26,406.93 L288.58,406.93 L288.9,406.93 L289.22,406.93 L289.54,406.93 L289.86,406.93 L290.19,406.93 L290.51,406.93 L290.83,406.93 L291.15,406.93 L291.47,406.93 L291.79,406.93 L292.11,406.93 L292.44,406.93 L292.76,406.93 L293.08,406.93 L293.4,406.93 L293.72,406.93 L294.04,406.93 L294.37,406.93 L294.69,406.93 L295.01,406.93 L295.33,406.93 L295.65,406.93 L295.97,406.93 L296.3,406.93 L296.62,406.93 L296.94,406.93 L297.26,406.93 L297.58,406.93 L297.9,406.93 L298.22,406.93 L298.55,406.93 L298.87,406.93 L299.19,406.93 L299.51,406.93 L299.83,406.93 L300.15,406.93 L300.48,406.93 L300.8,406.93 L301.12,406.93 L301.44,406.93 L301.76,406.93 L302.08,406.93 L302.4,406.93 L302.73,406.93 L303.05,406.93 L303.37,406.93 L303.69,406.93 L304.01,406.93 L304.33,406.93 L304.66,406.93 L304.98,406.93 L305.3,406.93 L305.62,406.93 L305.94,406.93 L306.26,406.93 L306.58,406.93 L306.91,406.93 L307.23,406.93 L307.55,406.93 L307.87,406.93 L308.19,406.93 L308.51,406.93 L308.84,406.93 L309.16,406.93 L309.48,406.93 L309.8,406.93 L310.12,406.93 L310.44,406.93 L310.76,406.93 L311.09,406.93 L311.41,406.93 L311.73,406.93 L312.05,406.93 L312.37,406.93 L312.69,406.93 L313.02,406.93 L313.34,406.93 L313.66,406.93 L313.98,406.93 L314.3,406.93 L314.62,406.93 L314.94,406.93 L315.27,406.93 L315.59,406.93 L315.91,406.93 L316.23,406.93 L316.55,406.93 L316.87,406.93 L317.2,406.93 L317.52,406.93 L317.84,406.93 L318.16,406.93 L318.48,406.93 L318.8,406.93 L319.13,406.93 L319.45,406.93 L319.77,406.93 L320.09,406.93 L320.41,406.93 L320.73,406.93 L321.05,406.93 L321.38,406.93 L321.7,406.93 L322.02,406.93 L322.34,406.93 L322.66,406.93 L322.98,406.93 L323.31,406.93 L323.63,406.93 L323.95,406.93 L324.27,406.93 L324.59,406.93 L324.91,406.93 L325.23,406.93 L325.56,406.93 L325.88,406.93 L326.2,406.93 L326.52,406.93 L326.84,406.93 L327.16,406.93 L327.49,406.93 L327.81,406.93 L328.13,406.93 L328.45,406.93 L328.77,406.93 L329.09,406.93 L329.41,406.93 L329.74,406.93 L330.06,406.93 L330.38,406.93 L330.7,406.93 L331.02,406.93 L331.34,406.93 L331.67,406.93 L331.99,406.93 L332.31,406.93 L332.63,406.93 L332.95,406.93 L333.27,406.93 L333.59,406.93 L333.92,406.93 L334.24,406.93 L334.56,406.93 L334.88,406.93 L335.2,406.93 L335.52,406.93 L335.85,406.93 L336.17,406.93 L336.49,406.93 L336.81,406.93 L337.13,406.93 L337.45,406.93 L337.78,406.93 L338.1,406.93 L338.42,406.93 L338.74,406.93 L339.06,406.93 L339.38,406.93 L339.7,406.93 L340.03,406.93 L340.35,406.93 L340.67,406.93 L340.99,406.93 L341.31,406.93 L341.63,406.93 L341.96,406.93 L342.28,406.93 L342.6,406.93 L342.92,406.93 L343.24,406.93 L343.56,406.93 L343.88,406.93 L344.21,406.93 L344.53,406.93 L344.85,406.93 L345.17,406.93 L345.49,406.93 L345.81,406.93 L346.14,406.93 L346.46,406.93 L346.78,406.93 L347.1,406.93" class="r"/>
<path d="M25.5,444.83h3.2M347.2,444.83h-3.2M25.5,441.67h3.2M347.2,441.67h-3.2M25.5,438.51h3.2M347.2,438.51h-3.2M25.5,435.35h3.2M347.2,435.35h-3.2M25.5,432.2h3.2M347.2,432.2h-3.2M25.5,429.04h3.2M347.2,429.04h-3.2M25.5,425.88h3.2M347.2,425.88h-3.2M25.5,422.72h3.2M347.2,422.72h-3.2M25.5,419.56h3.2M347.2,419.56h-3.2M25.5,416.4h6.4M347.2,416.4h-6.4M25.5,413.24h3.2M347.2,413.24h-3.2M25.5,410.08h3.2M347.2,410.08h-3.2M25.5,406.93h3.2M347.2,406.93h-3.2M25.5,403.77h3.2M347.2,403.77h-3.2M25.5,400.61h3.2M347.2,400.61h-3.2M25.5,397.45h3.2M347.2,397.45h-3.2M25.5,394.29h3.2M347.2,394.29h-3.2M25.5,391.13h3.2M347.2,391.13h-3.2M25.5,387.97h3.2M347.2,387.97h-3.2M25.5,384.81h6.4M347.2,384.81h-6.4M25.5,381.65h3.2M347.2,381.65h-3.2M25.5,378.5h3.2M347.2,378.5h-3.2M25.5,375.34h3.2M347.2,375.34h-3.2M25.5,372.18h3.2M347.2,372.18h-3.2M25.5,369.02h3.2M347.2,369.02h-3.2M25.5,365.86h3.2M347.2,365.86h-3.2M25.5,362.7h3.2M347.2,362.7h-3.2M25.5,359.54h3.2M347.2,359.54h-3.2M25.5,356.38h3.2M347.2,356.38h-3.2M25.5,353.23h6.4M347.2,353.23h-6.4M25.5,350.07h3.2M347.2,350.07h-3.2M25.5,346.91h3.2M347.2,346.91h-3.2M25.5,343.75h3.2M347.2,343.75h-3.2M25.5,340.59h3.2M347.2,340.59h-3.2M25.5,337.43h3.2M347.2,337.43h-3.2M25.5,334.27h3.2M347.2,334.27h-3.2M25.5,331.11h3.2M347.2,331.11h-3.2M25.5,327.95h3.2M347.2,327.95h-3.2M25.5,324.8h3.2M347.2,324.8h-3.2M25.5,321.64h6.4M347.2,321.64h-6.4M25.5,318.48h3.2M347.2,318.48h-3.2M25.5,315.32h3.2M347.2,315.32h-3.2M25.5,312.16h3.2M347.2,312.16h-3.2M25.5,309h3.2M347.2,309h-3.2M25.5,305.84h3.2M347.2,305.84h-3.2M25.5,302.68h3.2M347.2,302.68h-3.2M25.5,299.52h3.2M347.2,299.52h-3.2M25.5,296.37h3.2M347.2,296.37h-3.2M25.5,293.21h3.2M347.2,293.21h-3.2M25.5,290.05h6.4M347.2,290.05h-6.4M25.5,286.89h3.2M347.2,286.89h-3.2M25.5,283.73h3.2M347.2,283.73h-3.2M25.5,280.57h3.2M347.2,280.57h-3.2M25.5,277.41h3.2M347.2,277.41h-3.2M25.5,274.25h3.2M347.2,274.25h-3.2M25.5,271.1h3.2M347.2,271.1h-3.2M25.5,267.94h3.2M347.2,267.94h-3.2M25.5,264.78h3.2M347.2,264.78h-3.2M25.5,261.62h3.2M347.2,261.62h-3.2M31.98,447.7v-1.9M31.98,258.4v1.9M38.41,447.7v-1.9M38.41,258.4v1.9M44.84,447.7v-1.9M44.84,258.4v1.9M51.27,447.7v-1.9M51.27,258.4v1.9M57.7,447.7v-1.9M57.7,258.4v1.9M64.14,447.7v-1.9M64.14,258.4v1.9M70.57,447.7v-1.9M70.57,258.4v1.9M77,447.7v-1.9M77,258.4v1.9M83.43,447.7v-1.9M83.43,258.4v1.9M89.86,447.7v-3.8M89.86,258.4v3.8M96.29,447.7v-1.9M96.29,258.4v1.9M102.72,447.7v-1.9M102.72,258.4v1.9M109.15,447.7v-1.9M109.15,258.4v1.9M115.58,447.7v-1.9M115.58,258.4v1.9M122.02,447.7v-1.9M122.02,258.4v1.9M128.45,447.7v-1.9M128.45,258.4v1.9M134.88,447.7v-1.9M134.88,258.4v1.9M141.31,447.7v-1.9M141.31,258.4v1.9M147.74,447.7v-1.9M147.74,258.4v1.9M154.17,447.7v-3.8M154.17,258.4v3.8M160.6,447.7v-1.9M160.6,258.4v1.9M167.03,447.7v-1.9M167.03,258.4v1.9M173.46,447.7v-1.9M173.46,258.4v1.9M179.89,447.7v-1.9M179.89,258.4v1.9M186.33,447.7v-1.9M186.33,258.4v1.9M192.76,447.7v-1.9M192.76,258.4v1.9M199.19,447.7v-1.9M199.19,258.4v1.9M205.62,447.7v-1.9M205.62,258.4v1.9M212.05,447.7v-1.9M212.05,258.4v1.9M218.48,447.7v-3.8M218.48,258.4v3.8M224.91,447.7v-1.9M224.91,258.4v1.9M231.34,447.7v-1.9M231.34,258.4v1.9M237.77,447.7v-1.9M237.77,258.4v1.9M244.2,447.7v-1.9M244.2,258.4v1.9M250.64,447.7v-1.9M250.64,258.4v1.9M257.07,447.7v-1.9M257.07,258.4v1.9M263.5,447.7v-1.9M263.5,258.4v1.9M269.93,447.7v-1.9M269.93,258.4v1.9M276.36,447.7v-1.9M276.36,258.4v1.9M282.79,447.7v-3.8M282.79,258.4v3.8M289.22,447.7v-1.9M289.22,258.4v1.9M295.65,447.7v-1.9M295.65,258.4v1.9M302.08,447.7v-1.9M302.08,258.4v1.9M308.51,447.7v-1.9M308.51,258.4v1.9M314.94,447.7v-1.9M314.94,258.4v1.9M321.38,447.7v-1.9M321.38,258.4v1.9M327.81,447.7v-1.9M327.81,258.4v1.9M334.24,447.7v-1.9M334.24,258.4v1.9M340.67,447.7v-1.9M340.67,258.4v1.9" class="tk"/>
<text x="23.2" y="448.35" class="tl" text-anchor="end">0</text>
<text x="23.2" y="419.3" class="tl" text-anchor="end">10</text>
<text x="23.2" y="387.75" class="tl" text-anchor="end">20</text>
<text x="23.2" y="356.2" class="tl" text-anchor="end">30</text>
<text x="23.2" y="324.65" class="tl" text-anchor="end">40</text>
<text x="23.2" y="293.1" class="tl" text-anchor="end">50</text>
<text x="23.2" y="263.1" class="tl" text-anchor="end">60</text>
<text x="25.5" y="459" class="tl" text-anchor="middle">0</text>
<text x="89.84" y="459" class="tl" text-anchor="middle">100</text>
<text x="154.18" y="459" class="tl" text-anchor="middle">200</text>
<text x="218.52" y="459" class="tl" text-anchor="middle">300</text>
<text x="282.86" y="459" class="tl" text-anchor="middle">400</text>
<text x="347.2" y="459" class="tl" text-anchor="middle">500</text>
<text x="186.35" y="469" class="tl" text-anchor="middle">time (mins)</text>
<text transform="translate(7.1,353.45) rotate(-90)" class="tl" text-anchor="middle">flux</text>
<text x="186.35" y="254.1" class="tt" text-anchor="middle">Exponential flare profile, Type P QPP, Cosine envelope</text>
<rect x="25.5" y="504.6" width="321.7" height="189.4" class="ax"/>
<path d="M56.1,684.51 L56.42,684.41 L56.74,684.32 L57.06,684.23 L57.38,684.14 L57.7,684.05 L58.03,683.96 L58.35,683.87 L58.67,683.78 L58.99,683.69 L59.31,683.6 L59.63,683.51 L59.96,683.42 L60.28,683.34 L60.6,683.25 L60.92,683.16 L61.24,683.07 L61.56,682.98 L61.89,682.89 L62.21,682.81 L62.53,682.72 L62.85,682.63 L63.17,682.54 L63.49,682.46 L63.81,682.37 L64.14,682.28 L64.46,682.2 L64.78,682.11 L65.1,682.02 L65.42,681.94 L65.74,681.85 L66.07,681.77 L66.39,681.68 L66.71,681.6 L67.03,681.51 L67.35,681.43 L67.67,681.34 L67.99,681.26 L68.32,681.17 L68.64,681.09 L68.96,681.01 L69.28,680.92 L69.6,680.84 L69.92,680.75 L70.25,680.67 L70.57,680.59 L70.89,680.51 L71.21,680.42 L71.53,680.34 L71.85,680.26 L72.17,680.18 L72.5,680.09 L72.82,680.01 L73.14,679.93 L73.46,679.85 L73.78,679.77 L74.1,679.69 L74.43,679.61 L74.75,679.53 L75.07,679.45 L75.39,679.37 L75.71,679.29 L76.03,679.21 L76.35,679.13 L76.68,679.05 L77,678.97 L77.32,678.89 L77.64,678.81 L77.96,678.73 L78.28,678.65 L78.61,678.57 L78.93,678.5 L79.25,678.42 L79.57,678.34 L79.89,678.26 L80.21,678.18 L80.54,678.11 L80.86,678.03 L81.18,677.95 L81.5,677.88 L81.82,677.8 L82.14,677.72 L82.46,677.65 L82.79,677.57 L83.11,677.5 L83.43,677.42 L83.75,677.34 L84.07,677.27 L84.39,677.19 L84.72,677.12 L85.04,677.04 L85.36,676.97 L85.68,676.9 L86,676.82 L86.32,676.75 L86.64,676.67 L86.97,676.6 L87.29,676.53 L87.61,676.45 L87.93,676.38 L88.25,676.31 L88.57,676.24 L88.9,676.16 L89.22,676.09 L89.54,676.02 L89.86,675.95 L90.18,675.87 L90.5,675.8 L90.82,675.73 L91.15,675.66 L91.47,675.59 L91.79,675.52 L92.11,675.45 L92.43,675.38 L92.75,675.31 L93.08,675.24 L93.4,675.17 L93.72,675.1 L94.04,675.03 L94.36,674.96 L94.68,674.89 L95,674.82 L95.33,674.75 L95.65,674.68 L95.97,674.61 L96.29,674.55 L96.61,674.48 L96.93,674.41 L97.26,674.34 L97.58,674.27 L97.9,674.21 L98.22,674.14 L98.54,674.07 L98.86,674.01 L99.18,673.94 L99.51,673.87 L99.83,673.81 L100.15,673.74 L100.47,673.68 L100.79,673.61 L101.11,673.54 L101.44,673.48 L101.76,673.41 L102.08,673.35 L102.4,673.28 L102.72,673.22 L103.04,673.16 L103.37,673.09 L103.69,673.03 L104.01,672.96 L104.33,672.9 L104.65,672.84 L104.97,672.77 L105.29,672.71 L105.62,672.65 L105.94,672.58 L106.26,672.52 L106.58,672.46 L106.9,672.4 L107.22,672.34 L107.55,672.27 L107.87,672.21 L108.19,672.15 L108.51,672.09 L108.83,672.03 L109.15,671.97 L109.47,671.91 L109.8,671.85 L110.12,671.79 L110.44,671.73 L110.76,671.67 L111.08,671.61 L111.4,671.55 L111.73,671.49 L112.05,671.43 L112.37,671.37 L112.69,671.31 L113.01,671.25 L113.33,671.19 L113.65,671.13 L113.98,671.08 L114.3,671.02 L114.62,670.96 L114.94,670.9 L115.26,670.85 L115.58,670.79 L115.91,670.73 L116.23,670.67 L116.55,670.62 L116.87,670.56 L117.19,670.5 L117.51,670.45 L117.83,670.39 L118.16,670.34 L118.48,670.28 L118.8,670.23 L119.12,670.17 L119.44,670.12 L119.76,670.06 L120.09,670.01 L120.41,669.95 L120.73,669.9 L121.05,669.84 L121.37,669.79 L121.69,669.74 L122.02,669.68 L122.34,669.63 L122.66,669.58 L122.98,669.52 L123.3,669.47 L123.62,669.42 L123.94,669.37 L124.27,669.31 L124.59,669.26 L124.91,669.21 L125.23,669.16 L125.55,669.11 L125.87,669.05 L126.2,669 L126.52,668.95 L126.84,668.9 L127.16,668.85 L127.48,668.8 L127.8,668.75 L128.12,668.7 L128.45,668.65 L128.77,668.6 L129.09,668.55 L129.41,668.5 L129.73,668.45 L130.05,668.4 L130.38,668.36 L130.7,668.31 L131.02,668.26 L131.34,668.21 L131.66,668.16 L131.98,668.12 L132.3,668.07 L132.63,668.02 L132.95,667.97 L133.27,667.93 L133.59,667.88 L133.91,667.83 L134.23,667.79 L134.56,667.74 L134.88,667.69 L135.2,667.65 L135.52,667.6 L135.84,667.56 L136.16,667.51 L136.48,667.47 L136.81,667.42 L137.13,667.38 L137.45,667.33 L137.77,667.29 L138.09,667.24 L138.41,667.2 L138.74,667.15 L139.06,667.11 L139.38,667.07 L139.7,667.02 L140.02,666.98 L140.34,666.94 L140.66,666.89 L140.99,666.85 L141.31,666.81 L141.63,666.77 L141.95,666.72 L142.27,666.68 L142.59,666.64 L142.92,666.6 L143.24,666.56 L143.56,666.52 L143.88,666.48 L144.2,666.43 L144.52,666.39 L144.85,666.35 L145.17,666.31 L145.49,666.27 L145.81,666.23 L146.13,666.19 L146.45,666.15 L146.77,666.12 L147.1,666.08 L147.42,666.04 L147.74,666 L148.06,665.96 L148.38,665.92 L148.7,665.88 L149.03,665.84 L149.35,665.81 L149.67,665.77 L149.99,665.73 L150.31,665.69 L150.63,665.66 L150.95,665.62 L151.28,665.58 L151.6,665.55 L151.92,665.51 L152.24,665.47 L152.56,665.44 L152.88,665.4 L153.21,665.37 L153.53,665.33 L153.85,665.3 L154.17,665.26 L154.49,665.23 L154.81,665.19 L155.13,665.16 L155.46,665.12 L155.78,665.09 L156.1,665.05 L156.42,665.02 L156.74,664.99 L157.06,664.95 L157.39,664.92 L157.71,664.89 L158.03,664.85 L158.35,664.82 L158.67,664.79 L158.99,664.76 L159.31,664.72 L159.64,664.69 L159.96,664.66 L160.28,664.63 L160.6,664.6 L160.92,664.57 L161.24,664.54 L161.57,664.51 L161.89,664.47 L162.21,664.44 L162.53,664.41 L162.85,664.38 L163.17,664.35 L163.49,664.32 L163.82,664.29 L164.14,664.26 L164.46,664.24 L164.78,664.21 L165.1,664.18 L165.42,664.15 L165.75,664.12 L166.07,664.09 L166.39,664.06 L166.71,664.04 L167.03,664.01 L167.35,663.98 L167.68,663.95 L168,663.93 L168.32,663.9 L168.64,663.87 L168.96,663.85 L169.28,663.82 L169.6,663.79 L169.93,663.77 L170.25,663.74 L170.57,663.72 L170.89,663.69 L171.21,663.66 L171.53,663.64 L171.86,663.61 L172.18,663.59 L172.5,663.57 L172.82,663.54 L173.14,663.52 L173.46,663.49 L173.78,663.47 L174.11,663.45 L174.43,663.42 L174.75,663.4 L175.07,663.38 L175.39,663.35 L175.71,663.33 L176.04,663.31 L176.36,663.28 L176.68,663.26 L177,663.24 L177.32,663.22 L177.64,663.2 L177.96,663.18 L178.29,663.15 L178.61,663.13 L178.93,663.11 L179.25,663.09 L179.57,663.07 L179.89,663.05 L180.22,663.03 L180.54,663.01 L180.86,662.99 L181.18,662.97 L181.5,662.95 L181.82,662.93 L182.14,662.91 L182.47,662.89 L182.79,662.88 L183.11,662.86 L183.43,662.84 L183.75,662.82 L184.07,662.8 L184.4,662.79 L184.72,662.77 L185.04,662.75 L185.36,662.73 L185.68,662.72 L186,662.7 L186.33,662.68 L186.65,662.67 L186.97,662.65 L187.29,662.63 L187.61,662.62 L187.93,662.6 L188.25,662.59 L188.58,662.57 L188.9,662.56 L189.22,662.54 L189.54,662.53 L189.86,662.51 L190.18,662.5 L190.51,662.48 L190.83,662.47 L191.15,662.45 L191.47,662.44 L191.79,662.43 L192.11,662.41 L192.43,662.4 L192.76,662.39 L193.08,662.37 L193.4,662.36 L193.72,662.35 L194.04,662.34 L194.36,662.33 L194.69,662.31 L195.01,662.3 L195.33,662.29 L195.65,662.28 L195.97,662.27 L196.29,662.26 L196.61,662.25 L196.94,662.24 L197.26,662.23 L197.58,662.21 L197.9,662.2 L198.22,662.19 L198.54,662.19 L198.87,662.18 L199.19,662.17 L199.51,662.16 L199.83,662.15 L200.15,662.14 L200.47,662.13 L200.79,662.12 L201.12,662.11 L201.44,662.11 L201.76,662.1 L202.08,662.09 L202.4,662.08 L202.72,662.08 L203.05,662.07 L203.37,662.06 L203.69,662.06 L204.01,662.05 L204.33,662.04 L204.65,662.04 L204.97,662.03 L205.3,662.02 L205.62,662.02 L205.94,662.01 L206.26,662.01 L206.58,662 L206.9,662 L207.23,661.99 L207.55,661.99 L207.87,661.98 L208.19,661.98 L208.51,661.98 L208.83,661.97 L209.16,661.97 L209.48,661.97 L209.8,661.96 L210.12,661.96 L210.44,661.96 L210.76,661.95 L211.08,661.95 L211.41,661.95 L211.73,661.95 L212.05,661.95 L212.37,661.94 L212.69,661.94 L213.01,661.94 L213.34,661.94 L213.66,661.94 L213.98,661.94 L214.3,661.94 L214.62,661.94 L214.94,661.94 L215.26,661.94 L215.59,661.94 L215.91,661.94 L216.23,661.94 L216.55,661.94 L216.87,661.94 L217.19,661.94 L217.52,661.94 L217.84,661.94 L218.16,661.94 L218.48,661.95 L218.8,661.95 L219.12,661.95 L219.44,661.95 L219.77,661.95 L220.09,661.96 L220.41,661.96 L220.73,661.96 L221.05,661.97 L221.37,661.97 L221.7,661.97 L222.02,661.98 L222.34,661.98 L222.66,661.98 L222.98,661.99 L223.3,661.99 L223.62,662 L223.95,662 L224.27,662.01 L224.59,662.01 L224.91,662.02 L225.23,662.02 L225.55,662.03 L225.88,662.04 L226.2,662.04 L226.52,662.05 L226.84,662.06 L227.16,662.06 L227.48,662.07 L227.8,662.08 L228.13,662.08 L228.45,662.09 L228.77,662.1 L229.09,662.11 L229.41,662.11 L229.73,662.12 L230.06,662.13 L230.38,662.14 L230.7,662.15 L231.02,662.16 L231.34,662.17 L231.66,662.18 L231.99,662.19 L232.31,662.19 L232.63,662.2 L232.95,662.21 L233.27,662.23 L233.59,662.24 L233.91,662.25 L234.24,662.26 L234.56,662.27 L234.88,662.28 L235.2,662.29 L235.52,662.3 L235.84,662.31 L236.17,662.33 L236.49,662.34 L236.81,662.35 L237.13,662.36 L237.45,662.37 L237.77,662.39 L238.09,662.4 L238.42,662.41 L238.74,662.43 L239.06,662.44 L239.38,662.45 L239.7,662.47 L240.02,662.48 L240.35,662.5 L240.67,662.51 L240.99,662.53 L241.31,662.54 L241.63,662.56 L241.95,662.57 L242.27,662.59 L242.6,662.6 L242.92,662.62 L243.24,662.63 L243.56,662.65 L243.88,662.67 L244.2,662.68 L244.53,662.7 L244.85,662.72 L245.17,662.73 L245.49,662.75 L245.81,662.77 L246.13,662.79 L246.45,662.8 L246.78,662.82 L247.1,662.84 L247.42,662.86 L247.74,662.88 L248.06,662.89 L248.38,662.91 L248.71,662.93 L249.03,662.95 L249.35,662.97 L249.67,662.99 L249.99,663.01 L250.31,663.03 L250.64,663.05 L250.96,663.07 L251.28,663.09 L251.6,663.11 L251.92,663.13 L252.24,663.15 L252.56,663.18 L252.89,663.2 L253.21,663.22 L253.53,663.24 L253.85,663.26 L254.17,663.28 L254.49,663.31 L254.82,663.33 L255.14,663.35 L255.46,663.38 L255.78,663.4 L256.1,663.42 L256.42,663.45 L256.74,663.47 L257.07,663.49 L257.39,663.52 L257.71,663.54 L258.03,663.57 L258.35,663.59 L258.67,663.61 L259,663.64 L259.32,663.66 L259.64,663.69 L259.96,663.72 L260.28,663.74 L260.6,663.77 L260.92,663.79 L261.25,663.82 L261.57,663.85 L261.89,663.87 L262.21,663.9 L262.53,663.93 L262.85,663.95 L263.18,663.98 L263.5,664.01 L263.82,664.04 L264.14,664.06 L264.46,664.09 L264.78,664.12 L265.1,664.15 L265.43,664.18 L265.75,664.21 L266.07,664.24 L266.39,664.26 L266.71,664.29 L267.03,664.32 L267.36,664.35 L267.68,664.38 L268,664.41 L268.32,664.44 L268.64,664.47 L268.96,664.51 L269.28,664.54 L269.61,664.57 L269.93,664.6 L270.25,664.63 L270.57,664.66 L270.89,664.69 L271.21,664.72 L271.54,664.76 L271.86,664.79 L272.18,664.82 L272.5,664.85 L272.82,664.89 L273.14,664.92 L273.47,664.95 L273.79,664.99 L274.11,665.02 L274.43,665.05 L274.75,665.09 L275.07,665.12 L275.39,665.16 L275.72,665.19 L276.04,665.23 L276.36,665.26 L276.68,665.3 L277,665.33 L277.32,665.37 L277.65,665.4 L277.97,665.44 L278.29,665.47 L278.61,665.51 L278.93,665.55 L279.25,665.58 L279.57,665.62 L279.9,665.66 L280.22,665.69 L280.54,665.73 L280.86,665.77 L281.18,665.81 L281.5,665.84 L281.83,665.88 L282.15,665.92 L282.47,665.96 L282.79,666 L283.11,666.04 L283.43,666.08 L283.75,666.12 L284.08,666.15 L284.4,666.19 L284.72,666.23 L285.04,666.27 L285.36,666.31 L285.68,666.35 L286.01,666.39 L286.33,666.43 L286.65,666.48 L286.97,666.52 L287.29,666.56 L287.61,666.6 L287.93,666.64 L288.26,666.68 L288.58,666.72 L288.9,666.77 L289.22,666.81 L289.54,666.85 L289.86,666.89 L290.19,666.94 L290.51,666.98 L290.83,667.02 L291.15,667.07 L291.47,667.11 L291.79,667.15 L292.11,667.2 L292.44,667.24 L292.76,667.29 L293.08,667.33 L293.4,667.38 L293.72,667.42 L294.04,667.47 L294.37,667.51 L294.69,667.56 L295.01,667.6 L295.33,667.65 L295.65,667.69 L295.97,667.74 L296.3,667.79 L296.62,667.83 L296.94,667.88 L297.26,667.93 L297.58,667.97 L297.9,668.02 L298.22,668.07 L298.55,668.12 L298.87,668.16 L299.19,668.21 L299.51,668.26 L299.83,668.31 L300.15,668.36 L300.48,668.4 L300.8,668.45 L301.12,668.5 L301.44,668.55 L301.76,668.6 L302.08,668.65 L302.4,668.7 L302.73,668.75 L303.05,668.8 L303.37,668.85 L303.69,668.9 L304.01,668.95 L304.33,669 L304.66,669.05 L304.98,669.11 L305.3,669.16 L305.62,669.21 L305.94,669.26 L306.26,669.31 L306.58,669.37 L306.91,669.42 L307.23,669.47 L307.55,669.52 L307.87,669.58 L308.19,669.63 L308.51,669.68 L308.84,669.74 L309.16,669.79 L309.48,669.84 L309.8,669.9 L310.12,669.95 L310.44,670.01 L310.76,670.06 L311.09,670.12 L311.41,670.17 L311.73,670.23 L312.05,670.28 L312.37,670.34 L312.69,670.39 L313.02,670.45 L313.34,670.5 L313.66,670.56 L313.98,670.62 L314.3,670.67 L314.62,670.73 L314.94,670.79 L315.27,670.85 L315.59,670.9 L315.91,670.96 L316.23,671.02 L316.55,671.08 L316.87,671.13 L317.2,671.19 L317.52,671.25 L317.84,671.31 L318.16,671.37 L318.48,671.43 L318.8,671.49 L319.13,671.55 L319.45,671.61 L319.77,671.67 L320.09,671.73 L320.41,671.79 L320.73,671.85 L321.05,671.91 L321.38,671.97 L321.7,672.03 L322.02,672.09 L322.34,672.15 L322.66,672.21 L322.98,672.27 L323.31,672.34 L323.63,672.4 L323.95,672.46 L324.27,672.52 L324.59,672.58 L324.91,672.65 L325.23,672.71 L325.56,672.77 L325.88,672.84 L326.2,672.9 L326.52,672.96 L326.84,673.03 L327.16,673.09 L327.49,673.16 L327.81,673.22 L328.13,673.28 L328.45,673.35 L328.77,673.41 L329.09,673.48 L329.41,673.54 L329.74,673.61 L330.06,673.68 L330.38,673.74 L330.7,673.81 L331.02,673.87 L331.34,673.94 L331.67,674.01 L331.99,674.07 L332.31,674.14 L332.63,674.21 L332.95,674.27 L333.27,674.34 L333.59,674.41 L333.92,674.48 L334.24,674.55 L334.56,674.61 L334.88,674.68 L335.2,674.75 L335.52,674.82 L335.85,674.89 L336.17,674.96 L336.49,675.03 L336.81,675.1 L337.13,675.17 L337.45,675.24 L337.78,675.31 L338.1,675.38 L338.42,675.45 L338.74,675.52 L339.06,675.59 L339.38,675.66 L339.7,675.73 L340.03,675.8 L340.35,675.87 L340.67,675.95 L340.99,676.02 L341.31,676.09 L341.63,676.16 L341.96,676.24 L342.28,676.31 L342.6,676.38 L342.92,676.45 L343.24,676.53 L343.56,676.6 L343.88,676.67 L344.21,676.75 L344.53,676.82 L344.85,676.9 L345.17,676.97 L345.49,677.04 L345.81,677.12 L346.14,677.19 L346.46,677.27 L346.78,677.34 L347.1,677.42" class="dash" stroke-dashoffset="39.5"/>
<path d="M122.02,613.48 L122.34,613.61 L122.66,613.75 L122.98,613.88 L123.3,614.01 L123.62,614.15 L123.94,614.28 L124.27,614.41 L124.59,614.54 L124.91,614.67 L125.23,614.8 L125.55,614.93 L125.87,615.06 L126.2,615.19 L126.52,615.31 L126.84,615.44 L127.16,615.57 L127.48,615.7 L127.8,615.82 L128.12,615.95 L128.45,616.07 L128.77,616.2 L129.09,616.32 L129.41,616.45 L129.73,616.57 L130.05,616.7 L130.38,616.82 L130.7,616.94 L131.02,617.07 L131.34,617.19 L131.66,617.31 L131.98,617.43 L132.3,617.55 L132.63,617.67 L132.95,617.79 L133.27,617.91 L133.59,618.03 L133.91,618.15 L134.23,618.27 L134.56,618.39 L134.88,618.51 L135.2,618.62 L135.52,618.74 L135.84,618.86 L136.16,618.98 L136.48,619.09 L136.81,619.21 L137.13,619.32 L137.45,619.44 L137.77,619.55 L138.09,619.67 L138.41,619.78 L138.74,619.9 L139.06,620.01 L139.38,620.12 L139.7,620.24 L140.02,620.35 L140.34,620.46 L140.66,620.57 L140.99,620.68 L141.31,620.79 L141.63,620.91 L141.95,621.02 L142.27,621.13 L142.59,621.24 L142.92,621.35 L143.24,621.46 L143.56,621.56 L143.88,621.67 L144.2,621.78 L144.52,621.89 L144.85,622 L145.17,622.1 L145.49,622.21 L145.81,622.32 L146.13,622.42 L146.45,622.53 L146.77,622.64 L147.1,622.74 L147.42,622.85 L147.74,622.95 L148.06,623.06 L148.38,623.16 L148.7,623.26 L149.03,623.37 L149.35,623.47 L149.67,623.58 L149.99,623.68 L150.31,623.78 L150.63,623.88 L150.95,623.99 L151.28,624.09 L151.6,624.19 L151.92,624.29 L152.24,624.39 L152.56,624.49 L152.88,624.59 L153.21,624.69 L153.53,624.79 L153.85,624.89 L154.17,624.99 L154.49,625.09 L154.81,625.19 L155.13,625.29 L155.46,625.39 L155.78,625.48 L156.1,625.58 L156.42,625.68 L156.74,625.78 L157.06,625.87 L157.39,625.97 L157.71,626.07 L158.03,626.16 L158.35,626.26 L158.67,626.36 L158.99,626.45 L159.31,626.55 L159.64,626.64 L159.96,626.74 L160.28,626.83 L160.6,626.93 L160.92,627.02 L161.24,627.11 L161.57,627.21 L161.89,627.3 L162.21,627.39 L162.53,627.49 L162.85,627.58 L163.17,627.67 L163.49,627.76 L163.82,627.86 L164.14,627.95 L164.46,628.04 L164.78,628.13 L165.1,628.22 L165.42,628.31 L165.75,628.4 L166.07,628.49 L166.39,628.59 L166.71,628.68 L167.03,628.77 L167.35,628.85 L167.68,628.94 L168,629.03 L168.32,629.12 L168.64,629.21 L168.96,629.3 L169.28,629.39 L169.6,629.48 L169.93,629.57 L170.25,629.65 L170.57,629.74 L170.89,629.83 L171.21,629.92 L171.53,630 L171.86,630.09 L172.18,630.18 L172.5,630.26 L172.82,630.35 L173.14,630.44 L173.46,630.52 L173.78,630.61 L174.11,630.69 L174.43,630.78 L174.75,630.86 L175.07,630.95 L175.39,631.03 L175.71,631.12 L176.04,631.2 L176.36,631.29 L176.68,631.37 L177,631.46 L177.32,631.54 L177.64,631.62 L177.96,631.71 L178.29,631.79 L178.61,631.88 L178.93,631.96 L179.25,632.04 L179.57,632.12 L179.89,632.21 L180.22,632.29 L180.54,632.37 L180.86,632.45 L181.18,632.54 L181.5,632.62 L181.82,632.7 L182.14,632.78 L182.47,632.86 L182.79,632.94 L183.11,633.02 L183.43,633.11 L183.75,633.19 L184.07,633.27 L184.4,633.35 L184.72,633.43 L185.04,633.51 L185.36,633.59 L185.68,633.67 L186,633.75 L186.33,633.83" class="b"/>
<path d="M25.55,694 L25.87,693.89 L26.19,693.78 L26.51,693.67 L26.84,693.57 L27.16,693.46 L27.48,693.35 L27.8,693.24 L28.12,693.14 L28.44,693.03 L28.77,692.92 L29.09,692.82 L29.41,692.71 L29.73,692.6 L30.05,692.5 L30.37,692.39 L30.69,692.28 L31.02,692.18 L31.34,692.07 L31.66,691.97 L31.98,691.86 L32.3,691.76 L32.62,691.65 L32.95,691.55 L33.27,691.44 L33.59,691.34 L33.91,691.23 L34.23,691.13 L34.55,691.03 L34.87,690.92 L35.2,690.82 L35.52,690.72 L35.84,690.61 L36.16,690.51 L36.48,690.41 L36.8,690.31 L37.13,690.2 L37.45,690.1 L37.77,690 L38.09,689.9 L38.41,689.8 L38.73,689.69 L39.06,689.59 L39.38,689.49 L39.7,689.39 L40.02,689.29 L40.34,689.19 L40.66,689.09 L40.98,688.99 L41.31,688.89 L41.63,688.79 L41.95,688.69 L42.27,688.59 L42.59,688.49 L42.91,688.39 L43.24,688.29 L43.56,688.19 L43.88,688.09 L44.2,687.99 L44.52,687.89 L44.84,687.8 L45.16,687.7 L45.49,687.6 L45.81,687.5 L46.13,687.4 L46.45,687.3 L46.77,687.21 L47.09,687.11 L47.42,687.01 L47.74,686.91 L48.06,686.82 L48.38,686.72 L48.7,686.62 L49.02,686.52 L49.34,686.43 L49.67,686.33 L49.99,686.23 L50.31,686.13 L50.63,686.04 L50.95,685.94 L51.27,685.84 L51.6,685.74 L51.92,685.65 L52.24,685.55 L52.56,685.45 L52.88,685.35 L53.2,685.25 L53.52,685.16 L53.85,685.06 L54.17,684.96 L54.49,684.86 L54.81,684.76 L55.13,684.66 L55.45,684.56 L55.78,684.46 L56.1,684.36 L56.42,684.26 L56.74,684.16 L57.06,684.06 L57.38,683.95 L57.7,683.85 L58.03,683.75 L58.35,683.64 L58.67,683.54 L58.99,683.43 L59.31,683.32 L59.63,683.21 L59.96,683.1 L60.28,682.99 L60.6,682.88 L60.92,682.77 L61.24,682.65 L61.56,682.53 L61.89,682.42 L62.21,682.3 L62.53,682.17 L62.85,682.05 L63.17,681.92 L63.49,681.79 L63.81,681.66 L64.14,681.52 L64.46,681.38 L64.78,681.24 L65.1,681.09 L65.42,680.94 L65.74,680.79 L66.07,680.63 L66.39,680.47 L66.71,680.3 L67.03,680.12 L67.35,679.94 L67.67,679.75 L67.99,679.56 L68.32,679.36 L68.64,679.15 L68.96,678.93 L69.28,678.71 L69.6,678.47 L69.92,678.22 L70.25,677.97 L70.57,677.7 L70.89,677.41 L71.21,677.12 L71.53,676.81 L71.85,676.48 L72.17,676.14 L72.5,675.78 L72.82,675.4 L73.14,675 L73.46,674.58 L73.78,674.13 L74.1,673.66 L74.43,673.17 L74.75,672.64 L75.07,672.09 L75.39,671.5 L75.71,670.88 L76.03,670.22 L76.35,669.52 L76.68,668.78 L77,667.99 L77.32,667.16 L77.64,666.27 L77.96,665.33 L78.28,664.32 L78.61,663.26 L78.93,662.12 L79.25,660.92 L79.57,659.63 L79.89,658.26 L80.21,656.81 L80.54,655.26 L80.86,653.61 L81.18,651.84 L81.5,649.97 L81.82,647.97 L82.14,645.83 L82.46,643.56 L82.79,641.13 L83.11,638.55 L83.43,635.78 L83.75,632.84 L84.07,629.7 L84.39,626.34 L84.72,622.76 L85.04,618.94 L85.36,614.86 L85.68,610.5 L86,605.85 L86.32,600.88 L86.64,595.58 L86.97,589.92 L87.29,583.87 L87.61,577.4 L87.93,570.5 L88.25,563.13 L88.57,555.26 L88.9,546.84 L89.22,537.86 L89.54,528.25 L89.86,518 L90.18,520.02 L90.5,522.01 L90.82,523.97 L91.15,525.91 L91.47,527.83 L91.79,529.71 L92.11,531.57 L92.43,533.41 L92.75,535.22 L93.08,537 L93.4,538.76 L93.72,540.5 L94.04,542.21 L94.36,543.9 L94.68,545.57 L95,547.21 L95.33,548.84 L95.65,550.43 L95.97,552.01 L96.29,553.57 L96.61,555.1 L96.93,556.62 L97.26,558.11 L97.58,559.58 L97.9,561.03 L98.22,562.46 L98.54,563.88 L98.86,565.27 L99.18,566.64 L99.51,568 L99.83,569.33 L100.15,570.65 L100.47,571.95 L100.79,573.23 L101.11,574.5 L101.44,575.74 L101.76,576.97 L102.08,578.18 L102.4,579.38 L102.72,580.56 L103.04,581.72 L103.37,582.87 L103.69,584 L104.01,585.11 L104.33,586.21 L104.65,587.3 L104.97,588.37 L105.29,589.42 L105.62,590.46 L105.94,591.49 L106.26,592.5 L106.58,593.5 L106.9,594.48 L107.22,595.45 L107.55,596.41 L107.87,597.35 L108.19,598.28 L108.51,599.2 L108.83,600.1 L109.15,601 L109.47,601.87 L109.8,602.74 L110.12,603.6 L110.44,604.44 L110.76,605.27 L111.08,606.09 L111.4,606.9 L111.73,607.7 L112.05,608.48 L112.37,609.26 L112.69,609.4 L113.01,609.55 L113.33,609.7 L113.65,609.84 L113.98,609.99 L114.3,610.14 L114.62,610.28 L114.94,610.42 L115.26,610.57 L115.58,610.71 L115.91,610.85 L116.23,611 L116.55,611.14 L116.87,611.28 L117.19,611.42 L117.51,611.56 L117.83,611.7 L118.16,611.84 L118.48,611.98 L118.8,612.12 L119.12,612.26 L119.44,612.4 L119.76,612.53 L120.09,612.67 L120.41,612.81 L120.73,612.94 L121.05,613.08 L121.37,613.21 L121.69,613.35 L122.02,613.48 L122.34,612.12 L122.66,610.64 L122.98,609.06 L123.3,607.4 L123.62,605.67 L123.94,603.9 L124.27,602.1 L124.59,600.3 L124.91,598.52 L125.23,596.78 L125.55,595.11 L125.87,593.52 L126.2,592.03 L126.52,590.68 L126.84,589.47 L127.16,588.43 L127.48,587.56 L127.8,586.89 L128.12,586.43 L128.45,586.18 L128.77,586.15 L129.09,586.35 L129.41,586.78 L129.73,587.44 L130.05,588.32 L130.38,589.42 L130.7,590.73 L131.02,592.24 L131.34,593.93 L131.66,595.78 L131.98,597.78 L132.3,599.9 L132.63,602.13 L132.95,604.44 L133.27,606.81 L133.59,609.2 L133.91,611.59 L134.23,613.96 L134.56,616.27 L134.88,618.51 L135.2,620.64 L135.52,622.64 L135.84,624.49 L136.16,626.16 L136.48,627.64 L136.81,628.9 L137.13,629.94 L137.45,630.73 L137.77,631.28 L138.09,631.56 L138.41,631.59 L138.74,631.35 L139.06,630.84 L139.38,630.09 L139.7,629.08 L140.02,627.83 L140.34,626.36 L140.66,624.69 L140.99,622.83 L141.31,620.79 L141.63,618.62 L141.95,616.33 L142.27,613.95 L142.59,611.5 L142.92,609.02 L143.24,606.53 L143.56,604.06 L143.88,601.65 L144.2,599.32 L144.52,597.09 L144.85,595.01 L145.17,593.08 L145.49,591.34 L145.81,589.8 L146.13,588.48 L146.45,587.4 L146.77,586.58 L147.1,586.02 L147.42,585.73 L147.74,585.71 L148.06,585.98 L148.38,586.51 L148.7,587.32 L149.03,588.38 L149.35,589.7 L149.67,591.25 L149.99,593.02 L150.31,594.99 L150.63,597.14 L150.95,599.44 L151.28,601.87 L151.6,604.41 L151.92,607.02 L152.24,609.68 L152.56,612.35 L152.88,615.01 L153.21,617.64 L153.53,620.19 L153.85,622.65 L154.17,624.99 L154.49,627.19 L154.81,629.21 L155.13,631.05 L155.46,632.69 L155.78,634.1 L156.1,635.27 L156.42,636.21 L156.74,636.89 L157.06,637.32 L157.39,637.49 L157.71,637.41 L158.03,637.07 L158.35,636.5 L158.67,635.7 L158.99,634.67 L159.31,633.45 L159.64,632.04 L159.96,630.47 L160.28,628.76 L160.6,626.93 L160.92,625 L161.24,623 L161.57,620.96 L161.89,618.9 L162.21,616.85 L162.53,614.83 L162.85,612.88 L163.17,611 L163.49,609.23 L163.82,607.58 L164.14,606.08 L164.46,604.74 L164.78,603.58 L165.1,602.6 L165.42,601.83 L165.75,601.26 L166.07,600.91 L166.39,600.77 L166.71,600.84 L167.03,601.13 L167.35,601.62 L167.68,602.31 L168,603.19 L168.32,604.25 L168.64,605.47 L168.96,606.83 L169.28,608.33 L169.6,609.93 L169.93,611.63 L170.25,613.39 L170.57,615.21 L170.89,617.06 L171.21,618.91 L171.53,620.75 L171.86,622.56 L172.18,624.32 L172.5,626.01 L172.82,627.62 L173.14,629.13 L173.46,630.52 L173.78,631.79 L174.11,632.93 L174.43,633.93 L174.75,634.79 L175.07,635.5 L175.39,636.06 L175.71,636.47 L176.04,636.74 L176.36,636.87 L176.68,636.87 L177,636.74 L177.32,636.51 L177.64,636.18 L177.96,635.75 L178.29,635.26 L178.61,634.71 L178.93,634.11 L179.25,633.48 L179.57,632.84 L179.89,632.21 L180.22,631.58 L180.54,630.99 L180.86,630.44 L181.18,629.95 L181.5,629.51 L181.82,629.15 L182.14,628.87 L182.47,628.68 L182.79,628.58 L183.11,628.56 L183.43,628.64 L183.75,628.82 L184.07,629.07 L184.4,629.41 L184.72,629.83 L185.04,630.32 L185.36,630.86 L185.68,631.45 L186,632.08 L186.33,632.74 L186.65,633.91 L186.97,633.99 L187.29,634.07 L187.61,634.14 L187.93,634.22 L188.25,634.3 L188.58,634.38 L188.9,634.46 L189.22,634.54 L189.54,634.62 L189.86,634.7 L190.18,634.77 L190.51,634.85 L190.83,634.93 L191.15,635.01 L191.47,635.08 L191.79,635.16 L192.11,635.24 L192.43,635.32 L192.76,635.39 L193.08,635.47 L193.4,635.55 L193.72,635.62 L194.04,635.7 L194.36,635.78 L194.69,635.85 L195.01,635.93 L195.33,636.01 L195.65,636.08 L195.97,636.16 L196.29,636.23 L196.61,636.31 L196.94,636.39 L197.26,636.46 L197.58,636.54 L197.9,636.61 L198.22,636.69 L198.54,636.76 L198.87,636.84 L199.19,636.91 L199.51,636.99 L199.83,637.06 L200.15,637.14 L200.47,637.21 L200.79,637.29 L201.12,637.36 L201.44,637.44 L201.76,637.51 L202.08,637.58 L202.4,637.66 L202.72,637.73 L203.05,637.81 L203.37,637.88 L203.69,637.95 L204.01,638.03 L204.33,638.1 L204.65,638.17 L204.97,638.25 L205.3,638.32 L205.62,638.39 L205.94,638.47 L206.26,638.54 L206.58,638.61 L206.9,638.69 L207.23,638.76 L207.55,638.83 L207.87,638.91 L208.19,638.98 L208.51,639.05 L208.83,639.12 L209.16,639.2 L209.48,639.27 L209.8,639.34 L210.12,639.41 L210.44,639.48 L210.76,639.56 L211.08,639.63 L211.41,639.7 L211.73,639.77 L212.05,639.84 L212.37,639.92 L212.69,639.99 L213.01,640.06 L213.34,640.13 L213.66,640.2 L213.98,640.27 L214.3,640.35 L214.62,640.42 L214.94,640.49 L215.26,640.56 L215.59,640.63 L215.91,640.7 L216.23,640.77 L216.55,640.84 L216.87,640.92 L217.19,640.99 L217.52,641.06 L217.84,641.13 L218.16,641.2 L218.48,641.27 L218.8,641.34 L219.12,641.41 L219.44,641.48 L219.77,641.55 L220.09,641.62 L220.41,641.69 L220.73,641.76 L221.05,641.83 L221.37,641.91 L221.7,641.98 L222.02,642.05 L222.34,642.12 L222.66,642.19 L222.98,642.26 L223.3,642.33 L223.62,642.4 L223.95,642.47 L224.27,642.54 L224.59,642.61 L224.91,642.68 L225.23,642.75 L225.55,642.82 L225.88,642.89 L226.2,642.96 L226.52,643.03 L226.84,643.1 L227.16,643.17 L227.48,643.24 L227.8,643.31 L228.13,643.38 L228.45,643.45 L228.77,643.52 L229.09,643.58 L229.41,643.65 L229.73,643.72 L230.06,643.79 L230.38,643.86 L230.7,643.93 L231.02,644 L231.34,644.07 L231.66,644.14 L231.99,644.21 L232.31,644.28 L232.63,644.35 L232.95,644.42 L233.27,644.49 L233.59,644.56 L233.91,644.63 L234.24,644.7 L234.56,644.77 L234.88,644.84 L235.2,644.91 L235.52,644.97 L235.84,645.04 L236.17,645.11 L236.49,645.18 L236.81,645.25 L237.13,645.32 L237.45,645.39 L237.77,645.46 L238.09,645.53 L238.42,645.6 L238.74,645.67 L239.06,645.74 L239.38,645.81 L239.7,645.88 L240.02,645.95 L240.35,646.01 L240.67,646.08 L240.99,646.15 L241.31,646.22 L241.63,646.29 L241.95,646.36 L242.27,646.43 L242.6,646.5 L242.92,646.57 L243.24,646.64 L243.56,646.71 L243.88,646.78 L244.2,646.85 L244.53,646.92 L244.85,646.99 L245.17,647.05 L245.49,647.12 L245.81,647.19 L246.13,647.26 L246.45,647.33 L246.78,647.4 L247.1,647.47 L247.42,647.54 L247.74,647.61 L248.06,647.68 L248.38,647.75 L248.71,647.82 L249.03,647.89 L249.35,647.96 L249.67,648.03 L249.99,648.1 L250.31,648.17 L250.64,648.24 L250.96,648.31 L251.28,648.38 L251.6,648.45 L251.92,648.51 L252.24,648.58 L252.56,648.65 L252.89,648.72 L253.21,648.79 L253.53,648.86 L253.85,648.93 L254.17,649 L254.49,649.07 L254.82,649.14 L255.14,649.21 L255.46,649.28 L255.78,649.35 L256.1,649.42 L256.42,649.49 L256.74,649.56 L257.07,649.63 L257.39,649.7 L257.71,649.77 L258.03,649.84 L258.35,649.91 L258.67,649.98 L259,650.06 L259.32,650.13 L259.64,650.2 L259.96,650.27 L260.28,650.34 L260.6,650.41 L260.92,650.48 L261.25,650.55 L261.57,650.62 L261.89,650.69 L262.21,650.76 L262.53,650.83 L262.85,650.9 L263.18,650.97 L263.5,651.04 L263.82,651.11 L264.14,651.19 L264.46,651.26 L264.78,651.33 L265.1,651.4 L265.43,651.47 L265.75,651.54 L266.07,651.61 L266.39,651.68 L266.71,651.75 L267.03,651.83 L267.36,651.9 L267.68,651.97 L268,652.04 L268.32,652.11 L268.64,652.18 L268.96,652.25 L269.28,652.33 L269.61,652.4 L269.93,652.47 L270.25,652.54 L270.57,652.61 L270.89,652.68 L271.21,652.76 L271.54,652.83 L271.86,652.9 L272.18,652.97 L272.5,653.04 L272.82,653.12 L273.14,653.19 L273.47,653.26 L273.79,653.33 L274.11,653.41 L274.43,653.48 L274.75,653.55 L275.07,653.62 L275.39,653.7 L275.72,653.77 L276.04,653.84 L276.36,653.91 L276.68,653.99 L277,654.06 L277.32,654.13 L277.65,654.21 L277.97,654.28 L278.29,654.35 L278.61,654.43 L278.93,654.5 L279.25,654.57 L279.57,654.65 L279.9,654.72 L280.22,654.79 L280.54,654.87 L280.86,654.94 L281.18,655.01 L281.5,655.09 L281.83,655.16 L282.15,655.24 L282.47,655.31 L282.79,655.38 L283.11,655.46 L283.43,655.53 L283.75,655.61 L284.08,655.68 L284.4,655.75 L284.72,655.83 L285.04,655.9 L285.36,655.98 L285.68,656.05 L286.01,656.13 L286.33,656.2 L286.65,656.28 L286.97,656.35 L287.29,656.43 L287.61,656.5 L287.93,656.58 L288.26,656.65 L288.58,656.73 L288.9,656.8 L289.22,656.88 L289.54,656.95 L289.86,657.03 L290.19,657.11 L290.51,657.18 L290.83,657.26 L291.15,657.33 L291.47,657.41 L291.79,657.48 L292.11,657.56 L292.44,657.64 L292.76,657.71 L293.08,657.79 L293.4,657.87 L293.72,657.94 L294.04,658.02 L294.37,658.1 L294.69,658.17 L295.01,658.25 L295.33,658.33 L295.65,658.4 L295.97,658.48 L296.3,658.56 L296.62,658.63 L296.94,658.71 L297.26,658.79 L297.58,658.87 L297.9,658.94 L298.22,659.02 L298.55,659.1 L298.87,659.18 L299.19,659.26 L299.51,659.33 L299.83,659.41 L300.15,659.49 L300.48,659.57 L300.8,659.65 L301.12,659.72 L301.44,659.8 L301.76,659.88 L302.08,659.96 L302.4,660.04 L302.73,660.12 L303.05,660.2 L303.37,660.28 L303.69,660.35 L304.01,660.43 L304.33,660.51 L304.66,660.59 L304.98,660.67 L305.3,660.75 L305.62,660.83 L305.94,660.91 L306.26,660.99 L306.58,661.07 L306.91,661.15 L307.23,661.23 L307.55,661.31 L307.87,661.39 L308.19,661.47 L308.51,661.55 L308.84,661.63 L309.16,661.71 L309.48,661.79 L309.8,661.88 L310.12,661.96 L310.44,662.04 L310.76,662.12 L311.09,662.2 L311.41,662.28 L311.73,662.36 L312.05,662.44 L312.37,662.53 L312.69,662.61 L313.02,662.69 L313.34,662.77 L313.66,662.85 L313.98,662.94 L314.3,663.02 L314.62,663.1 L314.94,663.18 L315.27,663.26 L315.59,663.35 L315.91,663.43 L316.23,663.51 L316.55,663.6 L316.87,663.68 L317.2,663.76 L317.52,663.84 L317.84,663.93 L318.16,664.01 L318.48,664.1 L318.8,664.18 L319.13,664.26 L319.45,664.35 L319.77,664.43 L320.09,664.51 L320.41,664.6 L320.73,664.68 L321.05,664.77 L321.38,664.85 L321.7,664.94 L322.02,665.02 L322.34,665.11 L322.66,665.19 L322.98,665.28 L323.31,665.36 L323.63,665.45 L323.95,665.53 L324.27,665.62 L324.59,665.7 L324.91,665.79 L325.23,665.87 L325.56,665.96 L325.88,666.05 L326.2,666.13 L326.52,666.22 L326.84,666.3 L327.16,666.39 L327.49,666.48 L327.81,666.56 L328.13,666.65 L328.45,666.74 L328.77,666.82 L329.09,666.91 L329.41,667 L329.74,667.09 L330.06,667.17 L330.38,667.26 L330.7,667.35 L331.02,667.44 L331.34,667.52 L331.67,667.61 L331.99,667.7 L332.31,667.79 L332.63,667.88 L332.95,667.96 L333.27,668.05 L333.59,668.14 L333.92,668.23 L334.24,668.32 L334.56,668.41 L334.88,668.5 L335.2,668.59 L335.52,668.68 L335.85,668.76 L336.17,668.85 L336.49,668.94 L336.81,669.03 L337.13,669.12 L337.45,669.21 L337.78,669.3 L338.1,669.39 L338.42,669.48 L338.74,669.58 L339.06,669.67 L339.38,669.76 L339.7,669.85 L340.03,669.94 L340.35,670.03 L340.67,670.12 L340.99,670.21 L341.31,670.3 L341.63,670.39 L341.96,670.49 L342.28,670.58 L342.6,670.67 L342.92,670.76 L343.24,670.85 L343.56,670.95 L343.88,671.04 L344.21,671.13 L344.53,671.22 L344.85,671.32 L345.17,671.41 L345.49,671.5 L345.81,671.6 L346.14,671.69 L346.46,671.78 L346.78,671.88 L347.1,671.97" class="g"/>
<path d="M25.55,694 L25.87,694 L26.19,694 L26.51,694 L26.84,694 L27.16,694 L27.48,694 L27.8,694 L28.12,694 L28.44,694 L28.77,694 L29.09,694 L29.41,694 L29.73,694 L30.05,694 L30.37,694 L30.69,694 L31.02,694 L31.34,694 L31.66,694 L31.98,694 L32.3,694 L32.62,694 L32.95,694 L33.27,694 L33.59,694 L33.91,694 L34.23,694 L34.55,694 L34.87,694 L35.2,694 L35.52,694 L35.84,694 L36.16,694 L36.48,694 L36.8,694 L37.13,694 L37.45,694 L37.77,694 L38.09,694 L38.41,694 L38.73,694 L39.06,694 L39.38,694 L39.7,694 L40.02,693.99 L40.34,693.99 L40.66,693.99 L40.98,693.99 L41.31,693.99 L41.63,693.99 L41.95,693.99 L42.27,693.99 L42.59,693.99 L42.91,693.99 L43.24,693.99 L43.56,693.99 L43.88,693.99 L44.2,693.99 L44.52,693.99 L44.84,693.99 L45.16,693.99 L45.49,693.98 L45.81,693.98 L46.13,693.98 L46.45,693.98 L46.77,693.98 L47.09,693.98 L47.42,693.98 L47.74,693.97 L48.06,693.97 L48.38,693.97 L48.7,693.97 L49.02,693.97 L49.34,693.96 L49.67,693.96 L49.99,693.96 L50.31,693.96 L50.63,693.95 L50.95,693.95 L51.27,693.95 L51.6,693.94 L51.92,693.94 L52.24,693.94 L52.56,693.93 L52.88,693.93 L53.2,693.92 L53.52,693.92 L53.85,693.91 L54.17,693.9 L54.49,693.9 L54.81,693.89 L55.13,693.88 L55.45,693.87 L55.78,693.87 L56.1,693.86 L56.42,693.85 L56.74,693.84 L57.06,693.82 L57.38,693.81 L57.7,693.8 L58.03,693.79 L58.35,693.77 L58.67,693.75 L58.99,693.74 L59.31,693.72 L59.63,693.7 L59.96,693.68 L60.28,693.66 L60.6,693.63 L60.92,693.61 L61.24,693.58 L61.56,693.55 L61.89,693.52 L62.21,693.49 L62.53,693.45 L62.85,693.42 L63.17,693.38 L63.49,693.33 L63.81,693.29 L64.14,693.24 L64.46,693.18 L64.78,693.13 L65.1,693.07 L65.42,693 L65.74,692.94 L66.07,692.86 L66.39,692.78 L66.71,692.7 L67.03,692.61 L67.35,692.51 L67.67,692.41 L67.99,692.3 L68.32,692.19 L68.64,692.06 L68.96,691.93 L69.28,691.78 L69.6,691.63 L69.92,691.47 L70.25,691.29 L70.57,691.11 L70.89,690.91 L71.21,690.69 L71.53,690.47 L71.85,690.22 L72.17,689.96 L72.5,689.68 L72.82,689.39 L73.14,689.07 L73.46,688.73 L73.78,688.37 L74.1,687.98 L74.43,687.56 L74.75,687.12 L75.07,686.64 L75.39,686.14 L75.71,685.59 L76.03,685.01 L76.35,684.4 L76.68,683.73 L77,683.03 L77.32,682.27 L77.64,681.46 L77.96,680.6 L78.28,679.67 L78.61,678.68 L78.93,677.63 L79.25,676.5 L79.57,675.29 L79.89,674 L80.21,672.62 L80.54,671.15 L80.86,669.57 L81.18,667.89 L81.5,666.09 L81.82,664.17 L82.14,662.11 L82.46,659.91 L82.79,657.56 L83.11,655.05 L83.43,652.36 L83.75,649.49 L84.07,646.43 L84.39,643.15 L84.72,639.64 L85.04,635.89 L85.36,631.89 L85.68,627.61 L86,623.03 L86.32,618.14 L86.64,612.91 L86.97,607.32 L87.29,601.34 L87.61,594.95 L87.93,588.12 L88.25,580.82 L88.57,573.02 L88.9,564.68 L89.22,555.77 L89.54,546.24 L89.86,536.05 L90.18,538.14 L90.5,540.21 L90.82,542.24 L91.15,544.25 L91.47,546.24 L91.79,548.19 L92.11,550.12 L92.43,552.03 L92.75,553.91 L93.08,555.77 L93.4,557.6 L93.72,559.4 L94.04,561.19 L94.36,562.95 L94.68,564.68 L95,566.39 L95.33,568.08 L95.65,569.75 L95.97,571.4 L96.29,573.02 L96.61,574.62 L96.93,576.21 L97.26,577.77 L97.58,579.3 L97.9,580.82 L98.22,582.32 L98.54,583.8 L98.86,585.26 L99.18,586.7 L99.51,588.12 L99.83,589.53 L100.15,590.91 L100.47,592.27 L100.79,593.62 L101.11,594.95 L101.44,596.26 L101.76,597.56 L102.08,598.84 L102.4,600.1 L102.72,601.34 L103.04,602.57 L103.37,603.78 L103.69,604.97 L104.01,606.15 L104.33,607.32 L104.65,608.46 L104.97,609.6 L105.29,610.71 L105.62,611.82 L105.94,612.91 L106.26,613.98 L106.58,615.04 L106.9,616.09 L107.22,617.12 L107.55,618.14 L107.87,619.14 L108.19,620.13 L108.51,621.11 L108.83,622.08 L109.15,623.03 L109.47,623.97 L109.8,624.9 L110.12,625.81 L110.44,626.71 L110.76,627.61 L111.08,628.49 L111.4,629.35 L111.73,630.21 L112.05,631.05 L112.37,631.89 L112.69,632.09 L113.01,632.3 L113.33,632.51 L113.65,632.71 L113.98,632.91 L114.3,633.12 L114.62,633.32 L114.94,633.52 L115.26,633.72 L115.58,633.92 L115.91,634.12 L116.23,634.32 L116.55,634.52 L116.87,634.72 L117.19,634.92 L117.51,635.11 L117.83,635.31 L118.16,635.5 L118.48,635.7 L118.8,635.89 L119.12,636.09 L119.44,636.28 L119.76,636.47 L120.09,636.66 L120.41,636.85 L120.73,637.04 L121.05,637.23 L121.37,637.42 L121.69,637.61 L122.02,637.8 L122.34,637.99 L122.66,638.17 L122.98,638.36 L123.3,638.54 L123.62,638.73 L123.94,638.91 L124.27,639.09 L124.59,639.28 L124.91,639.46 L125.23,639.64 L125.55,639.82 L125.87,640 L126.2,640.18 L126.52,640.36 L126.84,640.54 L127.16,640.72 L127.48,640.89 L127.8,641.07 L128.12,641.25 L128.45,641.42 L128.77,641.6 L129.09,641.77 L129.41,641.95 L129.73,642.12 L130.05,642.29 L130.38,642.46 L130.7,642.64 L131.02,642.81 L131.34,642.98 L131.66,643.15 L131.98,643.32 L132.3,643.48 L132.63,643.65 L132.95,643.82 L133.27,643.99 L133.59,644.15 L133.91,644.32 L134.23,644.48 L134.56,644.65 L134.88,644.81 L135.2,644.98 L135.52,645.14 L135.84,645.3 L136.16,645.47 L136.48,645.63 L136.81,645.79 L137.13,645.95 L137.45,646.11 L137.77,646.27 L138.09,646.43 L138.41,646.58 L138.74,646.74 L139.06,646.9 L139.38,647.06 L139.7,647.21 L140.02,647.37 L140.34,647.52 L140.66,647.68 L140.99,647.83 L141.31,647.99 L141.63,648.14 L141.95,648.29 L142.27,648.44 L142.59,648.6 L142.92,648.75 L143.24,648.9 L143.56,649.05 L143.88,649.2 L144.2,649.35 L144.52,649.49 L144.85,649.64 L145.17,649.79 L145.49,649.94 L145.81,650.08 L146.13,650.23 L146.45,650.38 L146.77,650.52 L147.1,650.67 L147.42,650.81 L147.74,650.95 L148.06,651.1 L148.38,651.24 L148.7,651.38 L149.03,651.52 L149.35,651.67 L149.67,651.81 L149.99,651.95 L150.31,652.09 L150.63,652.23 L150.95,652.36 L151.28,652.5 L151.6,652.64 L151.92,652.78 L152.24,652.92 L152.56,653.05 L152.88,653.19 L153.21,653.33 L153.53,653.46 L153.85,653.6 L154.17,653.73 L154.49,653.86 L154.81,654 L155.13,654.13 L155.46,654.26 L155.78,654.4 L156.1,654.53 L156.42,654.66 L156.74,654.79 L157.06,654.92 L157.39,655.05 L157.71,655.18 L158.03,655.31 L158.35,655.44 L158.67,655.57 L158.99,655.69 L159.31,655.82 L159.64,655.95 L159.96,656.07 L160.28,656.2 L160.6,656.33 L160.92,656.45 L161.24,656.58 L161.57,656.7 L161.89,656.83 L162.21,656.95 L162.53,657.07 L162.85,657.2 L163.17,657.32 L163.49,657.44 L163.82,657.56 L164.14,657.68 L164.46,657.8 L164.78,657.92 L165.1,658.04 L165.42,658.16 L165.75,658.28 L166.07,658.4 L166.39,658.52 L166.71,658.64 L167.03,658.76 L167.35,658.87 L167.68,658.99 L168,659.11 L168.32,659.22 L168.64,659.34 L168.96,659.45 L169.28,659.57 L169.6,659.68 L169.93,659.8 L170.25,659.91 L170.57,660.03 L170.89,660.14 L171.21,660.25 L171.53,660.36 L171.86,660.48 L172.18,660.59 L172.5,660.7 L172.82,660.81 L173.14,660.92 L173.46,661.03 L173.78,661.14 L174.11,661.25 L174.43,661.36 L174.75,661.47 L175.07,661.57 L175.39,661.68 L175.71,661.79 L176.04,661.9 L176.36,662 L176.68,662.11 L177,662.22 L177.32,662.32 L177.64,662.43 L177.96,662.53 L178.29,662.64 L178.61,662.74 L178.93,662.85 L179.25,662.95 L179.57,663.05 L179.89,663.16 L180.22,663.26 L180.54,663.36 L180.86,663.46 L181.18,663.56 L181.5,663.67 L181.82,663.77 L182.14,663.87 L182.47,663.97 L182.79,664.07 L183.11,664.17 L183.43,664.27 L183.75,664.37 L184.07,664.46 L184.4,664.56 L184.72,664.66 L185.04,664.76 L185.36,664.86 L185.68,664.95 L186,665.05 L186.33,665.15 L186.65,665.24 L186.97,665.34 L187.29,665.43 L187.61,665.53 L187.93,665.62 L188.25,665.72 L188.58,665.81 L188.9,665.9 L189.22,666 L189.54,666.09 L189.86,666.18 L190.18,666.28 L190.51,666.37 L190.83,666.46 L191.15,666.55 L191.47,666.64 L191.79,666.73 L192.11,666.83 L192.43,666.92 L192.76,667.01 L193.08,667.1 L193.4,667.19 L193.72,667.27 L194.04,667.36 L194.36,667.45 L194.69,667.54 L195.01,667.63 L195.33,667.72 L195.65,667.8 L195.97,667.89 L196.29,667.98 L196.61,668.06 L196.94,668.15 L197.26,668.24 L197.58,668.32 L197.9,668.41 L198.22,668.49 L198.54,668.58 L198.87,668.66 L199.19,668.75 L199.51,668.83 L199.83,668.91 L200.15,669 L200.47,669.08 L200.79,669.16 L201.12,669.25 L201.44,669.33 L201.76,669.41 L202.08,669.49 L202.4,669.57 L202.72,669.66 L203.05,669.74 L203.37,669.82 L203.69,669.9 L204.01,669.98 L204.33,670.06 L204.65,670.14 L204.97,670.22 L205.3,670.3 L205.62,670.38 L205.94,670.45 L206.26,670.53 L206.58,670.61 L206.9,670.69 L207.23,670.77 L207.55,670.84 L207.87,670.92 L208.19,671 L208.51,671.07 L208.83,671.15 L209.16,671.23 L209.48,671.3 L209.8,671.38 L210.12,671.45 L210.44,671.53 L210.76,671.6 L211.08,671.68 L211.41,671.75 L211.73,671.83 L212.05,671.9 L212.37,671.97 L212.69,672.05 L213.01,672.12 L213.34,672.19 L213.66,672.26 L213.98,672.34 L214.3,672.41 L214.62,672.48 L214.94,672.55 L215.26,672.62 L215.59,672.69 L215.91,672.77 L216.23,672.84 L216.55,672.91 L216.87,672.98 L217.19,673.05 L217.52,673.12 L217.84,673.19 L218.16,673.26 L218.48,673.32 L218.8,673.39 L219.12,673.46 L219.44,673.53 L219.77,673.6 L220.09,673.67 L220.41,673.73 L220.73,673.8 L221.05,673.87 L221.37,673.94 L221.7,674 L222.02,674.07 L222.34,674.14 L222.66,674.2 L222.98,674.27 L223.3,674.33 L223.62,674.4 L223.95,674.46 L224.27,674.53 L224.59,674.59 L224.91,674.66 L225.23,674.72 L225.55,674.79 L225.88,674.85 L226.2,674.91 L226.52,674.98 L226.84,675.04 L227.16,675.1 L227.48,675.17 L227.8,675.23 L228.13,675.29 L228.45,675.35 L228.77,675.42 L229.09,675.48 L229.41,675.54 L229.73,675.6 L230.06,675.66 L230.38,675.72 L230.7,675.78 L231.02,675.85 L231.34,675.91 L231.66,675.97 L231.99,676.03 L232.31,676.09 L232.63,676.15 L232.95,676.2 L233.27,676.26 L233.59,676.32 L233.91,676.38 L234.24,676.44 L234.56,676.5 L234.88,676.56 L235.2,676.61 L235.52,676.67 L235.84,676.73 L236.17,676.79 L236.49,676.85 L236.81,676.9 L237.13,676.96 L237.45,677.02 L237.77,677.07 L238.09,677.13 L238.42,677.18 L238.74,677.24 L239.06,677.3 L239.38,677.35 L239.7,677.41 L240.02,677.46 L240.35,677.52 L240.67,677.57 L240.99,677.63 L241.31,677.68 L241.63,677.74 L241.95,677.79 L242.27,677.84 L242.6,677.9 L242.92,677.95 L243.24,678 L243.56,678.06 L243.88,678.11 L244.2,678.16 L244.53,678.22 L244.85,678.27 L245.17,678.32 L245.49,678.37 L245.81,678.43 L246.13,678.48 L246.45,678.53 L246.78,678.58 L247.1,678.63 L247.42,678.68 L247.74,678.73 L248.06,678.79 L248.38,678.84 L248.71,678.89 L249.03,678.94 L249.35,678.99 L249.67,679.04 L249.99,679.09 L250.31,679.14 L250.64,679.19 L250.96,679.23 L251.28,679.28 L251.6,679.33 L251.92,679.38 L252.24,679.43 L252.56,679.48 L252.89,679.53 L253.21,679.58 L253.53,679.62 L253.85,679.67 L254.17,679.72 L254.49,679.77 L254.82,679.81 L255.14,679.86 L255.46,679.91 L255.78,679.95 L256.1,680 L256.42,680.05 L256.74,680.09 L257.07,680.14 L257.39,680.19 L257.71,680.23 L258.03,680.28 L258.35,680.32 L258.67,680.37 L259,680.42 L259.32,680.46 L259.64,680.51 L259.96,680.55 L260.28,680.6 L260.6,680.64 L260.92,680.68 L261.25,680.73 L261.57,680.77 L261.89,680.82 L262.21,680.86 L262.53,680.9 L262.85,680.95 L263.18,680.99 L263.5,681.03 L263.82,681.08 L264.14,681.12 L264.46,681.16 L264.78,681.21 L265.1,681.25 L265.43,681.29 L265.75,681.33 L266.07,681.38 L266.39,681.42 L266.71,681.46 L267.03,681.5 L267.36,681.54 L267.68,681.58 L268,681.63 L268.32,681.67 L268.64,681.71 L268.96,681.75 L269.28,681.79 L269.61,681.83 L269.93,681.87 L270.25,681.91 L270.57,681.95 L270.89,681.99 L271.21,682.03 L271.54,682.07 L271.86,682.11 L272.18,682.15 L272.5,682.19 L272.82,682.23 L273.14,682.27 L273.47,682.31 L273.79,682.35 L274.11,682.39 L274.43,682.42 L274.75,682.46 L275.07,682.5 L275.39,682.54 L275.72,682.58 L276.04,682.62 L276.36,682.65 L276.68,682.69 L277,682.73 L277.32,682.77 L277.65,682.8 L277.97,682.84 L278.29,682.88 L278.61,682.91 L278.93,682.95 L279.25,682.99 L279.57,683.03 L279.9,683.06 L280.22,683.1 L280.54,683.13 L280.86,683.17 L281.18,683.21 L281.5,683.24 L281.83,683.28 L282.15,683.31 L282.47,683.35 L282.79,683.38 L283.11,683.42 L283.43,683.46 L283.75,683.49 L284.08,683.53 L284.4,683.56 L284.72,683.6 L285.04,683.63 L285.36,683.66 L285.68,683.7 L286.01,683.73 L286.33,683.77 L286.65,683.8 L286.97,683.84 L287.29,683.87 L287.61,683.9 L287.93,683.94 L288.26,683.97 L288.58,684 L288.9,684.04 L289.22,684.07 L289.54,684.1 L289.86,684.14 L290.19,684.17 L290.51,684.2 L290.83,684.23 L291.15,684.27 L291.47,684.3 L291.79,684.33 L292.11,684.36 L292.44,684.4 L292.76,684.43 L293.08,684.46 L293.4,684.49 L293.72,684.52 L294.04,684.55 L294.37,684.59 L294.69,684.62 L295.01,684.65 L295.33,684.68 L295.65,684.71 L295.97,684.74 L296.3,684.77 L296.62,684.8 L296.94,684.83 L297.26,684.86 L297.58,684.89 L297.9,684.92 L298.22,684.95 L298.55,684.98 L298.87,685.01 L299.19,685.04 L299.51,685.07 L299.83,685.1 L300.15,685.13 L300.48,685.16 L300.8,685.19 L301.12,685.22 L301.44,685.25 L301.76,685.28 L302.08,685.31 L302.4,685.34 L302.73,685.37 L303.05,685.4 L303.37,685.42 L303.69,685.45 L304.01,685.48 L304.33,685.51 L304.66,685.54 L304.98,685.57 L305.3,685.59 L305.62,685.62 L305.94,685.65 L306.26,685.68 L306.58,685.71 L306.91,685.73 L307.23,685.76 L307.55,685.79 L307.87,685.82 L308.19,685.84 L308.51,685.87 L308.84,685.9 L309.16,685.92 L309.48,685.95 L309.8,685.98 L310.12,686 L310.44,686.03 L310.76,686.06 L311.09,686.08 L311.41,686.11 L311.73,686.14 L312.05,686.16 L312.37,686.19 L312.69,686.21 L313.02,686.24 L313.34,686.27 L313.66,686.29 L313.98,686.32 L314.3,686.34 L314.62,686.37 L314.94,686.39 L315.27,686.42 L315.59,686.44 L315.91,686.47 L316.23,686.49 L316.55,686.52 L316.87,686.54 L317.2,686.57 L317.52,686.59 L317.84,686.62 L318.16,686.64 L318.48,686.67 L318.8,686.69 L319.13,686.72 L319.45,686.74 L319.77,686.76 L320.09,686.79 L320.41,686.81 L320.73,686.84 L321.05,686.86 L321.38,686.88 L321.7,686.91 L322.02,686.93 L322.34,686.96 L322.66,686.98 L322.98,687 L323.31,687.03 L323.63,687.05 L323.95,687.07 L324.27,687.09 L324.59,687.12 L324.91,687.14 L325.23,687.16 L325.56,687.19 L325.88,687.21 L326.2,687.23 L326.52,687.25 L326.84,687.28 L327.16,687.3 L327.49,687.32 L327.81,687.34 L328.13,687.37 L328.45,687.39 L328.77,687.41 L329.09,687.43 L329.41,687.45 L329.74,687.48 L330.06,687.5 L330.38,687.52 L330.7,687.54 L331.02,687.56 L331.34,687.58 L331.67,687.6 L331.99,687.63 L332.31,687.65 L332.63,687.67 L332.95,687.69 L333.27,687.71 L333.59,687.73 L333.92,687.75 L334.24,687.77 L334.56,687.79 L334.88,687.81 L335.2,687.83 L335.52,687.86 L335.85,687.88 L336.17,687.9 L336.49,687.92 L336.81,687.94 L337.13,687.96 L337.45,687.98 L337.78,688 L338.1,688.02 L338.42,688.04 L338.74,688.06 L339.06,688.08 L339.38,688.1 L339.7,688.12 L340.03,688.14 L340.35,688.15 L340.67,688.17 L340.99,688.19 L341.31,688.21 L341.63,688.23 L341.96,688.25 L342.28,688.27 L342.6,688.29 L342.92,688.31 L343.24,688.33 L343.56,688.35 L343.88,688.37 L344.21,688.38 L344.53,688.4 L344.85,688.42 L345.17,688.44 L345.49,688.46 L345.81,688.48 L346.14,688.5 L346.46,688.51 L346.78,688.53 L347.1,688.55" class="dot"/>
<path d="M122.02,652.93 L186.33,652.93" class="pk" stroke-dashoffset="5.42"/>
<path d="M122.02,652.93 L122.02,629.25 L122.34,628.89 L122.66,628.54 L122.98,628.2 L123.3,627.86 L123.62,627.52 L123.94,627.19 L124.27,626.86 L124.59,626.54 L124.91,626.22 L125.23,625.91 L125.55,625.6 L125.87,625.3 L126.2,625 L126.52,624.7 L126.84,624.41 L127.16,624.13 L127.48,623.85 L127.8,623.57 L128.12,623.3 L128.45,623.04 L128.77,622.78 L129.09,622.52 L129.41,622.27 L129.73,622.02 L130.05,621.78 L130.38,621.54 L130.7,621.31 L131.02,621.08 L131.34,620.86 L131.66,620.64 L131.98,620.42 L132.3,620.21 L132.63,620.01 L132.95,619.81 L133.27,619.61 L133.59,619.42 L133.91,619.24 L134.23,619.06 L134.56,618.88 L134.88,618.71 L135.2,618.54 L135.52,618.38 L135.84,618.22 L136.16,618.07 L136.48,617.92 L136.81,617.77 L137.13,617.64 L137.45,617.5 L137.77,617.37 L138.09,617.25 L138.41,617.13 L138.74,617.01 L139.06,616.9 L139.38,616.8 L139.7,616.69 L140.02,616.6 L140.34,616.51 L140.66,616.42 L140.99,616.34 L141.31,616.26 L141.63,616.19 L141.95,616.12 L142.27,616.05 L142.59,616 L142.92,615.94 L143.24,615.89 L143.56,615.85 L143.88,615.81 L144.2,615.77 L144.52,615.74 L144.85,615.72 L145.17,615.69 L145.49,615.68 L145.81,615.67 L146.13,615.66 L146.45,615.66 L146.77,615.66 L147.1,615.67 L147.42,615.68 L147.74,615.69 L148.06,615.72 L148.38,615.74 L148.7,615.77 L149.03,615.81 L149.35,615.85 L149.67,615.89 L149.99,615.94 L150.31,616 L150.63,616.05 L150.95,616.12 L151.28,616.19 L151.6,616.26 L151.92,616.34 L152.24,616.42 L152.56,616.51 L152.88,616.6 L153.21,616.69 L153.53,616.8 L153.85,616.9 L154.17,617.01 L154.49,617.13 L154.81,617.25 L155.13,617.37 L155.46,617.5 L155.78,617.64 L156.1,617.77 L156.42,617.92 L156.74,618.07 L157.06,618.22 L157.39,618.38 L157.71,618.54 L158.03,618.71 L158.35,618.88 L158.67,619.06 L158.99,619.24 L159.31,619.42 L159.64,619.61 L159.96,619.81 L160.28,620.01 L160.6,620.21 L160.92,620.42 L161.24,620.64 L161.57,620.86 L161.89,621.08 L162.21,621.31 L162.53,621.54 L162.85,621.78 L163.17,622.02 L163.49,622.27 L163.82,622.52 L164.14,622.78 L164.46,623.04 L164.78,623.3 L165.1,623.57 L165.42,623.85 L165.75,624.13 L166.07,624.41 L166.39,624.7 L166.71,625 L167.03,625.3 L167.35,625.6 L167.68,625.91 L168,626.22 L168.32,626.54 L168.64,626.86 L168.96,627.19 L169.28,627.52 L169.6,627.86 L169.93,628.2 L170.25,628.54 L170.57,628.89 L170.89,629.25 L171.21,629.61 L171.53,629.98 L171.86,630.34 L172.18,630.72 L172.5,631.1 L172.82,631.48 L173.14,631.87 L173.46,632.26 L173.78,632.66 L174.11,633.06 L174.43,633.47 L174.75,633.88 L175.07,634.3 L175.39,634.72 L175.71,635.15 L176.04,635.58 L176.36,636.01 L176.68,636.45 L177,636.9 L177.32,637.35 L177.64,637.8 L177.96,638.26 L178.29,638.72 L178.61,639.19 L178.93,639.66 L179.25,640.14 L179.57,640.62 L179.89,641.11 L180.22,641.6 L180.54,642.1 L180.86,642.6 L181.18,643.11 L181.5,643.62 L181.82,644.13 L182.14,644.65 L182.47,645.18 L182.79,645.71 L183.11,646.24 L183.43,646.78 L183.75,647.32 L184.07,647.87 L184.4,648.43 L184.72,648.98 L185.04,649.55 L185.36,650.11 L185.68,650.69 L186,651.26 L186.33,651.84" class="gr"/>
<path d="M25.55,652.93 L25.87,652.93 L26.19,652.93 L26.51,652.93 L26.84,652.93 L27.16,652.93 L27.48,652.93 L27.8,652.93 L28.12,652.93 L28.44,652.93 L28.77,652.93 L29.09,652.93 L29.41,652.93 L29.73,652.93 L30.05,652.93 L30.37,652.93 L30.69,652.93 L31.02,652.93 L31.34,652.93 L31.66,652.93 L31.98,652.93 L32.3,652.93 L32.62,652.93 L32.95,652.93 L33.27,652.93 L33.59,652.93 L33.91,652.93 L34.23,652.93 L34.55,652.93 L34.87,652.93 L35.2,652.93 L35.52,652.93 L35.84,652.93 L36.16,652.93 L36.48,652.93 L36.8,652.93 L37.13,652.93 L37.45,652.93 L37.77,652.93 L38.09,652.93 L38.41,652.93 L38.73,652.93 L39.06,652.93 L39.38,652.93 L39.7,652.93 L40.02,652.93 L40.34,652.93 L40.66,652.93 L40.98,652.93 L41.31,652.93 L41.63,652.93 L41.95,652.93 L42.27,652.93 L42.59,652.93 L42.91,652.93 L43.24,652.93 L43.56,652.93 L43.88,652.93 L44.2,652.93 L44.52,652.93 L44.84,652.93 L45.16,652.93 L45.49,652.93 L45.81,652.93 L46.13,652.93 L46.45,652.93 L46.77,652.93 L47.09,652.93 L47.42,652.93 L47.74,652.93 L48.06,652.93 L48.38,652.93 L48.7,652.93 L49.02,652.93 L49.34,652.93 L49.67,652.93 L49.99,652.93 L50.31,652.93 L50.63,652.93 L50.95,652.93 L51.27,652.93 L51.6,652.93 L51.92,652.93 L52.24,652.93 L52.56,652.93 L52.88,652.93 L53.2,652.93 L53.52,652.93 L53.85,652.93 L54.17,652.93 L54.49,652.93 L54.81,652.93 L55.13,652.93 L55.45,652.93 L55.78,652.93 L56.1,652.93 L56.42,652.93 L56.74,652.93 L57.06,652.93 L57.38,652.93 L57.7,652.93 L58.03,652.93 L58.35,652.93 L58.67,652.93 L58.99,652.93 L59.31,652.93 L59.63,652.93 L59.96,652.93 L60.28,652.93 L60.6,652.93 L60.92,652.93 L61.24,652.93 L61.56,652.93 L61.89,652.93 L62.21,652.93 L62.53,652.93 L62.85,652.93 L63.17,652.93 L63.49,652.93 L63.81,652.93 L64.14,652.93 L64.46,652.93 L64.78,652.93 L65.1,652.93 L65.42,652.93 L65.74,652.93 L66.07,652.93 L66.39,652.93 L66.71,652.93 L67.03,652.93 L67.35,652.93 L67.67,652.93 L67.99,652.93 L68.32,652.93 L68.64,652.93 L68.96,652.93 L69.28,652.93 L69.6,652.93 L69.92,652.93 L70.25,652.93 L70.57,652.93 L70.89,652.93 L71.21,652.93 L71.53,652.93 L71.85,652.93 L72.17,652.93 L72.5,652.93 L72.82,652.93 L73.14,652.93 L73.46,652.93 L73.78,652.93 L74.1,652.93 L74.43,652.93 L74.75,652.93 L75.07,652.93 L75.39,652.93 L75.71,652.93 L76.03,652.93 L76.35,652.93 L76.68,652.93 L77,652.93 L77.32,652.93 L77.64,652.93 L77.96,652.93 L78.28,652.93 L78.61,652.93 L78.93,652.93 L79.25,652.93 L79.57,652.93 L79.89,652.93 L80.21,652.93 L80.54,652.93 L80.86,652.93 L81.18,652.93 L81.5,652.93 L81.82,652.93 L82.14,652.93 L82.46,652.93 L82.79,652.93 L83.11,652.93 L83.43,652.93 L83.75,652.93 L84.07,652.93 L84.39,652.93 L84.72,652.93 L85.04,652.93 L85.36,652.93 L85.68,652.93 L86,652.93 L86.32,652.93 L86.64,652.93 L86.97,652.93 L87.29,652.93 L87.61,652.93 L87.93,652.93 L88.25,652.93 L88.57,652.93 L88.9,652.93 L89.22,652.93 L89.54,652.93 L89.86,652.93 L90.18,652.93 L90.5,652.93 L90.82,652.93 L91.15,652.93 L91.47,652.93 L91.79,652.93 L92.11,652.93 L92.43,652.93 L92.75,652.93 L93.08,652.93 L93.4,652.93 L93.72,652.93 L94.04,652.93 L94.36,652.93 L94.68,652.93 L95,652.93 L95.33,652.93 L95.65,652.93 L95.97,652.93 L96.29,652.93 L96.61,652.93 L96.93,652.93 L97.26,652.93 L97.58,652.93 L97.9,652.93 L98.22,652.93 L98.54,652.93 L98.86,652.93 L99.18,652.93 L99.51,652.93 L99.83,652.93 L100.15,652.93 L100.47,652.93 L100.79,652.93 L101.11,652.93 L101.44,652.93 L101.76,652.93 L102.08,652.93 L102.4,652.93 L102.72,652.93 L103.04,652.93 L103.37,652.93 L103.69,652.93 L104.01,652.93 L104.33,652.93 L104.65,652.93 L104.97,652.93 L105.29,652.93 L105.62,652.93 L105.94,652.93 L106.26,652.93 L106.58,652.93 L106.9,652.93 L107.22,652.93 L107.55,652.93 L107.87,652.93 L108.19,652.93 L108.51,652.93 L108.83,652.93 L109.15,652.93 L109.47,652.93 L109.8,652.93 L110.12,652.93 L110.44,652.93 L110.76,652.93 L111.08,652.93 L111.4,652.93 L111.73,652.93 L112.05,652.93 L112.37,652.93 L112.69,652.93 L113.01,652.93 L113.33,652.93 L113.65,652.93 L113.98,652.93 L114.3,652.93 L114.62,652.93 L114.94,652.93 L115.26,652.93 L115.58,652.93 L115.91,652.93 L116.23,652.93 L116.55,652.93 L116.87,652.93 L117.19,652.93 L117.51,652.93 L117.83,652.93 L118.16,652.93 L118.48,652.93 L118.8,652.93 L119.12,652.93 L119.44,652.93 L119.76,652.93 L120.09,652.93 L120.41,652.93 L120.73,652.93 L121.05,652.93 L121.37,652.93 L121.69,652.93 L122.02,652.93 L122.34,651.44 L122.66,649.83 L122.98,648.12 L123.3,646.32 L123.62,644.46 L123.94,642.56 L124.27,640.63 L124.59,638.7 L124.91,636.79 L125.23,634.92 L125.55,633.11 L125.87,631.39 L126.2,629.78 L126.52,628.3 L126.84,626.96 L127.16,625.79 L127.48,624.8 L127.8,624 L128.12,623.41 L128.45,623.04 L128.77,622.89 L129.09,622.96 L129.41,623.27 L129.73,623.8 L130.05,624.56 L130.38,625.54 L130.7,626.72 L131.02,628.11 L131.34,629.67 L131.66,631.4 L131.98,633.28 L132.3,635.29 L132.63,637.39 L132.95,639.58 L133.27,641.83 L133.59,644.1 L133.91,646.37 L134.23,648.62 L134.56,650.82 L134.88,652.93 L135.2,654.95 L135.52,656.83 L135.84,658.56 L136.16,660.12 L136.48,661.48 L136.81,662.63 L137.13,663.55 L137.45,664.23 L137.77,664.66 L138.09,664.83 L138.41,664.74 L138.74,664.38 L139.06,663.77 L139.38,662.9 L139.7,661.78 L140.02,660.42 L140.34,658.84 L140.66,657.05 L140.99,655.07 L141.31,652.93 L141.63,650.65 L141.95,648.25 L142.27,645.75 L142.59,643.19 L142.92,640.6 L143.24,638 L143.56,635.43 L143.88,632.91 L144.2,630.47 L144.52,628.14 L144.85,625.94 L145.17,623.91 L145.49,622.06 L145.81,620.41 L146.13,618.99 L146.45,617.81 L146.77,616.88 L147.1,616.21 L147.42,615.81 L147.74,615.69 L148.06,615.85 L148.38,616.28 L148.7,616.98 L149.03,617.95 L149.35,619.16 L149.67,620.61 L149.99,622.28 L150.31,624.14 L150.63,626.19 L150.95,628.39 L151.28,630.72 L151.6,633.15 L151.92,635.66 L152.24,638.22 L152.56,640.79 L152.88,643.35 L153.21,645.88 L153.53,648.33 L153.85,650.69 L154.17,652.93 L154.49,655.03 L154.81,656.96 L155.13,658.7 L155.46,660.23 L155.78,661.55 L156.1,662.63 L156.42,663.46 L156.74,664.05 L157.06,664.38 L157.39,664.45 L157.71,664.27 L158.03,663.84 L158.35,663.17 L158.67,662.27 L158.99,661.16 L159.31,659.84 L159.64,658.33 L159.96,656.67 L160.28,654.86 L160.6,652.93 L160.92,650.91 L161.24,648.82 L161.57,646.69 L161.89,644.53 L162.21,642.39 L162.53,640.28 L162.85,638.23 L163.17,636.26 L163.49,634.4 L163.82,632.66 L164.14,631.06 L164.46,629.63 L164.78,628.38 L165.1,627.31 L165.42,626.45 L165.75,625.79 L166.07,625.34 L166.39,625.11 L166.71,625.1 L167.03,625.3 L167.35,625.7 L167.68,626.3 L168,627.09 L168.32,628.06 L168.64,629.19 L168.96,630.47 L169.28,631.87 L169.6,633.39 L169.93,635 L170.25,636.67 L170.57,638.4 L170.89,640.16 L171.21,641.93 L171.53,643.68 L171.86,645.4 L172.18,647.08 L172.5,648.68 L172.82,650.2 L173.14,651.62 L173.46,652.93 L173.78,654.12 L174.11,655.17 L174.43,656.09 L174.75,656.86 L175.07,657.48 L175.39,657.95 L175.71,658.28 L176.04,658.47 L176.36,658.51 L176.68,658.43 L177,658.22 L177.32,657.9 L177.64,657.48 L177.96,656.98 L178.29,656.4 L178.61,655.76 L178.93,655.08 L179.25,654.38 L179.57,653.65 L179.89,652.93 L180.22,652.23 L180.54,651.55 L180.86,650.92 L181.18,650.34 L181.5,649.83 L181.82,649.39 L182.14,649.03 L182.47,648.75 L182.79,648.57 L183.11,648.47 L183.43,648.47 L183.75,648.56 L184.07,648.74 L184.4,649 L184.72,649.34 L185.04,649.74 L185.36,650.21 L185.68,650.72 L186,651.27 L186.33,651.84 L186.65,652.93 L186.97,652.93 L187.29,652.93 L187.61,652.93 L187.93,652.93 L188.25,652.93 L188.58,652.93 L188.9,652.93 L189.22,652.93 L189.54,652.93 L189.86,652.93 L190.18,652.93 L190.51,652.93 L190.83,652.93 L191.15,652.93 L191.47,652.93 L191.79,652.93 L192.11,652.93 L192.43,652.93 L192.76,652.93 L193.08,652.93 L193.4,652.93 L193.72,652.93 L194.04,652.93 L194.36,652.93 L194.69,652.93 L195.01,652.93 L195.33,652.93 L195.65,652.93 L195.97,652.93 L196.29,652.93 L196.61,652.93 L196.94,652.93 L197.26,652.93 L197.58,652.93 L197.9,652.93 L198.22,652.93 L198.54,652.93 L198.87,652.93 L199.19,652.93 L199.51,652.93 L199.83,652.93 L200.15,652.93 L200.47,652.93 L200.79,652.93 L201.12,652.93 L201.44,652.93 L201.76,652.93 L202.08,652.93 L202.4,652.93 L202.72,652.93 L203.05,652.93 L203.37,652.93 L203.69,652.93 L204.01,652.93 L204.33,652.93 L204.65,652.93 L204.97,652.93 L205.3,652.93 L205.62,652.93 L205.94,652.93 L206.26,652.93 L206.58,652.93 L206.9,652.93 L207.23,652.93 L207.55,652.93 L207.87,652.93 L208.19,652.93 L208.51,652.93 L208.83,652.93 L209.16,652.93 L209.48,652.93 L209.8,652.93 L210.12,652.93 L210.44,652.93 L210.76,652.93 L211.08,652.93 L211.41,652.93 L211.73,652.93 L212.05,652.93 L212.37,652.93 L212.69,652.93 L213.01,652.93 L213.34,652.93 L213.66,652.93 L213.98,652.93 L214.3,652.93 L214.62,652.93 L214.94,652.93 L215.26,652.93 L215.59,652.93 L215.91,652.93 L216.23,652.93 L216.55,652.93 L216.87,652.93 L217.19,652.93 L217.52,652.93 L217.84,652.93 L218.16,652.93 L218.48,652.93 L218.8,652.93 L219.12,652.93 L219.44,652.93 L219.77,652.93 L220.09,652.93 L220.41,652.93 L220.73,652.93 L221.05,652.93 L221.37,652.93 L221.7,652.93 L222.02,652.93 L222.34,652.93 L222.66,652.93 L222.98,652.93 L223.3,652.93 L223.62,652.93 L223.95,652.93 L224.27,652.93 L224.59,652.93 L224.91,652.93 L225.23,652.93 L225.55,652.93 L225.88,652.93 L226.2,652.93 L226.52,652.93 L226.84,652.93 L227.16,652.93 L227.48,652.93 L227.8,652.93 L228.13,652.93 L228.45,652.93 L228.77,652.93 L229.09,652.93 L229.41,652.93 L229.73,652.93 L230.06,652.93 L230.38,652.93 L230.7,652.93 L231.02,652.93 L231.34,652.93 L231.66,652.93 L231.99,652.93 L232.31,652.93 L232.63,652.93 L232.95,652.93 L233.27,652.93 L233.59,652.93 L233.91,652.93 L234.24,652.93 L234.56,652.93 L234.88,652.93 L235.2,652.93 L235.52,652.93 L235.84,652.93 L236.17,652.93 L236.49,652.93 L236.81,652.93 L237.13,652.93 L237.45,652.93 L237.77,652.93 L238.09,652.93 L238.42,652.93 L238.74,652.93 L239.06,652.93 L239.38,652.93 L239.7,652.93 L240.02,652.93 L240.35,652.93 L240.67,652.93 L240.99,652.93 L241.31,652.93 L241.63,652.93 L241.95,652.93 L242.27,652.93 L242.6,652.93 L242.92,652.93 L243.24,652.93 L243.56,652.93 L243.88,652.93 L244.2,652.93 L244.53,652.93 L244.85,652.93 L245.17,652.93 L245.49,652.93 L245.81,652.93 L246.13,652.93 L246.45,652.93 L246.78,652.93 L247.1,652.93 L247.42,652.93 L247.74,652.93 L248.06,652.93 L248.38,652.93 L248.71,652.93 L249.03,652.93 L249.35,652.93 L249.67,652.93 L249.99,652.93 L250.31,652.93 L250.64,652.93 L250.96,652.93 L251.28,652.93 L251.6,652.93 L251.92,652.93 L252.24,652.93 L252.56,652.93 L252.89,652.93 L253.21,652.93 L253.53,652.93 L253.85,652.93 L254.17,652.93 L254.49,652.93 L254.82,652.93 L255.14,652.93 L255.46,652.93 L255.78,652.93 L256.1,652.93 L256.42,652.93 L256.74,652.93 L257.07,652.93 L257.39,652.93 L257.71,652.93 L258.03,652.93 L258.35,652.93 L258.67,652.93 L259,652.93 L259.32,652.93 L259.64,652.93 L259.96,652.93 L260.28,652.93 L260.6,652.93 L260.92,652.93 L261.25,652.93 L261.57,652.93 L261.89,652.93 L262.21,652.93 L262.53,652.93 L262.85,652.93 L263.18,652.93 L263.5,652.93 L263.82,652.93 L264.14,652.93 L264.46,652.93 L264.78,652.93 L265.1,652.93 L265.43,652.93 L265.75,652.93 L266.07,652.93 L266.39,652.93 L266.71,652.93 L267.03,652.93 L267.36,652.93 L267.68,652.93 L268,652.93 L268.32,652.93 L268.64,652.93 L268.96,652.93 L269.28,652.93 L269.61,652.93 L269.93,652.93 L270.25,652.93 L270.57,652.93 L270.89,652.93 L271.21,652.93 L271.54,652.93 L271.86,652.93 L272.18,652.93 L272.5,652.93 L272.82,652.93 L273.14,652.93 L273.47,652.93 L273.79,652.93 L274.11,652.93 L274.43,652.93 L274.75,652.93 L275.07,652.93 L275.39,652.93 L275.72,652.93 L276.04,652.93 L276.36,652.93 L276.68,652.93 L277,652.93 L277.32,652.93 L277.65,652.93 L277.97,652.93 L278.29,652.93 L278.61,652.93 L278.93,652.93 L279.25,652.93 L279.57,652.93 L279.9,652.93 L280.22,652.93 L280.54,652.93 L280.86,652.93 L281.18,652.93 L281.5,652.93 L281.83,652.93 L282.15,652.93 L282.47,652.93 L282.79,652.93 L283.11,652.93 L283.43,652.93 L283.75,652.93 L284.08,652.93 L284.4,652.93 L284.72,652.93 L285.04,652.93 L285.36,652.93 L285.68,652.93 L286.01,652.93 L286.33,652.93 L286.65,652.93 L286.97,652.93 L287.29,652.93 L287.61,652.93 L287.93,652.93 L288.26,652.93 L288.58,652.93 L288.9,652.93 L289.22,652.93 L289.54,652.93 L289.86,652.93 L290.19,652.93 L290.51,652.93 L290.83,652.93 L291.15,652.93 L291.47,652.93 L291.79,652.93 L292.11,652.93 L292.44,652.93 L292.76,652.93 L293.08,652.93 L293.4,652.93 L293.72,652.93 L294.04,652.93 L294.37,652.93 L294.69,652.93 L295.01,652.93 L295.33,652.93 L295.65,652.93 L295.97,652.93 L296.3,652.93 L296.62,652.93 L296.94,652.93 L297.26,652.93 L297.58,652.93 L297.9,652.93 L298.22,652.93 L298.55,652.93 L298.87,652.93 L299.19,652.93 L299.51,652.93 L299.83,652.93 L300.15,652.93 L300.48,652.93 L300.8,652.93 L301.12,652.93 L301.44,652.93 L301.76,652.93 L302.08,652.93 L302.4,652.93 L302.73,652.93 L303.05,652.93 L303.37,652.93 L303.69,652.93 L304.01,652.93 L304.33,652.93 L304.66,652.93 L304.98,652.93 L305.3,652.93 L305.62,652.93 L305.94,652.93 L306.26,652.93 L306.58,652.93 L306.91,652.93 L307.23,652.93 L307.55,652.93 L307.87,652.93 L308.19,652.93 L308.51,652.93 L308.84,652.93 L309.16,652.93 L309.48,652.93 L309.8,652.93 L310.12,652.93 L310.44,652.93 L310.76,652.93 L311.09,652.93 L311.41,652.93 L311.73,652.93 L312.05,652.93 L312.37,652.93 L312.69,652.93 L313.02,652.93 L313.34,652.93 L313.66,652.93 L313.98,652.93 L314.3,652.93 L314.62,652.93 L314.94,652.93 L315.27,652.93 L315.59,652.93 L315.91,652.93 L316.23,652.93 L316.55,652.93 L316.87,652.93 L317.2,652.93 L317.52,652.93 L317.84,652.93 L318.16,652.93 L318.48,652.93 L318.8,652.93 L319.13,652.93 L319.45,652.93 L319.77,652.93 L320.09,652.93 L320.41,652.93 L320.73,652.93 L321.05,652.93 L321.38,652.93 L321.7,652.93 L322.02,652.93 L322.34,652.93 L322.66,652.93 L322.98,652.93 L323.31,652.93 L323.63,652.93 L323.95,652.93 L324.27,652.93 L324.59,652.93 L324.91,652.93 L325.23,652.93 L325.56,652.93 L325.88,652.93 L326.2,652.93 L326.52,652.93 L326.84,652.93 L327.16,652.93 L327.49,652.93 L327.81,652.93 L328.13,652.93 L328.45,652.93 L328.77,652.93 L329.09,652.93 L329.41,652.93 L329.74,652.93 L330.06,652.93 L330.38,652.93 L330.7,652.93 L331.02,652.93 L331.34,652.93 L331.67,652.93 L331.99,652.93 L332.31,652.93 L332.63,652.93 L332.95,652.93 L333.27,652.93 L333.59,652.93 L333.92,652.93 L334.24,652.93 L334.56,652.93 L334.88,652.93 L335.2,652.93 L335.52,652.93 L335.85,652.93 L336.17,652.93 L336.49,652.93 L336.81,652.93 L337.13,652.93 L337.45,652.93 L337.78,652.93 L338.1,652.93 L338.42,652.93 L338.74,652.93 L339.06,652.93 L339.38,652.93 L339.7,652.93 L340.03,652.93 L340.35,652.93 L340.67,652.93 L340.99,652.93 L341.31,652.93 L341.63,652.93 L341.96,652.93 L342.28,652.93 L342.6,652.93 L342.92,652.93 L343.24,652.93 L343.56,652.93 L343.88,652.93 L344.21,652.93 L344.53,652.93 L344.85,652.93 L345.17,652.93 L345.49,652.93 L345.81,652.93 L346.14,652.93 L346.46,652.93 L346.78,652.93 L347.1,652.93" class="r"/>
<path d="M25.5,690.84h3.2M347.2,690.84h-3.2M25.5,687.68h3.2M347.2,687.68h-3.2M25.5,684.52h3.2M347.2,684.52h-3.2M25.5,681.36h3.2M347.2,681.36h-3.2M25.5,678.21h3.2M347.2,678.21h-3.2M25.5,675.05h3.2M347.2,675.05h-3.2M25.5,671.89h3.2M347.2,671.89h-3.2M25.5,668.73h3.2M347.2,668.73h-3.2M25.5,665.57h3.2M347.2,665.57h-3.2M25.5,662.41h6.4M347.2,662.41h-6.4M25.5,659.25h3.2M347.2,659.25h-3.2M25.5,656.09h3.2M347.2,656.09h-3.2M25.5,652.93h3.2M347.2,652.93h-3.2M25.5,649.77h3.2M347.2,649.77h-3.2M25.5,646.62h3.2M347.2,646.62h-3.2M25.5,643.46h3.2M347.2,643.46h-3.2M25.5,640.3h3.2M347.2,640.3h-3.2M25.5,637.14h3.2M347.2,637.14h-3.2M25.5,633.98h3.2M347.2,633.98h-3.2M25.5,630.82h6.4M347.2,630.82h-6.4M25.5,627.66h3.2M347.2,627.66h-3.2M25.5,624.5h3.2M347.2,624.5h-3.2M25.5,621.34h3.2M347.2,621.34h-3.2M25.5,618.18h3.2M347.2,618.18h-3.2M25.5,615.02h3.2M347.2,615.02h-3.2M25.5,611.87h3.2M347.2,611.87h-3.2M25.5,608.71h3.2M347.2,608.71h-3.2M25.5,605.55h3.2M347.2,605.55h-3.2M25.5,602.39h3.2M347.2,602.39h-3.2M25.5,599.23h6.4M347.2,599.23h-6.4M25.5,596.07h3.2M347.2,596.07h-3.2M25.5,592.91h3.2M347.2,592.91h-3.2M25.5,589.75h3.2M347.2,589.75h-3.2M25.5,586.59h3.2M347.2,586.59h-3.2M25.5,583.43h3.2M347.2,583.43h-3.2M25.5,580.28h3.2M347.2,580.28h-3.2M25.5,577.12h3.2M347.2,577.12h-3.2M25.5,573.96h3.2M347.2,573.96h-3.2M25.5,570.8h3.2M347.2,570.8h-3.2M25.5,567.64h6.4M347.2,567.64h-6.4M25.5,564.48h3.2M347.2,564.48h-3.2M25.5,561.32h3.2M347.2,561.32h-3.2M25.5,558.16h3.2M347.2,558.16h-3.2M25.5,555h3.2M347.2,555h-3.2M25.5,551.85h3.2M347.2,551.85h-3.2M25.5,548.69h3.2M347.2,548.69h-3.2M25.5,545.53h3.2M347.2,545.53h-3.2M25.5,542.37h3.2M347.2,542.37h-3.2M25.5,539.21h3.2M347.2,539.21h-3.2M25.5,536.05h6.4M347.2,536.05h-6.4M25.5,532.89h3.2M347.2,532.89h-3.2M25.5,529.73h3.2M347.2,529.73h-3.2M25.5,526.57h3.2M347.2,526.57h-3.2M25.5,523.41h3.2M347.2,523.41h-3.2M25.5,520.25h3.2M347.2,520.25h-3.2M25.5,517.1h3.2M347.2,517.1h-3.2M25.5,513.94h3.2M347.2,513.94h-3.2M25.5,510.78h3.2M347.2,510.78h-3.2M25.5,507.62h3.2M347.2,507.62h-3.2M31.98,694v-1.9M31.98,504.6v1.9M38.41,694v-1.9M38.41,504.6v1.9M44.84,694v-1.9M44.84,504.6v1.9M51.27,694v-1.9M51.27,504.6v1.9M57.7,694v-1.9M57.7,504.6v1.9M64.14,694v-1.9M64.14,504.6v1.9M70.57,694v-1.9M70.57,504.6v1.9M77,694v-1.9M77,504.6v1.9M83.43,694v-1.9M83.43,504.6v1.9M89.86,694v-3.8M89.86,504.6v3.8M96.29,694v-1.9M96.29,504.6v1.9M102.72,694v-1.9M102.72,504.6v1.9M109.15,694v-1.9M109.15,504.6v1.9M115.58,694v-1.9M115.58,504.6v1.9M122.02,694v-1.9M122.02,504.6v1.9M128.45,694v-1.9M128.45,504.6v1.9M134.88,694v-1.9M134.88,504.6v1.9M141.31,694v-1.9M141.31,504.6v1.9M147.74,694v-1.9M147.74,504.6v1.9M154.17,694v-3.8M154.17,504.6v3.8M160.6,694v-1.9M160.6,504.6v1.9M167.03,694v-1.9M167.03,504.6v1.9M173.46,694v-1.9M173.46,504.6v1.9M179.89,694v-1.9M179.89,504.6v1.9M186.33,694v-1.9M186.33,504.6v1.9M192.76,694v-1.9M192.76,504.6v1.9M199.19,694v-1.9M199.19,504.6v1.9M205.62,694v-1.9M205.62,504.6v1.9M212.05,694v-1.9M212.05,504.6v1.9M218.48,694v-3.8M218.48,504.6v3.8M224.91,694v-1.9M224.91,504.6v1.9M231.34,694v-1.9M231.34,504.6v1.9M237.77,694v-1.9M237.77,504.6v1.9M244.2,694v-1.9M244.2,504.6v1.9M250.64,694v-1.9M250.64,504.6v1.9M257.07,694v-1.9M257.07,504.6v1.9M263.5,694v-1.9M263.5,504.6v1.9M269.93,694v-1.9M269.93,504.6v1.9M276.36,694v-1.9M276.36,504.6v1.9M282.79,694v-3.8M282.79,504.6v3.8M289.22,694v-1.9M289.22,504.6v1.9M295.65,694v-1.9M295.65,504.6v1.9M302.08,694v-1.9M302.08,504.6v1.9M308.51,694v-1.9M308.51,504.6v1.9M314.94,694v-1.9M314.94,504.6v1.9M321.38,694v-1.9M321.38,504.6v1.9M327.81,694v-1.9M327.81,504.6v1.9M334.24,694v-1.9M334.24,504.6v1.9M340.67,694v-1.9M340.67,504.6v1.9" class="tk"/>
<text x="23.2" y="694.65" class="tl" text-anchor="end">0</text>
<text x="23.2" y="665.58" class="tl" text-anchor="end">10</text>
<text x="23.2" y="634.02" class="tl" text-anchor="end">20</text>
<text x="23.2" y="602.45" class="tl" text-anchor="end">30</text>
<text x="23.2" y="570.88" class="tl" text-anchor="end">40</text>
<text x="23.2" y="539.32" class="tl" text-anchor="end">50</text>
<text x="23.2" y="509.3" class="tl" text-anchor="end">60</text>
<text x="25.5" y="705.3" class="tl" text-anchor="middle">0</text>
<text x="89.84" y="705.3" class="tl" text-anchor="middle">100</text>
<text x="154.18" y="705.3" class="tl" text-anchor="middle">200</text>
<text x="218.52" y="705.3" class="tl" text-anchor="middle">300</text>
<text x="282.86" y="705.3" class="tl" text-anchor="middle">400</text>
<text x="347.2" y="705.3" class="tl" text-anchor="middle">500</text>
<text x="186.35" y="715.3" class="tl" text-anchor="middle">time (mins)</text>
<text transform="translate(7.1,599.7) rotate(-90)" class="tl" text-anchor="middle">flux</text>
<text x="186.35" y="500.3" class="tt" text-anchor="middle">Two decay phase flare profile, Type G QPP, Spline envelope</text>
</g>
</svg></body></html>
